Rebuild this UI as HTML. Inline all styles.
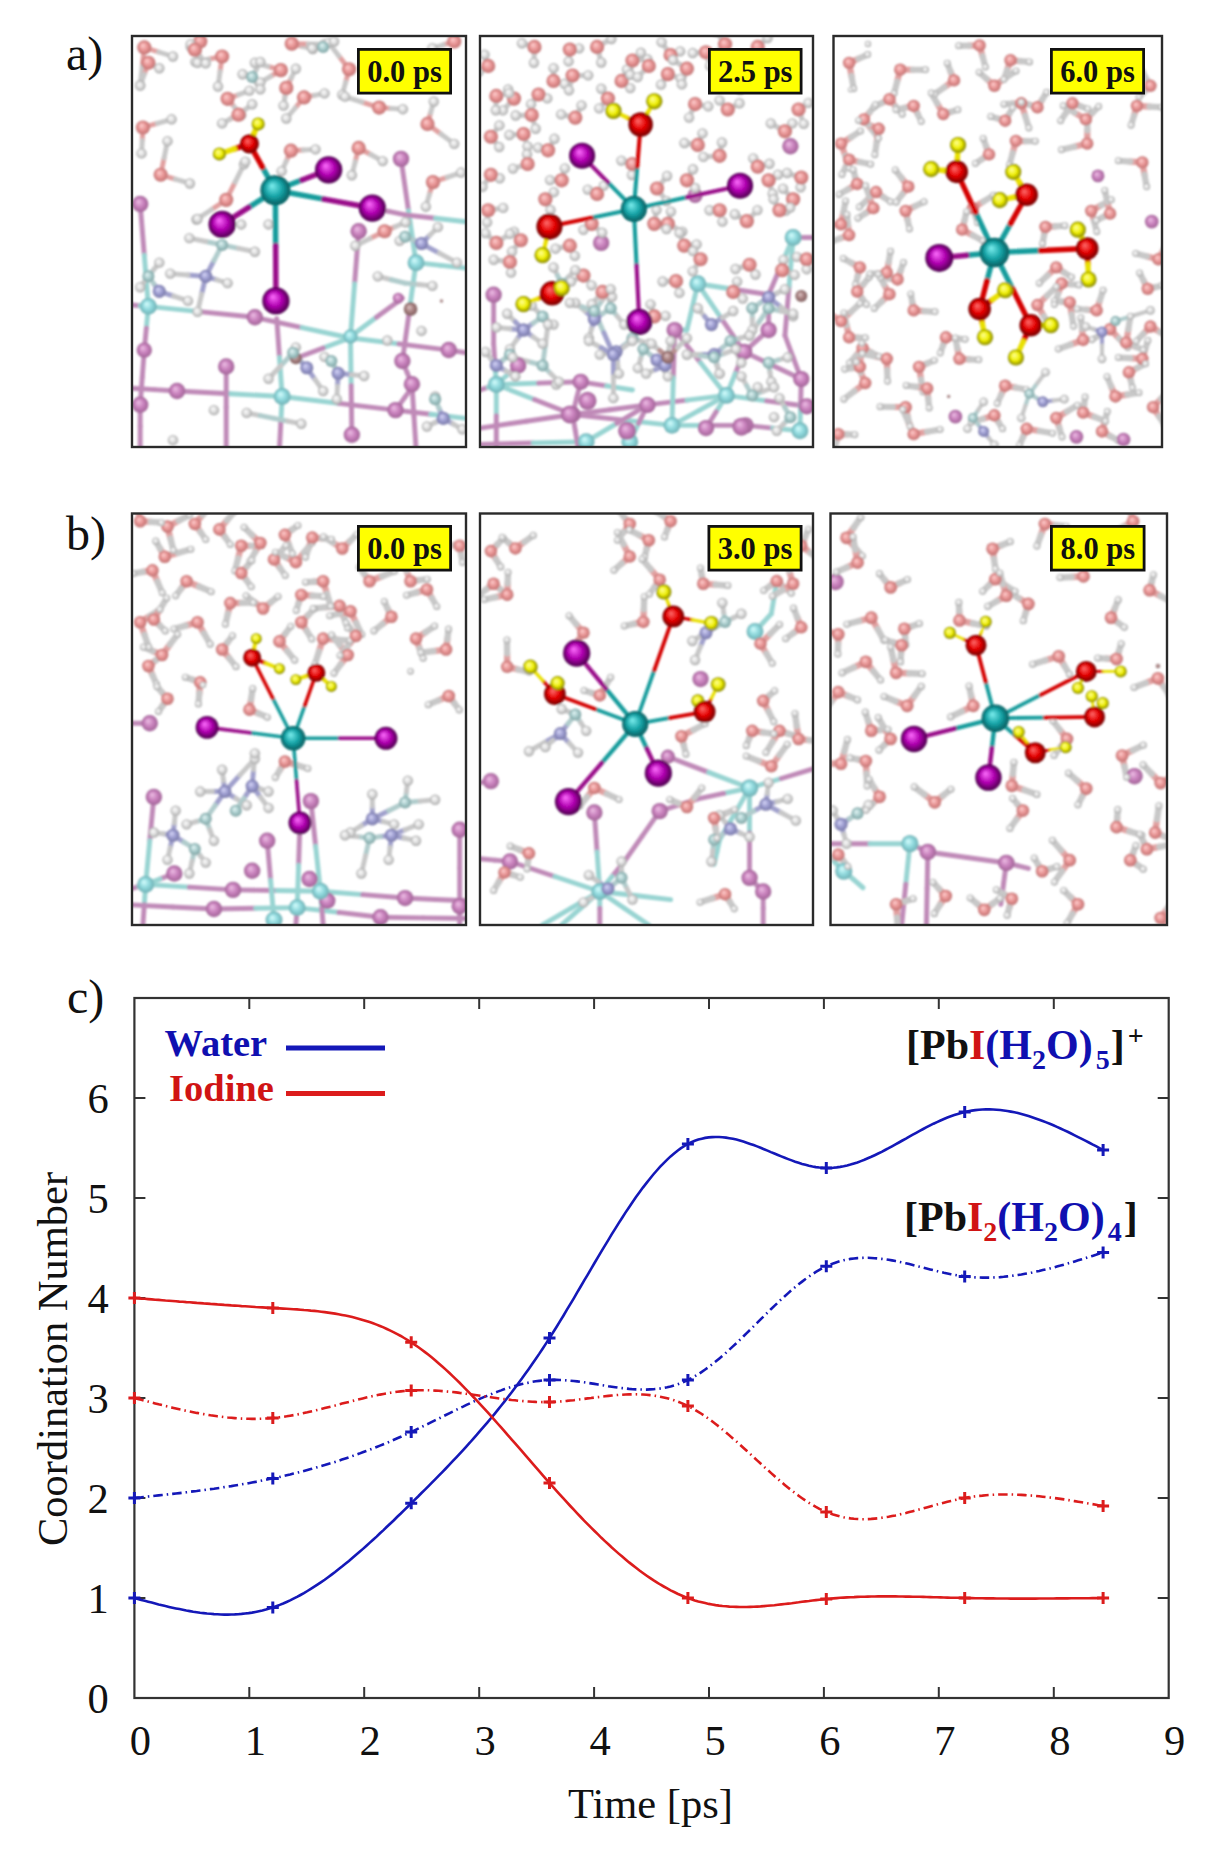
<!DOCTYPE html>
<html><head><meta charset="utf-8"><style>
html,body{margin:0;padding:0;background:#fff;}
body{width:1223px;height:1850px;overflow:hidden;position:relative;}
svg{position:absolute;left:0;top:0;}
text{font-family:"Liberation Serif",serif;}
.tl{font-size:42.5px;fill:#111;}
.pl{font-size:48px;fill:#111;}
.lg{font-size:38.5px;font-weight:bold;}
.fm{font-size:42px;font-weight:bold;}
.ps{font-size:30.5px;font-weight:bold;fill:#111;}
</style></head><body>
<svg width="1223" height="1850" viewBox="0 0 1223 1850">
<defs><radialGradient id="gPb" cx="0.5" cy="0.5" r="0.5" fx="0.38" fy="0.34"><stop offset="0" stop-color="#7ff0f0"/><stop offset="0.55" stop-color="#17a5a8"/><stop offset="1" stop-color="#035a5c"/></radialGradient><radialGradient id="gI" cx="0.5" cy="0.5" r="0.5" fx="0.38" fy="0.34"><stop offset="0" stop-color="#ff70ff"/><stop offset="0.55" stop-color="#b000b0"/><stop offset="1" stop-color="#4a004a"/></radialGradient><radialGradient id="gO" cx="0.5" cy="0.5" r="0.5" fx="0.38" fy="0.34"><stop offset="0" stop-color="#ff7070"/><stop offset="0.55" stop-color="#e40000"/><stop offset="1" stop-color="#700000"/></radialGradient><radialGradient id="gH" cx="0.5" cy="0.5" r="0.5" fx="0.38" fy="0.34"><stop offset="0" stop-color="#ffffa0"/><stop offset="0.55" stop-color="#f0f000"/><stop offset="1" stop-color="#808000"/></radialGradient><radialGradient id="gpb" cx="0.5" cy="0.5" r="0.5" fx="0.38" fy="0.34"><stop offset="0" stop-color="#d8ffff"/><stop offset="0.55" stop-color="#8ed8dc"/><stop offset="1" stop-color="#70b0b4"/></radialGradient><radialGradient id="gi" cx="0.5" cy="0.5" r="0.5" fx="0.38" fy="0.34"><stop offset="0" stop-color="#eec0e6"/><stop offset="0.55" stop-color="#c880bc"/><stop offset="1" stop-color="#a06496"/></radialGradient><radialGradient id="go" cx="0.5" cy="0.5" r="0.5" fx="0.38" fy="0.34"><stop offset="0" stop-color="#ffd0d0"/><stop offset="0.55" stop-color="#e89494"/><stop offset="1" stop-color="#c07272"/></radialGradient><radialGradient id="gh" cx="0.5" cy="0.5" r="0.5" fx="0.38" fy="0.34"><stop offset="0" stop-color="#ffffff"/><stop offset="0.55" stop-color="#dedede"/><stop offset="1" stop-color="#a8a8a8"/></radialGradient><radialGradient id="gn" cx="0.5" cy="0.5" r="0.5" fx="0.38" fy="0.34"><stop offset="0" stop-color="#d8d8f8"/><stop offset="0.55" stop-color="#9c9cd0"/><stop offset="1" stop-color="#7a7aa8"/></radialGradient><radialGradient id="gc" cx="0.5" cy="0.5" r="0.5" fx="0.38" fy="0.34"><stop offset="0" stop-color="#e8f8f8"/><stop offset="0.55" stop-color="#a8cccc"/><stop offset="1" stop-color="#80a4a4"/></radialGradient><radialGradient id="gx" cx="0.5" cy="0.5" r="0.5" fx="0.38" fy="0.34"><stop offset="0" stop-color="#e0c8c8"/><stop offset="0.55" stop-color="#a88080"/><stop offset="1" stop-color="#806060"/></radialGradient><filter id="blur" x="-5%" y="-5%" width="110%" height="110%"><feGaussianBlur stdDeviation="1.1"/></filter></defs>
<clipPath id="cp0"><rect x="132" y="36" width="334" height="411"/></clipPath>
<g clip-path="url(#cp0)"><g filter="url(#blur)"><g transform="translate(132,36) scale(0.27310)" stroke-linecap="round"><path d="M0.0,985.0L30.0,987.5" stroke="#c08ab8" stroke-width="18.0"/><path d="M30.0,987.5L60.0,990.0" stroke="#98d4d2" stroke-width="18.0"/><path d="M60.0,990.0L255.0,1010.0" stroke="#98d4d2" stroke-width="18.0"/><path d="M255.0,1010.0L450.0,1030.0" stroke="#c08ab8" stroke-width="18.0"/><path d="M450.0,1030.0L622.5,1067.5" stroke="#c08ab8" stroke-width="18.0"/><path d="M622.5,1067.5L795.0,1105.0" stroke="#98d4d2" stroke-width="18.0"/><path d="M795.0,1105.0L977.5,1127.5" stroke="#98d4d2" stroke-width="18.0"/><path d="M977.5,1127.5L1160.0,1150.0" stroke="#c08ab8" stroke-width="18.0"/><path d="M1160.0,1150.0L1191.5,1155.0" stroke="#c08ab8" stroke-width="18.0"/><path d="M1191.5,1155.0L1223.0,1160.0" stroke="#c08ab8" stroke-width="18.0"/><path d="M0.0,1290.0L82.5,1295.0" stroke="#c08ab8" stroke-width="18.0"/><path d="M82.5,1295.0L165.0,1300.0" stroke="#c08ab8" stroke-width="18.0"/><path d="M165.0,1300.0L357.5,1310.0" stroke="#c08ab8" stroke-width="18.0"/><path d="M357.5,1310.0L550.0,1320.0" stroke="#98d4d2" stroke-width="18.0"/><path d="M550.0,1320.0L757.5,1345.0" stroke="#98d4d2" stroke-width="18.0"/><path d="M757.5,1345.0L965.0,1370.0" stroke="#c08ab8" stroke-width="18.0"/><path d="M965.0,1370.0L1094.0,1385.0" stroke="#c08ab8" stroke-width="18.0"/><path d="M1094.0,1385.0L1223.0,1400.0" stroke="#98d4d2" stroke-width="18.0"/><path d="M30.0,615.0L45.0,802.5" stroke="#c08ab8" stroke-width="18.0"/><path d="M45.0,802.5L60.0,990.0" stroke="#98d4d2" stroke-width="18.0"/><path d="M60.0,990.0L52.5,1070.0" stroke="#98d4d2" stroke-width="18.0"/><path d="M52.5,1070.0L45.0,1150.0" stroke="#c08ab8" stroke-width="18.0"/><path d="M45.0,1150.0L37.5,1250.0" stroke="#c08ab8" stroke-width="18.0"/><path d="M37.5,1250.0L30.0,1350.0" stroke="#c08ab8" stroke-width="18.0"/><path d="M30.0,1350.0L30.0,1430.0" stroke="#c08ab8" stroke-width="18.0"/><path d="M30.0,1430.0L30.0,1510.0" stroke="#c08ab8" stroke-width="18.0"/><path d="M530.0,1035.0L540.0,1177.5" stroke="#c08ab8" stroke-width="18.0"/><path d="M540.0,1177.5L550.0,1320.0" stroke="#98d4d2" stroke-width="18.0"/><path d="M550.0,1320.0L545.0,1415.0" stroke="#98d4d2" stroke-width="18.0"/><path d="M545.0,1415.0L540.0,1510.0" stroke="#c08ab8" stroke-width="18.0"/><path d="M830.0,715.0L815.0,907.5" stroke="#c08ab8" stroke-width="18.0"/><path d="M815.0,907.5L800.0,1100.0" stroke="#98d4d2" stroke-width="18.0"/><path d="M800.0,1100.0L802.5,1280.0" stroke="#98d4d2" stroke-width="18.0"/><path d="M802.5,1280.0L805.0,1460.0" stroke="#c08ab8" stroke-width="18.0"/><path d="M985.0,450.0L1012.5,640.0" stroke="#c08ab8" stroke-width="18.0"/><path d="M1012.5,640.0L1040.0,830.0" stroke="#98d4d2" stroke-width="18.0"/><path d="M1040.0,830.0L1015.0,1010.0" stroke="#98d4d2" stroke-width="18.0"/><path d="M1015.0,1010.0L990.0,1190.0" stroke="#c08ab8" stroke-width="18.0"/><path d="M990.0,1190.0L1007.5,1232.5" stroke="#c08ab8" stroke-width="18.0"/><path d="M1007.5,1232.5L1025.0,1275.0" stroke="#c08ab8" stroke-width="18.0"/><path d="M1025.0,1275.0L1032.5,1392.5" stroke="#c08ab8" stroke-width="18.0"/><path d="M1032.5,1392.5L1040.0,1510.0" stroke="#c08ab8" stroke-width="18.0"/><path d="M345.0,1210.0L345.0,1360.0" stroke="#c08ab8" stroke-width="18.0"/><path d="M345.0,1360.0L345.0,1510.0" stroke="#c08ab8" stroke-width="18.0"/><path d="M800.0,1100.0L895.0,1030.0" stroke="#98d4d2" stroke-width="18.0"/><path d="M895.0,1030.0L990.0,960.0" stroke="#c08ab8" stroke-width="18.0"/><path d="M1040.0,830.0L1131.5,840.0" stroke="#98d4d2" stroke-width="18.0"/><path d="M1131.5,840.0L1223.0,850.0" stroke="#98d4d2" stroke-width="18.0"/><path d="M880.0,630.0L940.0,642.5" stroke="#c08ab8" stroke-width="18.0"/><path d="M940.0,642.5L1000.0,655.0" stroke="#c08ab8" stroke-width="18.0"/><path d="M1000.0,655.0L1111.5,667.5" stroke="#c08ab8" stroke-width="18.0"/><path d="M1111.5,667.5L1223.0,680.0" stroke="#98d4d2" stroke-width="18.0"/><path d="M965.0,1370.0L997.5,1325.0" stroke="#c08ab8" stroke-width="18.0"/><path d="M997.5,1325.0L1030.0,1280.0" stroke="#c08ab8" stroke-width="18.0"/><path d="M45.0,42.0L97.5,58.5" stroke="#e2a0a0" stroke-width="18.0"/><path d="M97.5,58.5L150.0,75.0" stroke="#c8c8c8" stroke-width="18.0"/><path d="M45.0,42.0L37.5,111.0" stroke="#e2a0a0" stroke-width="18.0"/><path d="M37.5,111.0L30.0,180.0" stroke="#c8c8c8" stroke-width="18.0"/><path d="M330.0,75.0L281.0,85.0" stroke="#e2a0a0" stroke-width="18.0"/><path d="M281.0,85.0L232.0,95.0" stroke="#c8c8c8" stroke-width="18.0"/><path d="M330.0,75.0L322.5,130.0" stroke="#e2a0a0" stroke-width="18.0"/><path d="M322.5,130.0L315.0,185.0" stroke="#c8c8c8" stroke-width="18.0"/><path d="M545.0,125.0L497.5,111.5" stroke="#e2a0a0" stroke-width="18.0"/><path d="M497.5,111.5L450.0,98.0" stroke="#c8c8c8" stroke-width="18.0"/><path d="M545.0,125.0L507.5,147.5" stroke="#e2a0a0" stroke-width="18.0"/><path d="M507.5,147.5L470.0,170.0" stroke="#c8c8c8" stroke-width="18.0"/><path d="M565.0,190.0L560.0,222.5" stroke="#e2a0a0" stroke-width="18.0"/><path d="M560.0,222.5L555.0,255.0" stroke="#c8c8c8" stroke-width="18.0"/><path d="M565.0,190.0L582.5,155.0" stroke="#e2a0a0" stroke-width="18.0"/><path d="M582.5,155.0L600.0,120.0" stroke="#c8c8c8" stroke-width="18.0"/><path d="M350.0,230.0L390.0,215.0" stroke="#e2a0a0" stroke-width="18.0"/><path d="M390.0,215.0L430.0,200.0" stroke="#c8c8c8" stroke-width="18.0"/><path d="M350.0,230.0L375.0,260.0" stroke="#e2a0a0" stroke-width="18.0"/><path d="M375.0,260.0L400.0,290.0" stroke="#c8c8c8" stroke-width="18.0"/><path d="M630.0,225.0L597.5,263.5" stroke="#e2a0a0" stroke-width="18.0"/><path d="M597.5,263.5L565.0,302.0" stroke="#c8c8c8" stroke-width="18.0"/><path d="M630.0,225.0L667.5,217.5" stroke="#e2a0a0" stroke-width="18.0"/><path d="M667.5,217.5L705.0,210.0" stroke="#c8c8c8" stroke-width="18.0"/><path d="M585.0,28.0L623.5,38.0" stroke="#e2a0a0" stroke-width="18.0"/><path d="M623.5,38.0L662.0,48.0" stroke="#c8c8c8" stroke-width="18.0"/><path d="M585.0,28.0L645.0,29.0" stroke="#e2a0a0" stroke-width="18.0"/><path d="M645.0,29.0L705.0,30.0" stroke="#c8c8c8" stroke-width="18.0"/><path d="M795.0,122.0L782.5,168.5" stroke="#e2a0a0" stroke-width="18.0"/><path d="M782.5,168.5L770.0,215.0" stroke="#c8c8c8" stroke-width="18.0"/><path d="M795.0,122.0L757.5,73.5" stroke="#e2a0a0" stroke-width="18.0"/><path d="M757.5,73.5L720.0,25.0" stroke="#c8c8c8" stroke-width="18.0"/><path d="M905.0,262.0L842.5,242.0" stroke="#e2a0a0" stroke-width="18.0"/><path d="M842.5,242.0L780.0,222.0" stroke="#c8c8c8" stroke-width="18.0"/><path d="M905.0,262.0L948.5,265.0" stroke="#e2a0a0" stroke-width="18.0"/><path d="M948.5,265.0L992.0,268.0" stroke="#c8c8c8" stroke-width="18.0"/><path d="M1082.0,322.0L1131.0,358.5" stroke="#e2a0a0" stroke-width="18.0"/><path d="M1131.0,358.5L1180.0,395.0" stroke="#c8c8c8" stroke-width="18.0"/><path d="M1082.0,322.0L1093.5,281.0" stroke="#e2a0a0" stroke-width="18.0"/><path d="M1093.5,281.0L1105.0,240.0" stroke="#c8c8c8" stroke-width="18.0"/><path d="M1180.0,20.0L1140.0,32.5" stroke="#e2a0a0" stroke-width="18.0"/><path d="M1140.0,32.5L1100.0,45.0" stroke="#c8c8c8" stroke-width="18.0"/><path d="M40.0,335.0L92.5,320.0" stroke="#e2a0a0" stroke-width="18.0"/><path d="M92.5,320.0L145.0,305.0" stroke="#c8c8c8" stroke-width="18.0"/><path d="M40.0,335.0L37.5,382.5" stroke="#e2a0a0" stroke-width="18.0"/><path d="M37.5,382.5L35.0,430.0" stroke="#c8c8c8" stroke-width="18.0"/><path d="M105.0,508.0L117.5,446.5" stroke="#e2a0a0" stroke-width="18.0"/><path d="M117.5,446.5L130.0,385.0" stroke="#c8c8c8" stroke-width="18.0"/><path d="M105.0,508.0L158.5,524.0" stroke="#e2a0a0" stroke-width="18.0"/><path d="M158.5,524.0L212.0,540.0" stroke="#c8c8c8" stroke-width="18.0"/><path d="M582.0,420.0L627.0,417.5" stroke="#e2a0a0" stroke-width="18.0"/><path d="M627.0,417.5L672.0,415.0" stroke="#c8c8c8" stroke-width="18.0"/><path d="M582.0,420.0L565.0,457.5" stroke="#e2a0a0" stroke-width="18.0"/><path d="M565.0,457.5L548.0,495.0" stroke="#c8c8c8" stroke-width="18.0"/><path d="M830.0,410.0L817.5,460.0" stroke="#e2a0a0" stroke-width="18.0"/><path d="M817.5,460.0L805.0,510.0" stroke="#c8c8c8" stroke-width="18.0"/><path d="M830.0,410.0L874.0,434.0" stroke="#e2a0a0" stroke-width="18.0"/><path d="M874.0,434.0L918.0,458.0" stroke="#c8c8c8" stroke-width="18.0"/><path d="M1102.0,535.0L1153.5,517.5" stroke="#e2a0a0" stroke-width="18.0"/><path d="M1153.5,517.5L1205.0,500.0" stroke="#c8c8c8" stroke-width="18.0"/><path d="M1102.0,535.0L1089.0,580.0" stroke="#e2a0a0" stroke-width="18.0"/><path d="M1089.0,580.0L1076.0,625.0" stroke="#c8c8c8" stroke-width="18.0"/><path d="M345.0,600.0L290.5,636.0" stroke="#e2a0a0" stroke-width="18.0"/><path d="M290.5,636.0L236.0,672.0" stroke="#c8c8c8" stroke-width="18.0"/><path d="M345.0,600.0L377.5,535.0" stroke="#e2a0a0" stroke-width="18.0"/><path d="M377.5,535.0L410.0,470.0" stroke="#c8c8c8" stroke-width="18.0"/><path d="M925.0,715.0L871.5,741.5" stroke="#e2a0a0" stroke-width="18.0"/><path d="M871.5,741.5L818.0,768.0" stroke="#c8c8c8" stroke-width="18.0"/><path d="M925.0,715.0L963.5,698.5" stroke="#e2a0a0" stroke-width="18.0"/><path d="M963.5,698.5L1002.0,682.0" stroke="#c8c8c8" stroke-width="18.0"/><path d="M250.0,20.0L232.5,30.0" stroke="#e2a0a0" stroke-width="18.0"/><path d="M232.5,30.0L215.0,40.0" stroke="#c8c8c8" stroke-width="18.0"/><path d="M250.0,20.0L245.0,59.0" stroke="#e2a0a0" stroke-width="18.0"/><path d="M245.0,59.0L240.0,98.0" stroke="#c8c8c8" stroke-width="18.0"/><path d="M800.0,1105.0L700.0,1142.5" stroke="#98d4d2" stroke-width="18.0"/><path d="M700.0,1142.5L600.0,1180.0" stroke="#c08ab8" stroke-width="18.0"/><path d="M405.0,140.0L422.5,145.0" stroke="#c8c8c8" stroke-width="18.0"/><path d="M422.5,145.0L440.0,150.0" stroke="#b0cccc" stroke-width="18.0"/><path d="M440.0,150.0L455.0,122.5" stroke="#b0cccc" stroke-width="18.0"/><path d="M455.0,122.5L470.0,95.0" stroke="#c8c8c8" stroke-width="18.0"/><path d="M440.0,150.0L455.0,172.5" stroke="#b0cccc" stroke-width="18.0"/><path d="M455.0,172.5L470.0,195.0" stroke="#c8c8c8" stroke-width="18.0"/><path d="M660.0,45.0L680.0,42.5" stroke="#c8c8c8" stroke-width="18.0"/><path d="M680.0,42.5L700.0,40.0" stroke="#b0cccc" stroke-width="18.0"/><path d="M700.0,40.0L720.0,30.0" stroke="#b0cccc" stroke-width="18.0"/><path d="M720.0,30.0L740.0,20.0" stroke="#c8c8c8" stroke-width="18.0"/><path d="M390.0,288.0L415.0,269.0" stroke="#e2a0a0" stroke-width="18.0"/><path d="M415.0,269.0L440.0,250.0" stroke="#c8c8c8" stroke-width="18.0"/><path d="M390.0,288.0L360.0,304.0" stroke="#e2a0a0" stroke-width="18.0"/><path d="M360.0,304.0L330.0,320.0" stroke="#c8c8c8" stroke-width="18.0"/><path d="M230.0,50.0L222.5,40.0" stroke="#e2a0a0" stroke-width="18.0"/><path d="M222.5,40.0L215.0,30.0" stroke="#c8c8c8" stroke-width="18.0"/><path d="M230.0,50.0L250.0,75.0" stroke="#e2a0a0" stroke-width="18.0"/><path d="M250.0,75.0L270.0,100.0" stroke="#c8c8c8" stroke-width="18.0"/><path d="M60.0,98.0L80.0,108.0" stroke="#e2a0a0" stroke-width="18.0"/><path d="M80.0,108.0L100.0,118.0" stroke="#c8c8c8" stroke-width="18.0"/><path d="M60.0,98.0L45.0,140.0" stroke="#e2a0a0" stroke-width="18.0"/><path d="M45.0,140.0L30.0,182.0" stroke="#c8c8c8" stroke-width="18.0"/><path d="M270.0,880.0L300.0,822.5" stroke="#a0a0cc" stroke-width="18.0"/><path d="M300.0,822.5L330.0,765.0" stroke="#b0cccc" stroke-width="18.0"/><path d="M270.0,880.0L205.0,875.0" stroke="#a0a0cc" stroke-width="18.0"/><path d="M205.0,875.0L140.0,870.0" stroke="#c8c8c8" stroke-width="18.0"/><path d="M270.0,880.0L310.0,892.5" stroke="#a0a0cc" stroke-width="18.0"/><path d="M310.0,892.5L350.0,905.0" stroke="#c8c8c8" stroke-width="18.0"/><path d="M330.0,765.0L270.0,752.5" stroke="#b0cccc" stroke-width="18.0"/><path d="M270.0,752.5L210.0,740.0" stroke="#c8c8c8" stroke-width="18.0"/><path d="M330.0,765.0L390.0,777.5" stroke="#b0cccc" stroke-width="18.0"/><path d="M390.0,777.5L450.0,790.0" stroke="#c8c8c8" stroke-width="18.0"/><path d="M270.0,880.0L255.0,945.0" stroke="#a0a0cc" stroke-width="18.0"/><path d="M255.0,945.0L240.0,1010.0" stroke="#c8c8c8" stroke-width="18.0"/><path d="M100.0,935.0L80.0,907.5" stroke="#a0a0cc" stroke-width="18.0"/><path d="M80.0,907.5L60.0,880.0" stroke="#b0cccc" stroke-width="18.0"/><path d="M60.0,880.0L80.0,855.0" stroke="#b0cccc" stroke-width="18.0"/><path d="M80.0,855.0L100.0,830.0" stroke="#c8c8c8" stroke-width="18.0"/><path d="M100.0,935.0L152.5,952.5" stroke="#a0a0cc" stroke-width="18.0"/><path d="M152.5,952.5L205.0,970.0" stroke="#c8c8c8" stroke-width="18.0"/><path d="M60.0,880.0L45.0,900.0" stroke="#b0cccc" stroke-width="18.0"/><path d="M45.0,900.0L30.0,920.0" stroke="#c8c8c8" stroke-width="18.0"/><path d="M1060.0,760.0L1030.0,747.5" stroke="#a0a0cc" stroke-width="18.0"/><path d="M1030.0,747.5L1000.0,735.0" stroke="#b0cccc" stroke-width="18.0"/><path d="M1000.0,735.0L990.0,742.5" stroke="#b0cccc" stroke-width="18.0"/><path d="M990.0,742.5L980.0,750.0" stroke="#c8c8c8" stroke-width="18.0"/><path d="M1060.0,760.0L1125.0,795.0" stroke="#a0a0cc" stroke-width="18.0"/><path d="M1125.0,795.0L1190.0,830.0" stroke="#c8c8c8" stroke-width="18.0"/><path d="M1060.0,760.0L1090.0,730.0" stroke="#a0a0cc" stroke-width="18.0"/><path d="M1090.0,730.0L1120.0,700.0" stroke="#c8c8c8" stroke-width="18.0"/><path d="M640.0,1215.0L615.0,1187.5" stroke="#a0a0cc" stroke-width="18.0"/><path d="M615.0,1187.5L590.0,1160.0" stroke="#b0cccc" stroke-width="18.0"/><path d="M590.0,1160.0L595.0,1150.0" stroke="#b0cccc" stroke-width="18.0"/><path d="M595.0,1150.0L600.0,1140.0" stroke="#c8c8c8" stroke-width="18.0"/><path d="M590.0,1160.0L545.0,1207.5" stroke="#b0cccc" stroke-width="18.0"/><path d="M545.0,1207.5L500.0,1255.0" stroke="#c8c8c8" stroke-width="18.0"/><path d="M640.0,1215.0L670.0,1257.5" stroke="#a0a0cc" stroke-width="18.0"/><path d="M670.0,1257.5L700.0,1300.0" stroke="#c8c8c8" stroke-width="18.0"/><path d="M755.0,1235.0L742.5,1212.5" stroke="#a0a0cc" stroke-width="18.0"/><path d="M742.5,1212.5L730.0,1190.0" stroke="#b0cccc" stroke-width="18.0"/><path d="M755.0,1235.0L802.5,1240.0" stroke="#a0a0cc" stroke-width="18.0"/><path d="M802.5,1240.0L850.0,1245.0" stroke="#c8c8c8" stroke-width="18.0"/><path d="M755.0,1235.0L752.5,1282.5" stroke="#a0a0cc" stroke-width="18.0"/><path d="M752.5,1282.5L750.0,1330.0" stroke="#c8c8c8" stroke-width="18.0"/><path d="M730.0,1190.0L717.5,1182.5" stroke="#b0cccc" stroke-width="18.0"/><path d="M717.5,1182.5L705.0,1175.0" stroke="#c8c8c8" stroke-width="18.0"/><path d="M1140.0,1400.0L1125.0,1365.0" stroke="#a0a0cc" stroke-width="18.0"/><path d="M1125.0,1365.0L1110.0,1330.0" stroke="#b0cccc" stroke-width="18.0"/><path d="M1110.0,1330.0L1110.0,1325.0" stroke="#b0cccc" stroke-width="18.0"/><path d="M1110.0,1325.0L1110.0,1320.0" stroke="#c8c8c8" stroke-width="18.0"/><path d="M1140.0,1400.0L1110.0,1415.0" stroke="#a0a0cc" stroke-width="18.0"/><path d="M1110.0,1415.0L1080.0,1430.0" stroke="#c8c8c8" stroke-width="18.0"/><path d="M1140.0,1400.0L1175.0,1420.0" stroke="#a0a0cc" stroke-width="18.0"/><path d="M1175.0,1420.0L1210.0,1440.0" stroke="#c8c8c8" stroke-width="18.0"/><path d="M900.0,880.0L950.0,892.5" stroke="#c8c8c8" stroke-width="18.0"/><path d="M950.0,892.5L1000.0,905.0" stroke="#b0cccc" stroke-width="18.0"/><path d="M1000.0,905.0L1050.0,910.0" stroke="#b0cccc" stroke-width="18.0"/><path d="M1050.0,910.0L1100.0,915.0" stroke="#c8c8c8" stroke-width="18.0"/><path d="M420.0,1380.0L470.0,1390.0" stroke="#c8c8c8" stroke-width="18.0"/><path d="M470.0,1390.0L520.0,1400.0" stroke="#b0cccc" stroke-width="18.0"/><path d="M520.0,1400.0L570.0,1410.0" stroke="#b0cccc" stroke-width="18.0"/><path d="M570.0,1410.0L620.0,1420.0" stroke="#c8c8c8" stroke-width="18.0"/><circle cx="60.0" cy="990.0" r="31.0" fill="url(#gpb)"/><circle cx="1040.0" cy="830.0" r="31.0" fill="url(#gpb)"/><circle cx="800.0" cy="1100.0" r="26.0" fill="url(#gpb)"/><circle cx="550.0" cy="1320.0" r="31.0" fill="url(#gpb)"/><circle cx="30.0" cy="615.0" r="30.0" fill="url(#gi)"/><circle cx="985.0" cy="450.0" r="30.0" fill="url(#gi)"/><circle cx="830.0" cy="715.0" r="30.0" fill="url(#gi)"/><circle cx="450.0" cy="1030.0" r="30.0" fill="url(#gi)"/><circle cx="345.0" cy="1210.0" r="30.0" fill="url(#gi)"/><circle cx="165.0" cy="1300.0" r="30.0" fill="url(#gi)"/><circle cx="30.0" cy="1350.0" r="30.0" fill="url(#gi)"/><circle cx="45.0" cy="1150.0" r="28.0" fill="url(#gi)"/><circle cx="1160.0" cy="1150.0" r="30.0" fill="url(#gi)"/><circle cx="990.0" cy="1190.0" r="30.0" fill="url(#gi)"/><circle cx="965.0" cy="1370.0" r="30.0" fill="url(#gi)"/><circle cx="1025.0" cy="1275.0" r="30.0" fill="url(#gi)"/><circle cx="805.0" cy="1460.0" r="30.0" fill="url(#gi)"/><circle cx="975.0" cy="960.0" r="20.0" fill="url(#gi)"/><circle cx="150.0" cy="75.0" r="19.0" fill="url(#gh)"/><circle cx="30.0" cy="180.0" r="19.0" fill="url(#gh)"/><circle cx="45.0" cy="42.0" r="26.0" fill="url(#go)"/><circle cx="232.0" cy="95.0" r="19.0" fill="url(#gh)"/><circle cx="315.0" cy="185.0" r="19.0" fill="url(#gh)"/><circle cx="330.0" cy="75.0" r="26.0" fill="url(#go)"/><circle cx="450.0" cy="98.0" r="19.0" fill="url(#gh)"/><circle cx="470.0" cy="170.0" r="19.0" fill="url(#gh)"/><circle cx="545.0" cy="125.0" r="26.0" fill="url(#go)"/><circle cx="555.0" cy="255.0" r="19.0" fill="url(#gh)"/><circle cx="600.0" cy="120.0" r="19.0" fill="url(#gh)"/><circle cx="565.0" cy="190.0" r="26.0" fill="url(#go)"/><circle cx="430.0" cy="200.0" r="19.0" fill="url(#gh)"/><circle cx="400.0" cy="290.0" r="19.0" fill="url(#gh)"/><circle cx="350.0" cy="230.0" r="26.0" fill="url(#go)"/><circle cx="565.0" cy="302.0" r="19.0" fill="url(#gh)"/><circle cx="705.0" cy="210.0" r="19.0" fill="url(#gh)"/><circle cx="630.0" cy="225.0" r="26.0" fill="url(#go)"/><circle cx="662.0" cy="48.0" r="19.0" fill="url(#gh)"/><circle cx="705.0" cy="30.0" r="19.0" fill="url(#gh)"/><circle cx="585.0" cy="28.0" r="26.0" fill="url(#go)"/><circle cx="770.0" cy="215.0" r="19.0" fill="url(#gh)"/><circle cx="720.0" cy="25.0" r="19.0" fill="url(#gh)"/><circle cx="795.0" cy="122.0" r="26.0" fill="url(#go)"/><circle cx="780.0" cy="222.0" r="19.0" fill="url(#gh)"/><circle cx="992.0" cy="268.0" r="19.0" fill="url(#gh)"/><circle cx="905.0" cy="262.0" r="26.0" fill="url(#go)"/><circle cx="1180.0" cy="395.0" r="19.0" fill="url(#gh)"/><circle cx="1105.0" cy="240.0" r="19.0" fill="url(#gh)"/><circle cx="1082.0" cy="322.0" r="26.0" fill="url(#go)"/><circle cx="1100.0" cy="45.0" r="19.0" fill="url(#gh)"/><circle cx="1180.0" cy="20.0" r="26.0" fill="url(#go)"/><circle cx="145.0" cy="305.0" r="19.0" fill="url(#gh)"/><circle cx="35.0" cy="430.0" r="19.0" fill="url(#gh)"/><circle cx="40.0" cy="335.0" r="26.0" fill="url(#go)"/><circle cx="130.0" cy="385.0" r="19.0" fill="url(#gh)"/><circle cx="212.0" cy="540.0" r="19.0" fill="url(#gh)"/><circle cx="105.0" cy="508.0" r="26.0" fill="url(#go)"/><circle cx="672.0" cy="415.0" r="19.0" fill="url(#gh)"/><circle cx="548.0" cy="495.0" r="19.0" fill="url(#gh)"/><circle cx="582.0" cy="420.0" r="26.0" fill="url(#go)"/><circle cx="805.0" cy="510.0" r="19.0" fill="url(#gh)"/><circle cx="918.0" cy="458.0" r="19.0" fill="url(#gh)"/><circle cx="830.0" cy="410.0" r="26.0" fill="url(#go)"/><circle cx="1205.0" cy="500.0" r="19.0" fill="url(#gh)"/><circle cx="1076.0" cy="625.0" r="19.0" fill="url(#gh)"/><circle cx="1102.0" cy="535.0" r="26.0" fill="url(#go)"/><circle cx="236.0" cy="672.0" r="19.0" fill="url(#gh)"/><circle cx="410.0" cy="470.0" r="19.0" fill="url(#gh)"/><circle cx="345.0" cy="600.0" r="26.0" fill="url(#go)"/><circle cx="818.0" cy="768.0" r="19.0" fill="url(#gh)"/><circle cx="1002.0" cy="682.0" r="19.0" fill="url(#gh)"/><circle cx="925.0" cy="715.0" r="26.0" fill="url(#go)"/><circle cx="215.0" cy="40.0" r="19.0" fill="url(#gh)"/><circle cx="240.0" cy="98.0" r="19.0" fill="url(#gh)"/><circle cx="250.0" cy="20.0" r="26.0" fill="url(#go)"/><circle cx="1020.0" cy="1000.0" r="25.0" fill="url(#gx)"/><circle cx="600.0" cy="1180.0" r="22.0" fill="url(#gx)"/><circle cx="405.0" cy="140.0" r="19.0" fill="url(#gh)"/><circle cx="440.0" cy="150.0" r="22.0" fill="url(#gc)"/><circle cx="470.0" cy="95.0" r="19.0" fill="url(#gh)"/><circle cx="470.0" cy="195.0" r="19.0" fill="url(#gh)"/><circle cx="660.0" cy="45.0" r="19.0" fill="url(#gh)"/><circle cx="700.0" cy="40.0" r="22.0" fill="url(#gc)"/><circle cx="740.0" cy="20.0" r="19.0" fill="url(#gh)"/><circle cx="440.0" cy="250.0" r="19.0" fill="url(#gh)"/><circle cx="330.0" cy="320.0" r="19.0" fill="url(#gh)"/><circle cx="390.0" cy="288.0" r="26.0" fill="url(#go)"/><circle cx="215.0" cy="30.0" r="19.0" fill="url(#gh)"/><circle cx="270.0" cy="100.0" r="19.0" fill="url(#gh)"/><circle cx="230.0" cy="50.0" r="26.0" fill="url(#go)"/><circle cx="100.0" cy="118.0" r="19.0" fill="url(#gh)"/><circle cx="30.0" cy="182.0" r="19.0" fill="url(#gh)"/><circle cx="60.0" cy="98.0" r="26.0" fill="url(#go)"/><circle cx="140.0" cy="870.0" r="19.0" fill="url(#gh)"/><circle cx="350.0" cy="905.0" r="19.0" fill="url(#gh)"/><circle cx="210.0" cy="740.0" r="19.0" fill="url(#gh)"/><circle cx="450.0" cy="790.0" r="19.0" fill="url(#gh)"/><circle cx="240.0" cy="1010.0" r="19.0" fill="url(#gh)"/><circle cx="270.0" cy="880.0" r="24.0" fill="url(#gn)"/><circle cx="330.0" cy="765.0" r="22.0" fill="url(#gc)"/><circle cx="100.0" cy="830.0" r="19.0" fill="url(#gh)"/><circle cx="205.0" cy="970.0" r="19.0" fill="url(#gh)"/><circle cx="30.0" cy="920.0" r="19.0" fill="url(#gh)"/><circle cx="100.0" cy="935.0" r="24.0" fill="url(#gn)"/><circle cx="60.0" cy="880.0" r="22.0" fill="url(#gc)"/><circle cx="980.0" cy="750.0" r="19.0" fill="url(#gh)"/><circle cx="1190.0" cy="830.0" r="19.0" fill="url(#gh)"/><circle cx="1120.0" cy="700.0" r="19.0" fill="url(#gh)"/><circle cx="1060.0" cy="760.0" r="24.0" fill="url(#gn)"/><circle cx="1000.0" cy="735.0" r="22.0" fill="url(#gc)"/><circle cx="600.0" cy="1140.0" r="19.0" fill="url(#gh)"/><circle cx="500.0" cy="1255.0" r="19.0" fill="url(#gh)"/><circle cx="700.0" cy="1300.0" r="19.0" fill="url(#gh)"/><circle cx="640.0" cy="1215.0" r="24.0" fill="url(#gn)"/><circle cx="590.0" cy="1160.0" r="22.0" fill="url(#gc)"/><circle cx="850.0" cy="1245.0" r="19.0" fill="url(#gh)"/><circle cx="750.0" cy="1330.0" r="19.0" fill="url(#gh)"/><circle cx="705.0" cy="1175.0" r="19.0" fill="url(#gh)"/><circle cx="755.0" cy="1235.0" r="24.0" fill="url(#gn)"/><circle cx="730.0" cy="1190.0" r="22.0" fill="url(#gc)"/><circle cx="1110.0" cy="1320.0" r="19.0" fill="url(#gh)"/><circle cx="1080.0" cy="1430.0" r="19.0" fill="url(#gh)"/><circle cx="1210.0" cy="1440.0" r="19.0" fill="url(#gh)"/><circle cx="1140.0" cy="1400.0" r="24.0" fill="url(#gn)"/><circle cx="1110.0" cy="1330.0" r="22.0" fill="url(#gc)"/><circle cx="900.0" cy="880.0" r="19.0" fill="url(#gh)"/><circle cx="1100.0" cy="915.0" r="19.0" fill="url(#gh)"/><circle cx="420.0" cy="1380.0" r="19.0" fill="url(#gh)"/><circle cx="620.0" cy="1420.0" r="19.0" fill="url(#gh)"/><circle cx="300.0" cy="1370.0" r="19.0" fill="url(#gh)"/><circle cx="150.0" cy="1480.0" r="19.0" fill="url(#gh)"/><circle cx="1060.0" cy="1080.0" r="19.0" fill="url(#gh)"/><circle cx="935.0" cy="1115.0" r="19.0" fill="url(#gh)"/><circle cx="400.0" cy="690.0" r="19.0" fill="url(#gh)"/><circle cx="500.0" cy="690.0" r="19.0" fill="url(#gh)"/><circle cx="240.0" cy="670.0" r="19.0" fill="url(#gh)"/><circle cx="415.0" cy="460.0" r="19.0" fill="url(#gh)"/><circle cx="1133.0" cy="970.0" r="6.0" fill="url(#gx)"/><path d="M525.0,565.0L622.5,527.5" stroke="#189c9c" stroke-width="20"/><path d="M622.5,527.5L720.0,490.0" stroke="#9a0a8a" stroke-width="20"/><path d="M525.0,565.0L702.5,597.5" stroke="#189c9c" stroke-width="20"/><path d="M702.5,597.5L880.0,630.0" stroke="#9a0a8a" stroke-width="20"/><path d="M525.0,565.0L427.5,627.5" stroke="#189c9c" stroke-width="20"/><path d="M427.5,627.5L330.0,690.0" stroke="#9a0a8a" stroke-width="20"/><path d="M525.0,565.0L526.0,767.5" stroke="#189c9c" stroke-width="20"/><path d="M526.0,767.5L527.0,970.0" stroke="#9a0a8a" stroke-width="20"/><path d="M525.0,565.0L477.5,480.0" stroke="#189c9c" stroke-width="20"/><path d="M477.5,480.0L430.0,395.0" stroke="#d40000" stroke-width="20"/><path d="M430.0,395.0L375.0,413.5" stroke="#d40000" stroke-width="20"/><path d="M375.0,413.5L320.0,432.0" stroke="#e8e000" stroke-width="20"/><path d="M430.0,395.0L446.0,358.5" stroke="#d40000" stroke-width="20"/><path d="M446.0,358.5L462.0,322.0" stroke="#e8e000" stroke-width="20"/><circle cx="462.0" cy="322.0" r="24" fill="url(#gH)"/><circle cx="430.0" cy="395.0" r="35" fill="url(#gO)"/><circle cx="320.0" cy="432.0" r="24" fill="url(#gH)"/><circle cx="525.0" cy="565.0" r="55" fill="url(#gPb)"/><circle cx="720.0" cy="490.0" r="50" fill="url(#gI)"/><circle cx="880.0" cy="630.0" r="50" fill="url(#gI)"/><circle cx="330.0" cy="690.0" r="50" fill="url(#gI)"/><circle cx="527.0" cy="970.0" r="50" fill="url(#gI)"/></g></g></g>
<rect x="132" y="36" width="334" height="411" fill="none" stroke="#2a2a2a" stroke-width="2.4"/>
<rect x="358.4" y="49.4" width="92.2" height="43.7" fill="#ffff00" stroke="#111" stroke-width="2.8"/>
<text x="404.5" y="81.5" class="ps" text-anchor="middle">0.0 ps</text>
<clipPath id="cp1"><rect x="480" y="36" width="333" height="411"/></clipPath>
<g clip-path="url(#cp1)"><g filter="url(#blur)"><g transform="translate(480,36) scale(0.27228)" stroke-linecap="round"><path d="M0.0,1300.0L30.0,1290.0" stroke="#c08ab8" stroke-width="18.0"/><path d="M30.0,1290.0L60.0,1280.0" stroke="#98d4d2" stroke-width="18.0"/><path d="M60.0,1280.0L215.0,1275.0" stroke="#98d4d2" stroke-width="18.0"/><path d="M215.0,1275.0L370.0,1270.0" stroke="#c08ab8" stroke-width="18.0"/><path d="M370.0,1270.0L465.0,1285.0" stroke="#c08ab8" stroke-width="18.0"/><path d="M465.0,1285.0L560.0,1300.0" stroke="#98d4d2" stroke-width="18.0"/><path d="M60.0,1280.0L200.0,1335.0" stroke="#98d4d2" stroke-width="18.0"/><path d="M200.0,1335.0L340.0,1390.0" stroke="#c08ab8" stroke-width="18.0"/><path d="M340.0,1390.0L477.5,1372.5" stroke="#c08ab8" stroke-width="18.0"/><path d="M477.5,1372.5L615.0,1355.0" stroke="#c08ab8" stroke-width="18.0"/><path d="M615.0,1355.0L760.0,1337.5" stroke="#c08ab8" stroke-width="18.0"/><path d="M760.0,1337.5L905.0,1320.0" stroke="#98d4d2" stroke-width="18.0"/><path d="M905.0,1320.0L1052.5,1340.0" stroke="#98d4d2" stroke-width="18.0"/><path d="M1052.5,1340.0L1200.0,1360.0" stroke="#c08ab8" stroke-width="18.0"/><path d="M1200.0,1360.0L1211.5,1361.0" stroke="#c08ab8" stroke-width="18.0"/><path d="M1211.5,1361.0L1223.0,1362.0" stroke="#c08ab8" stroke-width="18.0"/><path d="M0.0,1440.0L170.0,1415.0" stroke="#c08ab8" stroke-width="18.0"/><path d="M170.0,1415.0L340.0,1390.0" stroke="#c08ab8" stroke-width="18.0"/><path d="M340.0,1390.0L522.5,1410.0" stroke="#c08ab8" stroke-width="18.0"/><path d="M522.5,1410.0L705.0,1430.0" stroke="#98d4d2" stroke-width="18.0"/><path d="M705.0,1430.0L840.0,1430.0" stroke="#98d4d2" stroke-width="18.0"/><path d="M840.0,1430.0L975.0,1430.0" stroke="#c08ab8" stroke-width="18.0"/><path d="M975.0,1430.0L1075.0,1440.0" stroke="#c08ab8" stroke-width="18.0"/><path d="M1075.0,1440.0L1175.0,1450.0" stroke="#98d4d2" stroke-width="18.0"/><path d="M0.0,1500.0L195.0,1495.0" stroke="#c08ab8" stroke-width="18.0"/><path d="M195.0,1495.0L390.0,1490.0" stroke="#98d4d2" stroke-width="18.0"/><path d="M390.0,1490.0L502.5,1422.5" stroke="#98d4d2" stroke-width="18.0"/><path d="M502.5,1422.5L615.0,1355.0" stroke="#c08ab8" stroke-width="18.0"/><path d="M800.0,910.0L885.0,1035.0" stroke="#98d4d2" stroke-width="18.0"/><path d="M885.0,1035.0L970.0,1160.0" stroke="#c08ab8" stroke-width="18.0"/><path d="M970.0,1160.0L937.5,1240.0" stroke="#c08ab8" stroke-width="18.0"/><path d="M937.5,1240.0L905.0,1320.0" stroke="#98d4d2" stroke-width="18.0"/><path d="M905.0,1320.0L805.0,1375.0" stroke="#98d4d2" stroke-width="18.0"/><path d="M805.0,1375.0L705.0,1430.0" stroke="#98d4d2" stroke-width="18.0"/><path d="M800.0,910.0L930.0,930.0" stroke="#98d4d2" stroke-width="18.0"/><path d="M930.0,930.0L1060.0,950.0" stroke="#c08ab8" stroke-width="18.0"/><path d="M1060.0,950.0L1105.0,845.0" stroke="#c08ab8" stroke-width="18.0"/><path d="M1105.0,845.0L1150.0,740.0" stroke="#98d4d2" stroke-width="18.0"/><path d="M800.0,910.0L780.0,995.0" stroke="#98d4d2" stroke-width="18.0"/><path d="M780.0,995.0L760.0,1080.0" stroke="#98d4d2" stroke-width="18.0"/><path d="M760.0,1080.0L737.5,1080.0" stroke="#98d4d2" stroke-width="18.0"/><path d="M737.5,1080.0L715.0,1080.0" stroke="#c08ab8" stroke-width="18.0"/><path d="M715.0,1080.0L710.0,1255.0" stroke="#c08ab8" stroke-width="18.0"/><path d="M710.0,1255.0L705.0,1430.0" stroke="#98d4d2" stroke-width="18.0"/><path d="M970.0,1160.0L1075.0,1210.0" stroke="#c08ab8" stroke-width="18.0"/><path d="M1075.0,1210.0L1180.0,1260.0" stroke="#c08ab8" stroke-width="18.0"/><path d="M1180.0,1260.0L1177.5,1355.0" stroke="#c08ab8" stroke-width="18.0"/><path d="M1177.5,1355.0L1175.0,1450.0" stroke="#98d4d2" stroke-width="18.0"/><path d="M715.0,1080.0L810.0,1200.0" stroke="#c08ab8" stroke-width="18.0"/><path d="M810.0,1200.0L905.0,1320.0" stroke="#98d4d2" stroke-width="18.0"/><path d="M905.0,1320.0L867.5,1380.0" stroke="#98d4d2" stroke-width="18.0"/><path d="M867.5,1380.0L830.0,1440.0" stroke="#c08ab8" stroke-width="18.0"/><path d="M50.0,950.0L50.0,1040.0" stroke="#c08ab8" stroke-width="18.0"/><path d="M50.0,1040.0L50.0,1130.0" stroke="#c08ab8" stroke-width="18.0"/><path d="M50.0,1130.0L55.0,1205.0" stroke="#c08ab8" stroke-width="18.0"/><path d="M55.0,1205.0L60.0,1280.0" stroke="#98d4d2" stroke-width="18.0"/><path d="M60.0,1280.0L60.0,1394.5" stroke="#98d4d2" stroke-width="18.0"/><path d="M60.0,1394.5L60.0,1509.0" stroke="#c08ab8" stroke-width="18.0"/><path d="M1150.0,740.0L1186.5,740.0" stroke="#98d4d2" stroke-width="18.0"/><path d="M1186.5,740.0L1223.0,740.0" stroke="#c08ab8" stroke-width="18.0"/><path d="M140.0,1210.0L100.0,1245.0" stroke="#c08ab8" stroke-width="18.0"/><path d="M100.0,1245.0L60.0,1280.0" stroke="#98d4d2" stroke-width="18.0"/><path d="M370.0,1270.0L355.0,1330.0" stroke="#c08ab8" stroke-width="18.0"/><path d="M355.0,1330.0L340.0,1390.0" stroke="#c08ab8" stroke-width="18.0"/><path d="M340.0,1390.0L350.0,1449.5" stroke="#c08ab8" stroke-width="18.0"/><path d="M350.0,1449.5L360.0,1509.0" stroke="#c08ab8" stroke-width="18.0"/><path d="M550.0,1490.0L582.5,1422.5" stroke="#98d4d2" stroke-width="18.0"/><path d="M582.5,1422.5L615.0,1355.0" stroke="#c08ab8" stroke-width="18.0"/><path d="M1060.0,950.0L1060.0,1015.0" stroke="#c08ab8" stroke-width="18.0"/><path d="M1060.0,1015.0L1060.0,1080.0" stroke="#c08ab8" stroke-width="18.0"/><path d="M1060.0,1080.0L1015.0,1120.0" stroke="#c08ab8" stroke-width="18.0"/><path d="M1015.0,1120.0L970.0,1160.0" stroke="#c08ab8" stroke-width="18.0"/><path d="M1180.0,1260.0L1150.0,1180.0" stroke="#c08ab8" stroke-width="18.0"/><path d="M1150.0,1180.0L1120.0,1100.0" stroke="#c08ab8" stroke-width="18.0"/><path d="M1120.0,1100.0L1135.0,920.0" stroke="#c08ab8" stroke-width="18.0"/><path d="M1135.0,920.0L1150.0,740.0" stroke="#98d4d2" stroke-width="18.0"/><path d="M160.0,1080.0L195.0,1055.0" stroke="#a0a0cc" stroke-width="18.0"/><path d="M195.0,1055.0L230.0,1030.0" stroke="#b0cccc" stroke-width="18.0"/><path d="M160.0,1080.0L110.0,1075.0" stroke="#a0a0cc" stroke-width="18.0"/><path d="M110.0,1075.0L60.0,1070.0" stroke="#c8c8c8" stroke-width="18.0"/><path d="M230.0,1030.0L250.0,1045.0" stroke="#b0cccc" stroke-width="18.0"/><path d="M250.0,1045.0L270.0,1060.0" stroke="#c8c8c8" stroke-width="18.0"/><path d="M160.0,1080.0L135.0,1115.0" stroke="#a0a0cc" stroke-width="18.0"/><path d="M135.0,1115.0L110.0,1150.0" stroke="#c8c8c8" stroke-width="18.0"/><path d="M160.0,1080.0L195.0,1105.0" stroke="#a0a0cc" stroke-width="18.0"/><path d="M195.0,1105.0L230.0,1130.0" stroke="#c8c8c8" stroke-width="18.0"/><path d="M230.0,1030.0L210.0,1010.0" stroke="#b0cccc" stroke-width="18.0"/><path d="M210.0,1010.0L190.0,990.0" stroke="#c8c8c8" stroke-width="18.0"/><path d="M420.0,1040.0L450.0,1020.0" stroke="#a0a0cc" stroke-width="18.0"/><path d="M450.0,1020.0L480.0,1000.0" stroke="#b0cccc" stroke-width="18.0"/><path d="M420.0,1040.0L385.0,1010.0" stroke="#a0a0cc" stroke-width="18.0"/><path d="M385.0,1010.0L350.0,980.0" stroke="#c8c8c8" stroke-width="18.0"/><path d="M480.0,1000.0L475.0,970.0" stroke="#b0cccc" stroke-width="18.0"/><path d="M475.0,970.0L470.0,940.0" stroke="#c8c8c8" stroke-width="18.0"/><path d="M420.0,1040.0L410.0,1075.0" stroke="#a0a0cc" stroke-width="18.0"/><path d="M410.0,1075.0L400.0,1110.0" stroke="#c8c8c8" stroke-width="18.0"/><path d="M480.0,1000.0L505.0,1030.0" stroke="#b0cccc" stroke-width="18.0"/><path d="M505.0,1030.0L530.0,1060.0" stroke="#c8c8c8" stroke-width="18.0"/><path d="M500.0,1160.0L530.0,1135.0" stroke="#a0a0cc" stroke-width="18.0"/><path d="M530.0,1135.0L560.0,1110.0" stroke="#b0cccc" stroke-width="18.0"/><path d="M500.0,1160.0L470.0,1165.0" stroke="#a0a0cc" stroke-width="18.0"/><path d="M470.0,1165.0L440.0,1170.0" stroke="#c8c8c8" stroke-width="18.0"/><path d="M500.0,1160.0L505.0,1200.0" stroke="#a0a0cc" stroke-width="18.0"/><path d="M505.0,1200.0L510.0,1240.0" stroke="#c8c8c8" stroke-width="18.0"/><path d="M560.0,1110.0L590.0,1120.0" stroke="#b0cccc" stroke-width="18.0"/><path d="M590.0,1120.0L620.0,1130.0" stroke="#c8c8c8" stroke-width="18.0"/><path d="M860.0,1170.0L890.0,1145.0" stroke="#a0a0cc" stroke-width="18.0"/><path d="M890.0,1145.0L920.0,1120.0" stroke="#b0cccc" stroke-width="18.0"/><path d="M860.0,1170.0L810.0,1170.0" stroke="#a0a0cc" stroke-width="18.0"/><path d="M810.0,1170.0L760.0,1170.0" stroke="#c8c8c8" stroke-width="18.0"/><path d="M860.0,1170.0L870.0,1205.0" stroke="#a0a0cc" stroke-width="18.0"/><path d="M870.0,1205.0L880.0,1240.0" stroke="#c8c8c8" stroke-width="18.0"/><path d="M920.0,1120.0L955.0,1110.0" stroke="#b0cccc" stroke-width="18.0"/><path d="M955.0,1110.0L990.0,1100.0" stroke="#c8c8c8" stroke-width="18.0"/><path d="M920.0,1120.0L940.0,1160.0" stroke="#b0cccc" stroke-width="18.0"/><path d="M940.0,1160.0L960.0,1200.0" stroke="#c8c8c8" stroke-width="18.0"/><path d="M650.0,1190.0L625.0,1170.0" stroke="#a0a0cc" stroke-width="18.0"/><path d="M625.0,1170.0L600.0,1150.0" stroke="#b0cccc" stroke-width="18.0"/><path d="M650.0,1190.0L670.0,1220.0" stroke="#a0a0cc" stroke-width="18.0"/><path d="M670.0,1220.0L690.0,1250.0" stroke="#c8c8c8" stroke-width="18.0"/><path d="M600.0,1150.0L590.0,1185.0" stroke="#b0cccc" stroke-width="18.0"/><path d="M590.0,1185.0L580.0,1220.0" stroke="#c8c8c8" stroke-width="18.0"/><path d="M1060.0,960.0L1030.0,980.0" stroke="#a0a0cc" stroke-width="18.0"/><path d="M1030.0,980.0L1000.0,1000.0" stroke="#b0cccc" stroke-width="18.0"/><path d="M1060.0,960.0L1090.0,945.0" stroke="#a0a0cc" stroke-width="18.0"/><path d="M1090.0,945.0L1120.0,930.0" stroke="#c8c8c8" stroke-width="18.0"/><path d="M1000.0,1000.0L1000.0,1040.0" stroke="#b0cccc" stroke-width="18.0"/><path d="M1000.0,1040.0L1000.0,1080.0" stroke="#c8c8c8" stroke-width="18.0"/><path d="M1060.0,960.0L1105.0,995.0" stroke="#a0a0cc" stroke-width="18.0"/><path d="M1105.0,995.0L1150.0,1030.0" stroke="#c8c8c8" stroke-width="18.0"/><path d="M60.0,1210.0L85.0,1190.0" stroke="#a0a0cc" stroke-width="18.0"/><path d="M85.0,1190.0L110.0,1170.0" stroke="#b0cccc" stroke-width="18.0"/><path d="M60.0,1210.0L40.0,1185.0" stroke="#a0a0cc" stroke-width="18.0"/><path d="M40.0,1185.0L20.0,1160.0" stroke="#c8c8c8" stroke-width="18.0"/><path d="M60.0,1210.0L95.0,1230.0" stroke="#a0a0cc" stroke-width="18.0"/><path d="M95.0,1230.0L130.0,1250.0" stroke="#c8c8c8" stroke-width="18.0"/><path d="M30.0,110.0L12.6,120.9" stroke="#e2a0a0" stroke-width="18.0"/><path d="M12.6,120.9L-4.9,131.8" stroke="#c8c8c8" stroke-width="18.0"/><path d="M30.0,110.0L23.3,89.3" stroke="#e2a0a0" stroke-width="18.0"/><path d="M23.3,89.3L16.6,68.7" stroke="#c8c8c8" stroke-width="18.0"/><path d="M125.0,230.0L104.5,251.6" stroke="#e2a0a0" stroke-width="18.0"/><path d="M104.5,251.6L84.1,273.2" stroke="#c8c8c8" stroke-width="18.0"/><path d="M125.0,230.0L114.2,213.1" stroke="#e2a0a0" stroke-width="18.0"/><path d="M114.2,213.1L103.5,196.2" stroke="#c8c8c8" stroke-width="18.0"/><path d="M215.0,215.0L231.1,222.2" stroke="#e2a0a0" stroke-width="18.0"/><path d="M231.1,222.2L247.1,229.3" stroke="#c8c8c8" stroke-width="18.0"/><path d="M215.0,215.0L201.2,232.7" stroke="#e2a0a0" stroke-width="18.0"/><path d="M201.2,232.7L187.4,250.3" stroke="#c8c8c8" stroke-width="18.0"/><path d="M270.0,165.0L270.2,141.5" stroke="#e2a0a0" stroke-width="18.0"/><path d="M270.2,141.5L270.4,118.0" stroke="#c8c8c8" stroke-width="18.0"/><path d="M270.0,165.0L290.4,170.2" stroke="#e2a0a0" stroke-width="18.0"/><path d="M290.4,170.2L310.7,175.5" stroke="#c8c8c8" stroke-width="18.0"/><path d="M340.0,145.0L368.7,144.8" stroke="#e2a0a0" stroke-width="18.0"/><path d="M368.7,144.8L397.4,144.5" stroke="#c8c8c8" stroke-width="18.0"/><path d="M340.0,145.0L333.4,172.2" stroke="#e2a0a0" stroke-width="18.0"/><path d="M333.4,172.2L326.9,199.4" stroke="#c8c8c8" stroke-width="18.0"/><path d="M350.0,300.0L324.1,294.0" stroke="#e2a0a0" stroke-width="18.0"/><path d="M324.1,294.0L298.1,288.0" stroke="#c8c8c8" stroke-width="18.0"/><path d="M350.0,300.0L361.4,277.6" stroke="#e2a0a0" stroke-width="18.0"/><path d="M361.4,277.6L372.9,255.1" stroke="#c8c8c8" stroke-width="18.0"/><path d="M160.0,360.0L167.3,382.6" stroke="#e2a0a0" stroke-width="18.0"/><path d="M167.3,382.6L174.7,405.2" stroke="#c8c8c8" stroke-width="18.0"/><path d="M160.0,360.0L134.1,361.8" stroke="#e2a0a0" stroke-width="18.0"/><path d="M134.1,361.8L108.1,363.6" stroke="#c8c8c8" stroke-width="18.0"/><path d="M40.0,370.0L55.6,349.2" stroke="#e2a0a0" stroke-width="18.0"/><path d="M55.6,349.2L71.3,328.5" stroke="#c8c8c8" stroke-width="18.0"/><path d="M40.0,370.0L55.3,388.9" stroke="#e2a0a0" stroke-width="18.0"/><path d="M55.3,388.9L70.6,407.8" stroke="#c8c8c8" stroke-width="18.0"/><path d="M175.0,470.0L148.2,478.4" stroke="#e2a0a0" stroke-width="18.0"/><path d="M148.2,478.4L121.3,486.9" stroke="#c8c8c8" stroke-width="18.0"/><path d="M175.0,470.0L173.9,452.1" stroke="#e2a0a0" stroke-width="18.0"/><path d="M173.9,452.1L172.8,434.3" stroke="#c8c8c8" stroke-width="18.0"/><path d="M40.0,510.0L56.2,516.2" stroke="#e2a0a0" stroke-width="18.0"/><path d="M56.2,516.2L72.5,522.5" stroke="#c8c8c8" stroke-width="18.0"/><path d="M40.0,510.0L24.6,532.0" stroke="#e2a0a0" stroke-width="18.0"/><path d="M24.6,532.0L9.2,554.0" stroke="#c8c8c8" stroke-width="18.0"/><path d="M300.0,530.0L278.6,529.6" stroke="#e2a0a0" stroke-width="18.0"/><path d="M278.6,529.6L257.3,529.3" stroke="#c8c8c8" stroke-width="18.0"/><path d="M300.0,530.0L305.9,508.0" stroke="#e2a0a0" stroke-width="18.0"/><path d="M305.9,508.0L311.8,486.0" stroke="#c8c8c8" stroke-width="18.0"/><path d="M190.0,290.0L197.2,315.4" stroke="#e2a0a0" stroke-width="18.0"/><path d="M197.2,315.4L204.5,340.7" stroke="#c8c8c8" stroke-width="18.0"/><path d="M190.0,290.0L160.6,291.1" stroke="#e2a0a0" stroke-width="18.0"/><path d="M160.6,291.1L131.1,292.1" stroke="#c8c8c8" stroke-width="18.0"/><path d="M470.0,230.0L453.9,247.9" stroke="#e2a0a0" stroke-width="18.0"/><path d="M453.9,247.9L437.8,265.8" stroke="#c8c8c8" stroke-width="18.0"/><path d="M470.0,230.0L457.8,211.9" stroke="#e2a0a0" stroke-width="18.0"/><path d="M457.8,211.9L445.6,193.8" stroke="#c8c8c8" stroke-width="18.0"/><path d="M520.0,165.0L530.0,144.0" stroke="#e2a0a0" stroke-width="18.0"/><path d="M530.0,144.0L540.0,123.0" stroke="#c8c8c8" stroke-width="18.0"/><path d="M520.0,165.0L536.0,178.2" stroke="#e2a0a0" stroke-width="18.0"/><path d="M536.0,178.2L551.9,191.3" stroke="#c8c8c8" stroke-width="18.0"/><path d="M560.0,90.0L587.5,87.6" stroke="#e2a0a0" stroke-width="18.0"/><path d="M587.5,87.6L614.9,85.2" stroke="#c8c8c8" stroke-width="18.0"/><path d="M560.0,90.0L555.9,116.1" stroke="#e2a0a0" stroke-width="18.0"/><path d="M555.9,116.1L551.7,142.2" stroke="#c8c8c8" stroke-width="18.0"/><path d="M620.0,110.0L599.5,130.4" stroke="#e2a0a0" stroke-width="18.0"/><path d="M599.5,130.4L579.1,150.9" stroke="#c8c8c8" stroke-width="18.0"/><path d="M620.0,110.0L605.5,85.8" stroke="#e2a0a0" stroke-width="18.0"/><path d="M605.5,85.8L590.9,61.6" stroke="#c8c8c8" stroke-width="18.0"/><path d="M700.0,70.0L683.5,46.4" stroke="#e2a0a0" stroke-width="18.0"/><path d="M683.5,46.4L667.0,22.8" stroke="#c8c8c8" stroke-width="18.0"/><path d="M700.0,70.0L717.5,63.2" stroke="#e2a0a0" stroke-width="18.0"/><path d="M717.5,63.2L735.1,56.5" stroke="#c8c8c8" stroke-width="18.0"/><path d="M690.0,140.0L713.7,148.2" stroke="#e2a0a0" stroke-width="18.0"/><path d="M713.7,148.2L737.4,156.3" stroke="#c8c8c8" stroke-width="18.0"/><path d="M690.0,140.0L677.4,159.4" stroke="#e2a0a0" stroke-width="18.0"/><path d="M677.4,159.4L664.8,178.8" stroke="#c8c8c8" stroke-width="18.0"/><path d="M760.0,120.0L750.6,148.8" stroke="#e2a0a0" stroke-width="18.0"/><path d="M750.6,148.8L741.3,177.7" stroke="#c8c8c8" stroke-width="18.0"/><path d="M760.0,120.0L734.5,104.0" stroke="#e2a0a0" stroke-width="18.0"/><path d="M734.5,104.0L709.0,88.1" stroke="#c8c8c8" stroke-width="18.0"/><path d="M830.0,60.0L837.6,84.9" stroke="#e2a0a0" stroke-width="18.0"/><path d="M837.6,84.9L845.2,109.8" stroke="#c8c8c8" stroke-width="18.0"/><path d="M830.0,60.0L805.6,61.3" stroke="#e2a0a0" stroke-width="18.0"/><path d="M805.6,61.3L781.3,62.6" stroke="#c8c8c8" stroke-width="18.0"/><path d="M1020.0,40.0L1038.2,23.6" stroke="#e2a0a0" stroke-width="18.0"/><path d="M1038.2,23.6L1056.3,7.3" stroke="#c8c8c8" stroke-width="18.0"/><path d="M1020.0,40.0L1030.5,59.6" stroke="#e2a0a0" stroke-width="18.0"/><path d="M1030.5,59.6L1040.9,79.3" stroke="#c8c8c8" stroke-width="18.0"/><path d="M910.0,270.0L894.9,253.2" stroke="#e2a0a0" stroke-width="18.0"/><path d="M894.9,253.2L879.8,236.4" stroke="#c8c8c8" stroke-width="18.0"/><path d="M910.0,270.0L931.5,258.6" stroke="#e2a0a0" stroke-width="18.0"/><path d="M931.5,258.6L953.1,247.1" stroke="#c8c8c8" stroke-width="18.0"/><path d="M790.0,250.0L814.2,254.3" stroke="#e2a0a0" stroke-width="18.0"/><path d="M814.2,254.3L838.5,258.6" stroke="#c8c8c8" stroke-width="18.0"/><path d="M790.0,250.0L779.0,274.8" stroke="#e2a0a0" stroke-width="18.0"/><path d="M779.0,274.8L767.9,299.6" stroke="#c8c8c8" stroke-width="18.0"/><path d="M800.0,400.0L775.4,396.6" stroke="#e2a0a0" stroke-width="18.0"/><path d="M775.4,396.6L750.8,393.1" stroke="#c8c8c8" stroke-width="18.0"/><path d="M800.0,400.0L808.5,378.9" stroke="#e2a0a0" stroke-width="18.0"/><path d="M808.5,378.9L817.1,357.7" stroke="#c8c8c8" stroke-width="18.0"/><path d="M880.0,440.0L850.2,442.1" stroke="#e2a0a0" stroke-width="18.0"/><path d="M850.2,442.1L820.5,444.2" stroke="#c8c8c8" stroke-width="18.0"/><path d="M880.0,440.0L884.3,415.6" stroke="#e2a0a0" stroke-width="18.0"/><path d="M884.3,415.6L888.6,391.2" stroke="#c8c8c8" stroke-width="18.0"/><path d="M760.0,530.0L771.2,509.8" stroke="#e2a0a0" stroke-width="18.0"/><path d="M771.2,509.8L782.4,489.5" stroke="#c8c8c8" stroke-width="18.0"/><path d="M760.0,530.0L775.0,544.0" stroke="#e2a0a0" stroke-width="18.0"/><path d="M775.0,544.0L790.0,558.0" stroke="#c8c8c8" stroke-width="18.0"/><path d="M1060.0,530.0L1077.2,519.6" stroke="#e2a0a0" stroke-width="18.0"/><path d="M1077.2,519.6L1094.4,509.3" stroke="#c8c8c8" stroke-width="18.0"/><path d="M1060.0,530.0L1067.5,554.6" stroke="#e2a0a0" stroke-width="18.0"/><path d="M1067.5,554.6L1075.0,579.2" stroke="#c8c8c8" stroke-width="18.0"/><path d="M1150.0,600.0L1136.6,620.6" stroke="#e2a0a0" stroke-width="18.0"/><path d="M1136.6,620.6L1123.2,641.3" stroke="#c8c8c8" stroke-width="18.0"/><path d="M1150.0,600.0L1131.5,580.1" stroke="#e2a0a0" stroke-width="18.0"/><path d="M1131.5,580.1L1113.0,560.3" stroke="#c8c8c8" stroke-width="18.0"/><path d="M1100.0,640.0L1089.2,619.7" stroke="#e2a0a0" stroke-width="18.0"/><path d="M1089.2,619.7L1078.4,599.4" stroke="#c8c8c8" stroke-width="18.0"/><path d="M1100.0,640.0L1119.8,635.1" stroke="#e2a0a0" stroke-width="18.0"/><path d="M1119.8,635.1L1139.5,630.2" stroke="#c8c8c8" stroke-width="18.0"/><path d="M1170.0,270.0L1188.0,257.9" stroke="#e2a0a0" stroke-width="18.0"/><path d="M1188.0,257.9L1206.1,245.7" stroke="#c8c8c8" stroke-width="18.0"/><path d="M1170.0,270.0L1179.5,296.3" stroke="#e2a0a0" stroke-width="18.0"/><path d="M1179.5,296.3L1189.1,322.6" stroke="#c8c8c8" stroke-width="18.0"/><path d="M650.0,560.0L668.6,537.0" stroke="#e2a0a0" stroke-width="18.0"/><path d="M668.6,537.0L687.2,514.1" stroke="#c8c8c8" stroke-width="18.0"/><path d="M650.0,560.0L667.5,583.2" stroke="#e2a0a0" stroke-width="18.0"/><path d="M667.5,583.2L685.0,606.4" stroke="#c8c8c8" stroke-width="18.0"/><path d="M690.0,690.0L695.6,667.4" stroke="#e2a0a0" stroke-width="18.0"/><path d="M695.6,667.4L701.3,644.8" stroke="#c8c8c8" stroke-width="18.0"/><path d="M690.0,690.0L716.5,704.1" stroke="#e2a0a0" stroke-width="18.0"/><path d="M716.5,704.1L743.0,718.2" stroke="#c8c8c8" stroke-width="18.0"/><path d="M750.0,770.0L741.5,746.5" stroke="#e2a0a0" stroke-width="18.0"/><path d="M741.5,746.5L732.9,723.1" stroke="#c8c8c8" stroke-width="18.0"/><path d="M750.0,770.0L772.9,767.6" stroke="#e2a0a0" stroke-width="18.0"/><path d="M772.9,767.6L795.7,765.2" stroke="#c8c8c8" stroke-width="18.0"/><path d="M810.0,820.0L795.6,842.2" stroke="#e2a0a0" stroke-width="18.0"/><path d="M795.6,842.2L781.2,864.4" stroke="#c8c8c8" stroke-width="18.0"/><path d="M810.0,820.0L796.1,805.1" stroke="#e2a0a0" stroke-width="18.0"/><path d="M796.1,805.1L782.3,790.3" stroke="#c8c8c8" stroke-width="18.0"/><path d="M990.0,840.0L1000.8,858.0" stroke="#e2a0a0" stroke-width="18.0"/><path d="M1000.8,858.0L1011.6,876.0" stroke="#c8c8c8" stroke-width="18.0"/><path d="M990.0,840.0L964.2,847.9" stroke="#e2a0a0" stroke-width="18.0"/><path d="M964.2,847.9L938.4,855.8" stroke="#c8c8c8" stroke-width="18.0"/><path d="M1110.0,860.0L1112.3,841.2" stroke="#e2a0a0" stroke-width="18.0"/><path d="M1112.3,841.2L1114.6,822.4" stroke="#c8c8c8" stroke-width="18.0"/><path d="M1110.0,860.0L1132.6,868.7" stroke="#e2a0a0" stroke-width="18.0"/><path d="M1132.6,868.7L1155.2,877.4" stroke="#c8c8c8" stroke-width="18.0"/><path d="M150.0,750.0L133.8,770.8" stroke="#e2a0a0" stroke-width="18.0"/><path d="M133.8,770.8L117.5,791.6" stroke="#c8c8c8" stroke-width="18.0"/><path d="M150.0,750.0L137.6,734.1" stroke="#e2a0a0" stroke-width="18.0"/><path d="M137.6,734.1L125.1,718.2" stroke="#c8c8c8" stroke-width="18.0"/><path d="M60.0,760.0L40.0,742.0" stroke="#e2a0a0" stroke-width="18.0"/><path d="M40.0,742.0L20.0,724.0" stroke="#c8c8c8" stroke-width="18.0"/><path d="M60.0,760.0L85.0,743.1" stroke="#e2a0a0" stroke-width="18.0"/><path d="M85.0,743.1L110.0,726.3" stroke="#c8c8c8" stroke-width="18.0"/><path d="M110.0,830.0L112.0,849.6" stroke="#e2a0a0" stroke-width="18.0"/><path d="M112.0,849.6L114.1,869.3" stroke="#c8c8c8" stroke-width="18.0"/><path d="M110.0,830.0L80.3,825.9" stroke="#e2a0a0" stroke-width="18.0"/><path d="M80.3,825.9L50.6,821.7" stroke="#c8c8c8" stroke-width="18.0"/><path d="M410.0,690.0L429.4,706.2" stroke="#e2a0a0" stroke-width="18.0"/><path d="M429.4,706.2L448.7,722.5" stroke="#c8c8c8" stroke-width="18.0"/><path d="M410.0,690.0L394.9,701.0" stroke="#e2a0a0" stroke-width="18.0"/><path d="M394.9,701.0L379.8,712.0" stroke="#c8c8c8" stroke-width="18.0"/><path d="M430.0,580.0L412.9,572.0" stroke="#e2a0a0" stroke-width="18.0"/><path d="M412.9,572.0L395.8,564.0" stroke="#c8c8c8" stroke-width="18.0"/><path d="M430.0,580.0L442.3,564.9" stroke="#e2a0a0" stroke-width="18.0"/><path d="M442.3,564.9L454.6,549.7" stroke="#c8c8c8" stroke-width="18.0"/><path d="M450.0,940.0L467.5,948.9" stroke="#e2a0a0" stroke-width="18.0"/><path d="M467.5,948.9L485.0,957.8" stroke="#c8c8c8" stroke-width="18.0"/><path d="M450.0,940.0L430.4,962.5" stroke="#e2a0a0" stroke-width="18.0"/><path d="M430.4,962.5L410.9,985.0" stroke="#c8c8c8" stroke-width="18.0"/><path d="M640.0,1030.0L633.2,1007.8" stroke="#e2a0a0" stroke-width="18.0"/><path d="M633.2,1007.8L626.4,985.5" stroke="#c8c8c8" stroke-width="18.0"/><path d="M640.0,1030.0L660.6,1028.9" stroke="#e2a0a0" stroke-width="18.0"/><path d="M660.6,1028.9L681.3,1027.8" stroke="#c8c8c8" stroke-width="18.0"/><path d="M640.0,690.0L644.1,664.2" stroke="#e2a0a0" stroke-width="18.0"/><path d="M644.1,664.2L648.2,638.4" stroke="#c8c8c8" stroke-width="18.0"/><path d="M640.0,690.0L662.5,699.6" stroke="#e2a0a0" stroke-width="18.0"/><path d="M662.5,699.6L685.1,709.2" stroke="#c8c8c8" stroke-width="18.0"/><path d="M1020.0,480.0L1011.8,464.6" stroke="#e2a0a0" stroke-width="18.0"/><path d="M1011.8,464.6L1003.6,449.2" stroke="#c8c8c8" stroke-width="18.0"/><path d="M1020.0,480.0L1041.5,474.6" stroke="#e2a0a0" stroke-width="18.0"/><path d="M1041.5,474.6L1063.1,469.3" stroke="#c8c8c8" stroke-width="18.0"/><path d="M1180.0,520.0L1178.8,537.8" stroke="#e2a0a0" stroke-width="18.0"/><path d="M1178.8,537.8L1177.5,555.6" stroke="#c8c8c8" stroke-width="18.0"/><path d="M1180.0,520.0L1154.0,511.6" stroke="#e2a0a0" stroke-width="18.0"/><path d="M1154.0,511.6L1127.9,503.1" stroke="#c8c8c8" stroke-width="18.0"/><path d="M1200.0,820.0L1200.0,838.2" stroke="#e2a0a0" stroke-width="18.0"/><path d="M1200.0,838.2L1200.0,856.5" stroke="#c8c8c8" stroke-width="18.0"/><path d="M1200.0,820.0L1181.9,815.5" stroke="#e2a0a0" stroke-width="18.0"/><path d="M1181.9,815.5L1163.8,811.0" stroke="#c8c8c8" stroke-width="18.0"/><path d="M330.0,770.0L339.1,788.8" stroke="#e2a0a0" stroke-width="18.0"/><path d="M339.1,788.8L348.3,807.6" stroke="#c8c8c8" stroke-width="18.0"/><path d="M330.0,770.0L303.8,775.6" stroke="#e2a0a0" stroke-width="18.0"/><path d="M303.8,775.6L277.5,781.2" stroke="#c8c8c8" stroke-width="18.0"/><path d="M250.0,420.0L231.7,415.1" stroke="#e2a0a0" stroke-width="18.0"/><path d="M231.7,415.1L213.3,410.2" stroke="#c8c8c8" stroke-width="18.0"/><path d="M250.0,420.0L261.8,398.8" stroke="#e2a0a0" stroke-width="18.0"/><path d="M261.8,398.8L273.5,377.5" stroke="#c8c8c8" stroke-width="18.0"/><path d="M900.0,30.0L885.6,46.5" stroke="#e2a0a0" stroke-width="18.0"/><path d="M885.6,46.5L871.3,63.0" stroke="#c8c8c8" stroke-width="18.0"/><path d="M900.0,30.0L883.9,6.9" stroke="#e2a0a0" stroke-width="18.0"/><path d="M883.9,6.9L867.7,-16.1" stroke="#c8c8c8" stroke-width="18.0"/><path d="M1100.0,180.0L1093.9,155.5" stroke="#e2a0a0" stroke-width="18.0"/><path d="M1093.9,155.5L1087.8,131.0" stroke="#c8c8c8" stroke-width="18.0"/><path d="M1100.0,180.0L1128.0,180.0" stroke="#e2a0a0" stroke-width="18.0"/><path d="M1128.0,180.0L1156.0,180.0" stroke="#c8c8c8" stroke-width="18.0"/><path d="M330.0,50.0L347.0,47.6" stroke="#e2a0a0" stroke-width="18.0"/><path d="M347.0,47.6L364.0,45.2" stroke="#c8c8c8" stroke-width="18.0"/><path d="M330.0,50.0L327.7,71.8" stroke="#e2a0a0" stroke-width="18.0"/><path d="M327.7,71.8L325.4,93.5" stroke="#c8c8c8" stroke-width="18.0"/><path d="M200.0,40.0L199.0,69.2" stroke="#e2a0a0" stroke-width="18.0"/><path d="M199.0,69.2L198.0,98.3" stroke="#c8c8c8" stroke-width="18.0"/><path d="M200.0,40.0L177.1,33.4" stroke="#e2a0a0" stroke-width="18.0"/><path d="M177.1,33.4L154.1,26.8" stroke="#c8c8c8" stroke-width="18.0"/><path d="M430.0,40.0L456.2,25.4" stroke="#e2a0a0" stroke-width="18.0"/><path d="M456.2,25.4L482.5,10.9" stroke="#c8c8c8" stroke-width="18.0"/><path d="M430.0,40.0L437.7,68.7" stroke="#e2a0a0" stroke-width="18.0"/><path d="M437.7,68.7L445.4,97.4" stroke="#c8c8c8" stroke-width="18.0"/><path d="M990.0,170.0L972.5,183.7" stroke="#e2a0a0" stroke-width="18.0"/><path d="M972.5,183.7L955.1,197.3" stroke="#c8c8c8" stroke-width="18.0"/><path d="M990.0,170.0L980.3,148.2" stroke="#e2a0a0" stroke-width="18.0"/><path d="M980.3,148.2L970.6,126.4" stroke="#c8c8c8" stroke-width="18.0"/><path d="M60.0,220.0L83.5,215.0" stroke="#e2a0a0" stroke-width="18.0"/><path d="M83.5,215.0L107.1,210.0" stroke="#c8c8c8" stroke-width="18.0"/><path d="M60.0,220.0L59.1,246.4" stroke="#e2a0a0" stroke-width="18.0"/><path d="M59.1,246.4L58.2,272.8" stroke="#c8c8c8" stroke-width="18.0"/><path d="M560.0,470.0L559.0,490.2" stroke="#e2a0a0" stroke-width="18.0"/><path d="M559.0,490.2L557.9,510.4" stroke="#c8c8c8" stroke-width="18.0"/><path d="M560.0,470.0L539.6,463.8" stroke="#e2a0a0" stroke-width="18.0"/><path d="M539.6,463.8L519.3,457.5" stroke="#c8c8c8" stroke-width="18.0"/><path d="M880.0,640.0L885.2,660.9" stroke="#e2a0a0" stroke-width="18.0"/><path d="M885.2,660.9L890.4,681.8" stroke="#c8c8c8" stroke-width="18.0"/><path d="M880.0,640.0L861.6,640.0" stroke="#e2a0a0" stroke-width="18.0"/><path d="M861.6,640.0L843.2,640.0" stroke="#c8c8c8" stroke-width="18.0"/><path d="M980.0,680.0L958.0,667.3" stroke="#e2a0a0" stroke-width="18.0"/><path d="M958.0,667.3L936.0,654.6" stroke="#c8c8c8" stroke-width="18.0"/><path d="M980.0,680.0L999.5,659.8" stroke="#e2a0a0" stroke-width="18.0"/><path d="M999.5,659.8L1019.1,639.5" stroke="#c8c8c8" stroke-width="18.0"/><path d="M1120.0,350.0L1094.0,335.6" stroke="#e2a0a0" stroke-width="18.0"/><path d="M1094.0,335.6L1068.1,321.2" stroke="#c8c8c8" stroke-width="18.0"/><path d="M1120.0,350.0L1133.6,335.4" stroke="#e2a0a0" stroke-width="18.0"/><path d="M1133.6,335.4L1147.2,320.9" stroke="#c8c8c8" stroke-width="18.0"/><path d="M30.0,640.0L57.6,635.6" stroke="#e2a0a0" stroke-width="18.0"/><path d="M57.6,635.6L85.2,631.3" stroke="#c8c8c8" stroke-width="18.0"/><path d="M30.0,640.0L28.1,662.2" stroke="#e2a0a0" stroke-width="18.0"/><path d="M28.1,662.2L26.1,684.4" stroke="#c8c8c8" stroke-width="18.0"/><path d="M240.0,600.0L255.7,586.9" stroke="#e2a0a0" stroke-width="18.0"/><path d="M255.7,586.9L271.4,573.7" stroke="#c8c8c8" stroke-width="18.0"/><path d="M240.0,600.0L249.5,619.5" stroke="#e2a0a0" stroke-width="18.0"/><path d="M249.5,619.5L259.0,638.9" stroke="#c8c8c8" stroke-width="18.0"/><path d="M380.0,880.0L394.9,897.9" stroke="#e2a0a0" stroke-width="18.0"/><path d="M394.9,897.9L409.9,915.7" stroke="#c8c8c8" stroke-width="18.0"/><path d="M380.0,880.0L357.2,891.1" stroke="#e2a0a0" stroke-width="18.0"/><path d="M357.2,891.1L334.4,902.2" stroke="#c8c8c8" stroke-width="18.0"/><path d="M720.0,900.0L726.2,921.8" stroke="#e2a0a0" stroke-width="18.0"/><path d="M726.2,921.8L732.5,943.6" stroke="#c8c8c8" stroke-width="18.0"/><path d="M720.0,900.0L695.5,900.9" stroke="#e2a0a0" stroke-width="18.0"/><path d="M695.5,900.9L670.9,901.7" stroke="#c8c8c8" stroke-width="18.0"/><path d="M930.0,940.0L937.2,921.0" stroke="#e2a0a0" stroke-width="18.0"/><path d="M937.2,921.0L944.5,902.1" stroke="#c8c8c8" stroke-width="18.0"/><path d="M930.0,940.0L947.5,952.2" stroke="#e2a0a0" stroke-width="18.0"/><path d="M947.5,952.2L965.0,964.5" stroke="#c8c8c8" stroke-width="18.0"/><path d="M330.0,980.0L375.0,995.0" stroke="#c8c8c8" stroke-width="18.0"/><path d="M375.0,995.0L420.0,1010.0" stroke="#b0cccc" stroke-width="18.0"/><path d="M420.0,1010.0L450.0,970.0" stroke="#b0cccc" stroke-width="18.0"/><path d="M450.0,970.0L480.0,930.0" stroke="#c8c8c8" stroke-width="18.0"/><path d="M420.0,1010.0L455.0,1090.0" stroke="#b0cccc" stroke-width="18.0"/><path d="M455.0,1090.0L490.0,1170.0" stroke="#a0a0cc" stroke-width="18.0"/><path d="M490.0,1170.0L525.0,1145.0" stroke="#a0a0cc" stroke-width="18.0"/><path d="M525.0,1145.0L560.0,1120.0" stroke="#c8c8c8" stroke-width="18.0"/><path d="M490.0,1170.0L490.0,1250.0" stroke="#a0a0cc" stroke-width="18.0"/><path d="M490.0,1250.0L490.0,1330.0" stroke="#c8c8c8" stroke-width="18.0"/><path d="M400.0,1120.0L445.0,1145.0" stroke="#c8c8c8" stroke-width="18.0"/><path d="M445.0,1145.0L490.0,1170.0" stroke="#a0a0cc" stroke-width="18.0"/><path d="M250.0,1060.0L240.0,1135.0" stroke="#c8c8c8" stroke-width="18.0"/><path d="M240.0,1135.0L230.0,1210.0" stroke="#b0cccc" stroke-width="18.0"/><path d="M230.0,1210.0L260.0,1240.0" stroke="#b0cccc" stroke-width="18.0"/><path d="M260.0,1240.0L290.0,1270.0" stroke="#c8c8c8" stroke-width="18.0"/><path d="M230.0,1210.0L175.0,1195.0" stroke="#b0cccc" stroke-width="18.0"/><path d="M175.0,1195.0L120.0,1180.0" stroke="#c8c8c8" stroke-width="18.0"/><path d="M100.0,1020.0L130.0,1050.0" stroke="#c8c8c8" stroke-width="18.0"/><path d="M130.0,1050.0L160.0,1080.0" stroke="#a0a0cc" stroke-width="18.0"/><path d="M760.0,1170.0L810.0,1175.0" stroke="#c8c8c8" stroke-width="18.0"/><path d="M810.0,1175.0L860.0,1180.0" stroke="#b0cccc" stroke-width="18.0"/><path d="M860.0,1180.0L900.0,1165.0" stroke="#b0cccc" stroke-width="18.0"/><path d="M900.0,1165.0L940.0,1150.0" stroke="#c8c8c8" stroke-width="18.0"/><path d="M860.0,1180.0L870.0,1210.0" stroke="#b0cccc" stroke-width="18.0"/><path d="M870.0,1210.0L880.0,1240.0" stroke="#c8c8c8" stroke-width="18.0"/><path d="M990.0,1100.0L1025.0,1050.0" stroke="#c8c8c8" stroke-width="18.0"/><path d="M1025.0,1050.0L1060.0,1000.0" stroke="#b0cccc" stroke-width="18.0"/><path d="M1060.0,1000.0L1105.0,1010.0" stroke="#b0cccc" stroke-width="18.0"/><path d="M1105.0,1010.0L1150.0,1020.0" stroke="#c8c8c8" stroke-width="18.0"/><path d="M1130.0,1180.0L1095.0,1190.0" stroke="#c8c8c8" stroke-width="18.0"/><path d="M1095.0,1190.0L1060.0,1200.0" stroke="#b0cccc" stroke-width="18.0"/><path d="M1060.0,1200.0L1065.0,1235.0" stroke="#b0cccc" stroke-width="18.0"/><path d="M1065.0,1235.0L1070.0,1270.0" stroke="#c8c8c8" stroke-width="18.0"/><path d="M610.0,1240.0L645.0,1225.0" stroke="#c8c8c8" stroke-width="18.0"/><path d="M645.0,1225.0L680.0,1210.0" stroke="#a0a0cc" stroke-width="18.0"/><path d="M680.0,1210.0L690.0,1165.0" stroke="#a0a0cc" stroke-width="18.0"/><path d="M690.0,1165.0L700.0,1120.0" stroke="#c8c8c8" stroke-width="18.0"/><path d="M630.0,1130.0L660.0,1155.0" stroke="#c8c8c8" stroke-width="18.0"/><path d="M660.0,1155.0L690.0,1180.0" stroke="#b89090" stroke-width="18.0"/><path d="M690.0,1180.0L725.0,1145.0" stroke="#b89090" stroke-width="18.0"/><path d="M725.0,1145.0L760.0,1110.0" stroke="#c8c8c8" stroke-width="18.0"/><path d="M960.0,1250.0L980.0,1285.0" stroke="#c8c8c8" stroke-width="18.0"/><path d="M980.0,1285.0L1000.0,1320.0" stroke="#b0cccc" stroke-width="18.0"/><path d="M1000.0,1320.0L1040.0,1305.0" stroke="#b0cccc" stroke-width="18.0"/><path d="M1040.0,1305.0L1080.0,1290.0" stroke="#c8c8c8" stroke-width="18.0"/><path d="M270.0,850.0L285.0,880.0" stroke="#c8c8c8" stroke-width="18.0"/><path d="M285.0,880.0L300.0,910.0" stroke="#b0cccc" stroke-width="18.0"/><path d="M300.0,910.0L325.0,885.0" stroke="#b0cccc" stroke-width="18.0"/><path d="M325.0,885.0L350.0,860.0" stroke="#c8c8c8" stroke-width="18.0"/><path d="M800.0,1000.0L825.0,1030.0" stroke="#c8c8c8" stroke-width="18.0"/><path d="M825.0,1030.0L850.0,1060.0" stroke="#a0a0cc" stroke-width="18.0"/><path d="M850.0,1060.0L890.0,1035.0" stroke="#a0a0cc" stroke-width="18.0"/><path d="M890.0,1035.0L930.0,1010.0" stroke="#c8c8c8" stroke-width="18.0"/><path d="M1100.0,1330.0L1120.0,1365.0" stroke="#c8c8c8" stroke-width="18.0"/><path d="M1120.0,1365.0L1140.0,1400.0" stroke="#b0cccc" stroke-width="18.0"/><path d="M1140.0,1400.0L1115.0,1425.0" stroke="#b0cccc" stroke-width="18.0"/><path d="M1115.0,1425.0L1090.0,1450.0" stroke="#c8c8c8" stroke-width="18.0"/><circle cx="50.0" cy="950.0" r="30.0" fill="url(#gi)"/><circle cx="370.0" cy="1270.0" r="30.0" fill="url(#gi)"/><circle cx="340.0" cy="1390.0" r="30.0" fill="url(#gi)"/><circle cx="615.0" cy="1355.0" r="30.0" fill="url(#gi)"/><circle cx="715.0" cy="1080.0" r="30.0" fill="url(#gi)"/><circle cx="830.0" cy="1440.0" r="30.0" fill="url(#gi)"/><circle cx="970.0" cy="1160.0" r="30.0" fill="url(#gi)"/><circle cx="1180.0" cy="1260.0" r="30.0" fill="url(#gi)"/><circle cx="1200.0" cy="1360.0" r="30.0" fill="url(#gi)"/><circle cx="975.0" cy="1430.0" r="30.0" fill="url(#gi)"/><circle cx="140.0" cy="1210.0" r="30.0" fill="url(#gi)"/><circle cx="1060.0" cy="1080.0" r="30.0" fill="url(#gi)"/><circle cx="1140.0" cy="405.0" r="30.0" fill="url(#gi)"/><circle cx="790.0" cy="585.0" r="28.0" fill="url(#gi)"/><circle cx="445.0" cy="760.0" r="30.0" fill="url(#gi)"/><circle cx="800.0" cy="910.0" r="31.0" fill="url(#gpb)"/><circle cx="1150.0" cy="740.0" r="31.0" fill="url(#gpb)"/><circle cx="60.0" cy="1280.0" r="31.0" fill="url(#gpb)"/><circle cx="905.0" cy="1320.0" r="31.0" fill="url(#gpb)"/><circle cx="705.0" cy="1430.0" r="31.0" fill="url(#gpb)"/><circle cx="1175.0" cy="1450.0" r="31.0" fill="url(#gpb)"/><circle cx="390.0" cy="1490.0" r="31.0" fill="url(#gpb)"/><circle cx="550.0" cy="1490.0" r="31.0" fill="url(#gpb)"/><circle cx="60.0" cy="1070.0" r="19.0" fill="url(#gh)"/><circle cx="270.0" cy="1060.0" r="19.0" fill="url(#gh)"/><circle cx="110.0" cy="1150.0" r="19.0" fill="url(#gh)"/><circle cx="230.0" cy="1130.0" r="19.0" fill="url(#gh)"/><circle cx="190.0" cy="990.0" r="19.0" fill="url(#gh)"/><circle cx="160.0" cy="1080.0" r="24.0" fill="url(#gn)"/><circle cx="230.0" cy="1030.0" r="22.0" fill="url(#gc)"/><circle cx="350.0" cy="980.0" r="19.0" fill="url(#gh)"/><circle cx="470.0" cy="940.0" r="19.0" fill="url(#gh)"/><circle cx="400.0" cy="1110.0" r="19.0" fill="url(#gh)"/><circle cx="530.0" cy="1060.0" r="19.0" fill="url(#gh)"/><circle cx="420.0" cy="1040.0" r="24.0" fill="url(#gn)"/><circle cx="480.0" cy="1000.0" r="22.0" fill="url(#gc)"/><circle cx="440.0" cy="1170.0" r="19.0" fill="url(#gh)"/><circle cx="510.0" cy="1240.0" r="19.0" fill="url(#gh)"/><circle cx="620.0" cy="1130.0" r="19.0" fill="url(#gh)"/><circle cx="500.0" cy="1160.0" r="24.0" fill="url(#gn)"/><circle cx="560.0" cy="1110.0" r="22.0" fill="url(#gc)"/><circle cx="760.0" cy="1170.0" r="19.0" fill="url(#gh)"/><circle cx="880.0" cy="1240.0" r="19.0" fill="url(#gh)"/><circle cx="990.0" cy="1100.0" r="19.0" fill="url(#gh)"/><circle cx="960.0" cy="1200.0" r="19.0" fill="url(#gh)"/><circle cx="860.0" cy="1170.0" r="24.0" fill="url(#gn)"/><circle cx="920.0" cy="1120.0" r="22.0" fill="url(#gc)"/><circle cx="690.0" cy="1250.0" r="19.0" fill="url(#gh)"/><circle cx="580.0" cy="1220.0" r="19.0" fill="url(#gh)"/><circle cx="650.0" cy="1190.0" r="24.0" fill="url(#gn)"/><circle cx="600.0" cy="1150.0" r="22.0" fill="url(#gc)"/><circle cx="1120.0" cy="930.0" r="19.0" fill="url(#gh)"/><circle cx="1000.0" cy="1080.0" r="19.0" fill="url(#gh)"/><circle cx="1150.0" cy="1030.0" r="19.0" fill="url(#gh)"/><circle cx="1060.0" cy="960.0" r="24.0" fill="url(#gn)"/><circle cx="1000.0" cy="1000.0" r="22.0" fill="url(#gc)"/><circle cx="20.0" cy="1160.0" r="19.0" fill="url(#gh)"/><circle cx="130.0" cy="1250.0" r="19.0" fill="url(#gh)"/><circle cx="60.0" cy="1210.0" r="24.0" fill="url(#gn)"/><circle cx="110.0" cy="1170.0" r="22.0" fill="url(#gc)"/><circle cx="280.0" cy="1280.0" r="19.0" fill="url(#gh)"/><circle cx="1020.0" cy="1290.0" r="19.0" fill="url(#gh)"/><circle cx="1080.0" cy="1400.0" r="19.0" fill="url(#gh)"/><circle cx="1180.0" cy="955.0" r="22.0" fill="url(#gx)"/><circle cx="-4.9" cy="131.8" r="19.0" fill="url(#gh)"/><circle cx="16.6" cy="68.7" r="19.0" fill="url(#gh)"/><circle cx="30.0" cy="110.0" r="26.0" fill="url(#go)"/><circle cx="84.1" cy="273.2" r="19.0" fill="url(#gh)"/><circle cx="103.5" cy="196.2" r="19.0" fill="url(#gh)"/><circle cx="125.0" cy="230.0" r="26.0" fill="url(#go)"/><circle cx="247.1" cy="229.3" r="19.0" fill="url(#gh)"/><circle cx="187.4" cy="250.3" r="19.0" fill="url(#gh)"/><circle cx="215.0" cy="215.0" r="26.0" fill="url(#go)"/><circle cx="270.4" cy="118.0" r="19.0" fill="url(#gh)"/><circle cx="310.7" cy="175.5" r="19.0" fill="url(#gh)"/><circle cx="270.0" cy="165.0" r="26.0" fill="url(#go)"/><circle cx="397.4" cy="144.5" r="19.0" fill="url(#gh)"/><circle cx="326.9" cy="199.4" r="19.0" fill="url(#gh)"/><circle cx="340.0" cy="145.0" r="26.0" fill="url(#go)"/><circle cx="298.1" cy="288.0" r="19.0" fill="url(#gh)"/><circle cx="372.9" cy="255.1" r="19.0" fill="url(#gh)"/><circle cx="350.0" cy="300.0" r="26.0" fill="url(#go)"/><circle cx="174.7" cy="405.2" r="19.0" fill="url(#gh)"/><circle cx="108.1" cy="363.6" r="19.0" fill="url(#gh)"/><circle cx="160.0" cy="360.0" r="26.0" fill="url(#go)"/><circle cx="71.3" cy="328.5" r="19.0" fill="url(#gh)"/><circle cx="70.6" cy="407.8" r="19.0" fill="url(#gh)"/><circle cx="40.0" cy="370.0" r="26.0" fill="url(#go)"/><circle cx="121.3" cy="486.9" r="19.0" fill="url(#gh)"/><circle cx="172.8" cy="434.3" r="19.0" fill="url(#gh)"/><circle cx="175.0" cy="470.0" r="26.0" fill="url(#go)"/><circle cx="72.5" cy="522.5" r="19.0" fill="url(#gh)"/><circle cx="9.2" cy="554.0" r="19.0" fill="url(#gh)"/><circle cx="40.0" cy="510.0" r="26.0" fill="url(#go)"/><circle cx="257.3" cy="529.3" r="19.0" fill="url(#gh)"/><circle cx="311.8" cy="486.0" r="19.0" fill="url(#gh)"/><circle cx="300.0" cy="530.0" r="26.0" fill="url(#go)"/><circle cx="204.5" cy="340.7" r="19.0" fill="url(#gh)"/><circle cx="131.1" cy="292.1" r="19.0" fill="url(#gh)"/><circle cx="190.0" cy="290.0" r="26.0" fill="url(#go)"/><circle cx="437.8" cy="265.8" r="19.0" fill="url(#gh)"/><circle cx="445.6" cy="193.8" r="19.0" fill="url(#gh)"/><circle cx="470.0" cy="230.0" r="26.0" fill="url(#go)"/><circle cx="540.0" cy="123.0" r="19.0" fill="url(#gh)"/><circle cx="551.9" cy="191.3" r="19.0" fill="url(#gh)"/><circle cx="520.0" cy="165.0" r="26.0" fill="url(#go)"/><circle cx="614.9" cy="85.2" r="19.0" fill="url(#gh)"/><circle cx="551.7" cy="142.2" r="19.0" fill="url(#gh)"/><circle cx="560.0" cy="90.0" r="26.0" fill="url(#go)"/><circle cx="579.1" cy="150.9" r="19.0" fill="url(#gh)"/><circle cx="590.9" cy="61.6" r="19.0" fill="url(#gh)"/><circle cx="620.0" cy="110.0" r="26.0" fill="url(#go)"/><circle cx="667.0" cy="22.8" r="19.0" fill="url(#gh)"/><circle cx="735.1" cy="56.5" r="19.0" fill="url(#gh)"/><circle cx="700.0" cy="70.0" r="26.0" fill="url(#go)"/><circle cx="737.4" cy="156.3" r="19.0" fill="url(#gh)"/><circle cx="664.8" cy="178.8" r="19.0" fill="url(#gh)"/><circle cx="690.0" cy="140.0" r="26.0" fill="url(#go)"/><circle cx="741.3" cy="177.7" r="19.0" fill="url(#gh)"/><circle cx="709.0" cy="88.1" r="19.0" fill="url(#gh)"/><circle cx="760.0" cy="120.0" r="26.0" fill="url(#go)"/><circle cx="845.2" cy="109.8" r="19.0" fill="url(#gh)"/><circle cx="781.3" cy="62.6" r="19.0" fill="url(#gh)"/><circle cx="830.0" cy="60.0" r="26.0" fill="url(#go)"/><circle cx="1056.3" cy="7.3" r="19.0" fill="url(#gh)"/><circle cx="1040.9" cy="79.3" r="19.0" fill="url(#gh)"/><circle cx="1020.0" cy="40.0" r="26.0" fill="url(#go)"/><circle cx="879.8" cy="236.4" r="19.0" fill="url(#gh)"/><circle cx="953.1" cy="247.1" r="19.0" fill="url(#gh)"/><circle cx="910.0" cy="270.0" r="26.0" fill="url(#go)"/><circle cx="838.5" cy="258.6" r="19.0" fill="url(#gh)"/><circle cx="767.9" cy="299.6" r="19.0" fill="url(#gh)"/><circle cx="790.0" cy="250.0" r="26.0" fill="url(#go)"/><circle cx="750.8" cy="393.1" r="19.0" fill="url(#gh)"/><circle cx="817.1" cy="357.7" r="19.0" fill="url(#gh)"/><circle cx="800.0" cy="400.0" r="26.0" fill="url(#go)"/><circle cx="820.5" cy="444.2" r="19.0" fill="url(#gh)"/><circle cx="888.6" cy="391.2" r="19.0" fill="url(#gh)"/><circle cx="880.0" cy="440.0" r="26.0" fill="url(#go)"/><circle cx="782.4" cy="489.5" r="19.0" fill="url(#gh)"/><circle cx="790.0" cy="558.0" r="19.0" fill="url(#gh)"/><circle cx="760.0" cy="530.0" r="26.0" fill="url(#go)"/><circle cx="1094.4" cy="509.3" r="19.0" fill="url(#gh)"/><circle cx="1075.0" cy="579.2" r="19.0" fill="url(#gh)"/><circle cx="1060.0" cy="530.0" r="26.0" fill="url(#go)"/><circle cx="1123.2" cy="641.3" r="19.0" fill="url(#gh)"/><circle cx="1113.0" cy="560.3" r="19.0" fill="url(#gh)"/><circle cx="1150.0" cy="600.0" r="26.0" fill="url(#go)"/><circle cx="1078.4" cy="599.4" r="19.0" fill="url(#gh)"/><circle cx="1139.5" cy="630.2" r="19.0" fill="url(#gh)"/><circle cx="1100.0" cy="640.0" r="26.0" fill="url(#go)"/><circle cx="1206.1" cy="245.7" r="19.0" fill="url(#gh)"/><circle cx="1189.1" cy="322.6" r="19.0" fill="url(#gh)"/><circle cx="1170.0" cy="270.0" r="26.0" fill="url(#go)"/><circle cx="687.2" cy="514.1" r="19.0" fill="url(#gh)"/><circle cx="685.0" cy="606.4" r="19.0" fill="url(#gh)"/><circle cx="650.0" cy="560.0" r="26.0" fill="url(#go)"/><circle cx="701.3" cy="644.8" r="19.0" fill="url(#gh)"/><circle cx="743.0" cy="718.2" r="19.0" fill="url(#gh)"/><circle cx="690.0" cy="690.0" r="26.0" fill="url(#go)"/><circle cx="732.9" cy="723.1" r="19.0" fill="url(#gh)"/><circle cx="795.7" cy="765.2" r="19.0" fill="url(#gh)"/><circle cx="750.0" cy="770.0" r="26.0" fill="url(#go)"/><circle cx="781.2" cy="864.4" r="19.0" fill="url(#gh)"/><circle cx="782.3" cy="790.3" r="19.0" fill="url(#gh)"/><circle cx="810.0" cy="820.0" r="26.0" fill="url(#go)"/><circle cx="1011.6" cy="876.0" r="19.0" fill="url(#gh)"/><circle cx="938.4" cy="855.8" r="19.0" fill="url(#gh)"/><circle cx="990.0" cy="840.0" r="26.0" fill="url(#go)"/><circle cx="1114.6" cy="822.4" r="19.0" fill="url(#gh)"/><circle cx="1155.2" cy="877.4" r="19.0" fill="url(#gh)"/><circle cx="1110.0" cy="860.0" r="26.0" fill="url(#go)"/><circle cx="117.5" cy="791.6" r="19.0" fill="url(#gh)"/><circle cx="125.1" cy="718.2" r="19.0" fill="url(#gh)"/><circle cx="150.0" cy="750.0" r="26.0" fill="url(#go)"/><circle cx="20.0" cy="724.0" r="19.0" fill="url(#gh)"/><circle cx="110.0" cy="726.3" r="19.0" fill="url(#gh)"/><circle cx="60.0" cy="760.0" r="26.0" fill="url(#go)"/><circle cx="114.1" cy="869.3" r="19.0" fill="url(#gh)"/><circle cx="50.6" cy="821.7" r="19.0" fill="url(#gh)"/><circle cx="110.0" cy="830.0" r="26.0" fill="url(#go)"/><circle cx="448.7" cy="722.5" r="19.0" fill="url(#gh)"/><circle cx="379.8" cy="712.0" r="19.0" fill="url(#gh)"/><circle cx="410.0" cy="690.0" r="26.0" fill="url(#go)"/><circle cx="395.8" cy="564.0" r="19.0" fill="url(#gh)"/><circle cx="454.6" cy="549.7" r="19.0" fill="url(#gh)"/><circle cx="430.0" cy="580.0" r="26.0" fill="url(#go)"/><circle cx="485.0" cy="957.8" r="19.0" fill="url(#gh)"/><circle cx="410.9" cy="985.0" r="19.0" fill="url(#gh)"/><circle cx="450.0" cy="940.0" r="26.0" fill="url(#go)"/><circle cx="626.4" cy="985.5" r="19.0" fill="url(#gh)"/><circle cx="681.3" cy="1027.8" r="19.0" fill="url(#gh)"/><circle cx="640.0" cy="1030.0" r="26.0" fill="url(#go)"/><circle cx="648.2" cy="638.4" r="19.0" fill="url(#gh)"/><circle cx="685.1" cy="709.2" r="19.0" fill="url(#gh)"/><circle cx="640.0" cy="690.0" r="26.0" fill="url(#go)"/><circle cx="1003.6" cy="449.2" r="19.0" fill="url(#gh)"/><circle cx="1063.1" cy="469.3" r="19.0" fill="url(#gh)"/><circle cx="1020.0" cy="480.0" r="26.0" fill="url(#go)"/><circle cx="1177.5" cy="555.6" r="19.0" fill="url(#gh)"/><circle cx="1127.9" cy="503.1" r="19.0" fill="url(#gh)"/><circle cx="1180.0" cy="520.0" r="26.0" fill="url(#go)"/><circle cx="1200.0" cy="856.5" r="19.0" fill="url(#gh)"/><circle cx="1163.8" cy="811.0" r="19.0" fill="url(#gh)"/><circle cx="1200.0" cy="820.0" r="26.0" fill="url(#go)"/><circle cx="348.3" cy="807.6" r="19.0" fill="url(#gh)"/><circle cx="277.5" cy="781.2" r="19.0" fill="url(#gh)"/><circle cx="330.0" cy="770.0" r="26.0" fill="url(#go)"/><circle cx="213.3" cy="410.2" r="19.0" fill="url(#gh)"/><circle cx="273.5" cy="377.5" r="19.0" fill="url(#gh)"/><circle cx="250.0" cy="420.0" r="26.0" fill="url(#go)"/><circle cx="871.3" cy="63.0" r="19.0" fill="url(#gh)"/><circle cx="867.7" cy="-16.1" r="19.0" fill="url(#gh)"/><circle cx="900.0" cy="30.0" r="26.0" fill="url(#go)"/><circle cx="1087.8" cy="131.0" r="19.0" fill="url(#gh)"/><circle cx="1156.0" cy="180.0" r="19.0" fill="url(#gh)"/><circle cx="1100.0" cy="180.0" r="26.0" fill="url(#go)"/><circle cx="364.0" cy="45.2" r="19.0" fill="url(#gh)"/><circle cx="325.4" cy="93.5" r="19.0" fill="url(#gh)"/><circle cx="330.0" cy="50.0" r="26.0" fill="url(#go)"/><circle cx="198.0" cy="98.3" r="19.0" fill="url(#gh)"/><circle cx="154.1" cy="26.8" r="19.0" fill="url(#gh)"/><circle cx="200.0" cy="40.0" r="26.0" fill="url(#go)"/><circle cx="482.5" cy="10.9" r="19.0" fill="url(#gh)"/><circle cx="445.4" cy="97.4" r="19.0" fill="url(#gh)"/><circle cx="430.0" cy="40.0" r="26.0" fill="url(#go)"/><circle cx="955.1" cy="197.3" r="19.0" fill="url(#gh)"/><circle cx="970.6" cy="126.4" r="19.0" fill="url(#gh)"/><circle cx="990.0" cy="170.0" r="26.0" fill="url(#go)"/><circle cx="107.1" cy="210.0" r="19.0" fill="url(#gh)"/><circle cx="58.2" cy="272.8" r="19.0" fill="url(#gh)"/><circle cx="60.0" cy="220.0" r="26.0" fill="url(#go)"/><circle cx="557.9" cy="510.4" r="19.0" fill="url(#gh)"/><circle cx="519.3" cy="457.5" r="19.0" fill="url(#gh)"/><circle cx="560.0" cy="470.0" r="26.0" fill="url(#go)"/><circle cx="890.4" cy="681.8" r="19.0" fill="url(#gh)"/><circle cx="843.2" cy="640.0" r="19.0" fill="url(#gh)"/><circle cx="880.0" cy="640.0" r="26.0" fill="url(#go)"/><circle cx="936.0" cy="654.6" r="19.0" fill="url(#gh)"/><circle cx="1019.1" cy="639.5" r="19.0" fill="url(#gh)"/><circle cx="980.0" cy="680.0" r="26.0" fill="url(#go)"/><circle cx="1068.1" cy="321.2" r="19.0" fill="url(#gh)"/><circle cx="1147.2" cy="320.9" r="19.0" fill="url(#gh)"/><circle cx="1120.0" cy="350.0" r="26.0" fill="url(#go)"/><circle cx="85.2" cy="631.3" r="19.0" fill="url(#gh)"/><circle cx="26.1" cy="684.4" r="19.0" fill="url(#gh)"/><circle cx="30.0" cy="640.0" r="26.0" fill="url(#go)"/><circle cx="271.4" cy="573.7" r="19.0" fill="url(#gh)"/><circle cx="259.0" cy="638.9" r="19.0" fill="url(#gh)"/><circle cx="240.0" cy="600.0" r="26.0" fill="url(#go)"/><circle cx="409.9" cy="915.7" r="19.0" fill="url(#gh)"/><circle cx="334.4" cy="902.2" r="19.0" fill="url(#gh)"/><circle cx="380.0" cy="880.0" r="26.0" fill="url(#go)"/><circle cx="732.5" cy="943.6" r="19.0" fill="url(#gh)"/><circle cx="670.9" cy="901.7" r="19.0" fill="url(#gh)"/><circle cx="720.0" cy="900.0" r="26.0" fill="url(#go)"/><circle cx="944.5" cy="902.1" r="19.0" fill="url(#gh)"/><circle cx="965.0" cy="964.5" r="19.0" fill="url(#gh)"/><circle cx="930.0" cy="940.0" r="26.0" fill="url(#go)"/><circle cx="330.0" cy="980.0" r="19.0" fill="url(#gh)"/><circle cx="420.0" cy="1010.0" r="22.0" fill="url(#gc)"/><circle cx="480.0" cy="930.0" r="19.0" fill="url(#gh)"/><circle cx="490.0" cy="1170.0" r="24.0" fill="url(#gn)"/><circle cx="560.0" cy="1120.0" r="19.0" fill="url(#gh)"/><circle cx="490.0" cy="1330.0" r="19.0" fill="url(#gh)"/><circle cx="400.0" cy="1120.0" r="19.0" fill="url(#gh)"/><circle cx="250.0" cy="1060.0" r="19.0" fill="url(#gh)"/><circle cx="230.0" cy="1210.0" r="22.0" fill="url(#gc)"/><circle cx="290.0" cy="1270.0" r="19.0" fill="url(#gh)"/><circle cx="120.0" cy="1180.0" r="19.0" fill="url(#gh)"/><circle cx="100.0" cy="1020.0" r="19.0" fill="url(#gh)"/><circle cx="160.0" cy="1080.0" r="24.0" fill="url(#gn)"/><circle cx="760.0" cy="1170.0" r="19.0" fill="url(#gh)"/><circle cx="860.0" cy="1180.0" r="22.0" fill="url(#gc)"/><circle cx="940.0" cy="1150.0" r="19.0" fill="url(#gh)"/><circle cx="880.0" cy="1240.0" r="19.0" fill="url(#gh)"/><circle cx="990.0" cy="1100.0" r="19.0" fill="url(#gh)"/><circle cx="1060.0" cy="1000.0" r="22.0" fill="url(#gc)"/><circle cx="1150.0" cy="1020.0" r="19.0" fill="url(#gh)"/><circle cx="1130.0" cy="1180.0" r="19.0" fill="url(#gh)"/><circle cx="1060.0" cy="1200.0" r="22.0" fill="url(#gc)"/><circle cx="1070.0" cy="1270.0" r="19.0" fill="url(#gh)"/><circle cx="610.0" cy="1240.0" r="19.0" fill="url(#gh)"/><circle cx="680.0" cy="1210.0" r="24.0" fill="url(#gn)"/><circle cx="700.0" cy="1120.0" r="19.0" fill="url(#gh)"/><circle cx="630.0" cy="1130.0" r="19.0" fill="url(#gh)"/><circle cx="690.0" cy="1180.0" r="24.0" fill="url(#gx)"/><circle cx="760.0" cy="1110.0" r="19.0" fill="url(#gh)"/><circle cx="960.0" cy="1250.0" r="19.0" fill="url(#gh)"/><circle cx="1000.0" cy="1320.0" r="22.0" fill="url(#gc)"/><circle cx="1080.0" cy="1290.0" r="19.0" fill="url(#gh)"/><circle cx="270.0" cy="850.0" r="19.0" fill="url(#gh)"/><circle cx="300.0" cy="910.0" r="22.0" fill="url(#gc)"/><circle cx="350.0" cy="860.0" r="19.0" fill="url(#gh)"/><circle cx="800.0" cy="1000.0" r="19.0" fill="url(#gh)"/><circle cx="850.0" cy="1060.0" r="24.0" fill="url(#gn)"/><circle cx="930.0" cy="1010.0" r="19.0" fill="url(#gh)"/><circle cx="1100.0" cy="1330.0" r="19.0" fill="url(#gh)"/><circle cx="1140.0" cy="1400.0" r="22.0" fill="url(#gc)"/><circle cx="1090.0" cy="1450.0" r="19.0" fill="url(#gh)"/><circle cx="395.0" cy="1340.0" r="33.0" fill="url(#gi)"/><circle cx="540.0" cy="1450.0" r="33.0" fill="url(#gi)"/><circle cx="960.0" cy="1435.0" r="33.0" fill="url(#gi)"/><circle cx="330.0" cy="1390.0" r="33.0" fill="url(#gi)"/><path d="M565.0,635.0L577.5,480.0" stroke="#189c9c" stroke-width="15.0"/><path d="M577.5,480.0L590.0,325.0" stroke="#d40000" stroke-width="15.0"/><path d="M565.0,635.0L470.0,537.5" stroke="#189c9c" stroke-width="15.0"/><path d="M470.0,537.5L375.0,440.0" stroke="#9a0a8a" stroke-width="15.0"/><path d="M565.0,635.0L760.0,592.5" stroke="#189c9c" stroke-width="15.0"/><path d="M760.0,592.5L955.0,550.0" stroke="#9a0a8a" stroke-width="15.0"/><path d="M565.0,635.0L575.0,842.5" stroke="#189c9c" stroke-width="15.0"/><path d="M575.0,842.5L585.0,1050.0" stroke="#9a0a8a" stroke-width="15.0"/><path d="M565.0,635.0L410.0,667.5" stroke="#189c9c" stroke-width="15.0"/><path d="M410.0,667.5L255.0,700.0" stroke="#d40000" stroke-width="15.0"/><path d="M590.0,325.0L615.0,282.5" stroke="#d40000" stroke-width="15.0"/><path d="M615.0,282.5L640.0,240.0" stroke="#e8e000" stroke-width="15.0"/><path d="M590.0,325.0L540.0,300.0" stroke="#d40000" stroke-width="15.0"/><path d="M540.0,300.0L490.0,275.0" stroke="#e8e000" stroke-width="15.0"/><path d="M255.0,700.0L242.5,752.5" stroke="#d40000" stroke-width="15.0"/><path d="M242.5,752.5L230.0,805.0" stroke="#e8e000" stroke-width="15.0"/><path d="M265.0,945.0L212.5,965.0" stroke="#d40000" stroke-width="15.0"/><path d="M212.5,965.0L160.0,985.0" stroke="#e8e000" stroke-width="15.0"/><path d="M265.0,945.0L280.0,935.0" stroke="#d40000" stroke-width="15.0"/><path d="M280.0,935.0L295.0,925.0" stroke="#e8e000" stroke-width="15.0"/><circle cx="490.0" cy="275.0" r="30.0" fill="url(#gH)"/><circle cx="640.0" cy="240.0" r="30.0" fill="url(#gH)"/><circle cx="590.0" cy="325.0" r="45.0" fill="url(#gO)"/><circle cx="375.0" cy="440.0" r="48.0" fill="url(#gI)"/><circle cx="955.0" cy="550.0" r="48.0" fill="url(#gI)"/><circle cx="565.0" cy="635.0" r="48.0" fill="url(#gPb)"/><circle cx="255.0" cy="700.0" r="48.0" fill="url(#gO)"/><circle cx="230.0" cy="805.0" r="30.0" fill="url(#gH)"/><circle cx="160.0" cy="985.0" r="30.0" fill="url(#gH)"/><circle cx="265.0" cy="945.0" r="45.0" fill="url(#gO)"/><circle cx="300.0" cy="925.0" r="30.0" fill="url(#gH)"/><circle cx="585.0" cy="1050.0" r="48.0" fill="url(#gI)"/></g></g></g>
<rect x="480" y="36" width="333" height="411" fill="none" stroke="#2a2a2a" stroke-width="2.4"/>
<rect x="709.4" y="49.4" width="91.7" height="43.7" fill="#ffff00" stroke="#111" stroke-width="2.8"/>
<text x="755.2" y="81.5" class="ps" text-anchor="middle">2.5 ps</text>
<clipPath id="cp2"><rect x="833.5" y="36" width="328.5" height="411"/></clipPath>
<g clip-path="url(#cp2)"><g filter="url(#blur)"><g transform="translate(833,36) scale(0.26901)" stroke-linecap="round"><path d="M545.0,35.0L555.8,75.2" stroke="#e2a0a0" stroke-width="23.0"/><path d="M555.8,75.2L566.5,115.4" stroke="#c8c8c8" stroke-width="23.0"/><path d="M545.0,35.0L506.1,35.7" stroke="#e2a0a0" stroke-width="23.0"/><path d="M506.1,35.7L467.3,36.4" stroke="#c8c8c8" stroke-width="23.0"/><path d="M660.0,90.0L695.1,93.1" stroke="#e2a0a0" stroke-width="23.0"/><path d="M695.1,93.1L730.3,96.2" stroke="#c8c8c8" stroke-width="23.0"/><path d="M660.0,90.0L647.6,125.8" stroke="#e2a0a0" stroke-width="23.0"/><path d="M647.6,125.8L635.3,161.7" stroke="#c8c8c8" stroke-width="23.0"/><path d="M450.0,165.0L414.2,190.5" stroke="#e2a0a0" stroke-width="23.0"/><path d="M414.2,190.5L378.5,216.0" stroke="#c8c8c8" stroke-width="23.0"/><path d="M450.0,165.0L437.4,133.0" stroke="#e2a0a0" stroke-width="23.0"/><path d="M437.4,133.0L424.8,101.0" stroke="#c8c8c8" stroke-width="23.0"/><path d="M600.0,185.0L571.6,159.9" stroke="#e2a0a0" stroke-width="23.0"/><path d="M571.6,159.9L543.3,134.8" stroke="#c8c8c8" stroke-width="23.0"/><path d="M600.0,185.0L640.2,157.3" stroke="#e2a0a0" stroke-width="23.0"/><path d="M640.2,157.3L680.4,129.7" stroke="#c8c8c8" stroke-width="23.0"/><path d="M60.0,100.0L94.5,84.6" stroke="#e2a0a0" stroke-width="23.0"/><path d="M94.5,84.6L129.1,69.2" stroke="#c8c8c8" stroke-width="23.0"/><path d="M60.0,100.0L68.5,148.1" stroke="#e2a0a0" stroke-width="23.0"/><path d="M68.5,148.1L76.9,196.1" stroke="#c8c8c8" stroke-width="23.0"/><path d="M250.0,125.0L296.9,125.4" stroke="#e2a0a0" stroke-width="23.0"/><path d="M296.9,125.4L343.8,125.8" stroke="#c8c8c8" stroke-width="23.0"/><path d="M250.0,125.0L238.5,169.4" stroke="#e2a0a0" stroke-width="23.0"/><path d="M238.5,169.4L227.0,213.8" stroke="#c8c8c8" stroke-width="23.0"/><path d="M210.0,235.0L233.7,262.8" stroke="#e2a0a0" stroke-width="23.0"/><path d="M233.7,262.8L257.4,290.5" stroke="#c8c8c8" stroke-width="23.0"/><path d="M210.0,235.0L181.4,249.2" stroke="#e2a0a0" stroke-width="23.0"/><path d="M181.4,249.2L152.8,263.5" stroke="#c8c8c8" stroke-width="23.0"/><path d="M300.0,260.0L314.1,288.9" stroke="#e2a0a0" stroke-width="23.0"/><path d="M314.1,288.9L328.2,317.9" stroke="#c8c8c8" stroke-width="23.0"/><path d="M300.0,260.0L267.0,267.0" stroke="#e2a0a0" stroke-width="23.0"/><path d="M267.0,267.0L234.0,274.0" stroke="#c8c8c8" stroke-width="23.0"/><path d="M115.0,310.0L136.5,282.9" stroke="#e2a0a0" stroke-width="23.0"/><path d="M136.5,282.9L158.0,255.9" stroke="#c8c8c8" stroke-width="23.0"/><path d="M115.0,310.0L142.1,345.2" stroke="#e2a0a0" stroke-width="23.0"/><path d="M142.1,345.2L169.1,380.5" stroke="#c8c8c8" stroke-width="23.0"/><path d="M170.0,345.0L162.8,393.1" stroke="#e2a0a0" stroke-width="23.0"/><path d="M162.8,393.1L155.6,441.1" stroke="#c8c8c8" stroke-width="23.0"/><path d="M170.0,345.0L132.5,329.4" stroke="#e2a0a0" stroke-width="23.0"/><path d="M132.5,329.4L95.0,313.9" stroke="#c8c8c8" stroke-width="23.0"/><path d="M410.0,290.0L387.6,251.2" stroke="#e2a0a0" stroke-width="23.0"/><path d="M387.6,251.2L365.1,212.3" stroke="#c8c8c8" stroke-width="23.0"/><path d="M410.0,290.0L437.1,282.2" stroke="#e2a0a0" stroke-width="23.0"/><path d="M437.1,282.2L464.2,274.5" stroke="#c8c8c8" stroke-width="23.0"/><path d="M640.0,315.0L613.4,307.1" stroke="#e2a0a0" stroke-width="23.0"/><path d="M613.4,307.1L586.7,299.2" stroke="#c8c8c8" stroke-width="23.0"/><path d="M640.0,315.0L654.1,291.0" stroke="#e2a0a0" stroke-width="23.0"/><path d="M654.1,291.0L668.3,267.0" stroke="#c8c8c8" stroke-width="23.0"/><path d="M700.0,250.0L714.0,295.9" stroke="#e2a0a0" stroke-width="23.0"/><path d="M714.0,295.9L728.1,341.8" stroke="#c8c8c8" stroke-width="23.0"/><path d="M700.0,250.0L667.8,251.7" stroke="#e2a0a0" stroke-width="23.0"/><path d="M667.8,251.7L635.5,253.4" stroke="#c8c8c8" stroke-width="23.0"/><path d="M760.0,265.0L730.1,255.6" stroke="#e2a0a0" stroke-width="23.0"/><path d="M730.1,255.6L700.2,246.1" stroke="#c8c8c8" stroke-width="23.0"/><path d="M760.0,265.0L777.0,237.2" stroke="#e2a0a0" stroke-width="23.0"/><path d="M777.0,237.2L794.1,209.3" stroke="#c8c8c8" stroke-width="23.0"/><path d="M890.0,250.0L918.8,260.4" stroke="#e2a0a0" stroke-width="23.0"/><path d="M918.8,260.4L947.5,270.9" stroke="#c8c8c8" stroke-width="23.0"/><path d="M890.0,250.0L868.1,282.4" stroke="#e2a0a0" stroke-width="23.0"/><path d="M868.1,282.4L846.3,314.8" stroke="#c8c8c8" stroke-width="23.0"/><path d="M1180.0,185.0L1158.8,205.8" stroke="#e2a0a0" stroke-width="23.0"/><path d="M1158.8,205.8L1137.6,226.7" stroke="#c8c8c8" stroke-width="23.0"/><path d="M1180.0,185.0L1164.5,158.8" stroke="#e2a0a0" stroke-width="23.0"/><path d="M1164.5,158.8L1149.1,132.5" stroke="#c8c8c8" stroke-width="23.0"/><path d="M1130.0,260.0L1176.1,262.4" stroke="#e2a0a0" stroke-width="23.0"/><path d="M1176.1,262.4L1222.2,264.8" stroke="#c8c8c8" stroke-width="23.0"/><path d="M1130.0,260.0L1119.0,295.8" stroke="#e2a0a0" stroke-width="23.0"/><path d="M1119.0,295.8L1108.1,331.5" stroke="#c8c8c8" stroke-width="23.0"/><path d="M945.0,400.0L897.0,411.5" stroke="#e2a0a0" stroke-width="23.0"/><path d="M897.0,411.5L849.1,423.0" stroke="#c8c8c8" stroke-width="23.0"/><path d="M945.0,400.0L945.5,350.9" stroke="#e2a0a0" stroke-width="23.0"/><path d="M945.5,350.9L945.9,301.9" stroke="#c8c8c8" stroke-width="23.0"/><path d="M940.0,310.0L898.0,284.8" stroke="#e2a0a0" stroke-width="23.0"/><path d="M898.0,284.8L856.0,259.5" stroke="#c8c8c8" stroke-width="23.0"/><path d="M940.0,310.0L963.8,286.2" stroke="#e2a0a0" stroke-width="23.0"/><path d="M963.8,286.2L987.6,262.4" stroke="#c8c8c8" stroke-width="23.0"/><path d="M680.0,390.0L716.0,390.6" stroke="#e2a0a0" stroke-width="23.0"/><path d="M716.0,390.6L752.0,391.3" stroke="#c8c8c8" stroke-width="23.0"/><path d="M680.0,390.0L668.0,434.8" stroke="#e2a0a0" stroke-width="23.0"/><path d="M668.0,434.8L656.0,479.5" stroke="#c8c8c8" stroke-width="23.0"/><path d="M580.0,440.0L554.6,457.1" stroke="#e2a0a0" stroke-width="23.0"/><path d="M554.6,457.1L529.3,474.2" stroke="#c8c8c8" stroke-width="23.0"/><path d="M580.0,440.0L569.2,410.4" stroke="#e2a0a0" stroke-width="23.0"/><path d="M569.2,410.4L558.4,380.7" stroke="#c8c8c8" stroke-width="23.0"/><path d="M30.0,400.0L66.2,376.6" stroke="#e2a0a0" stroke-width="23.0"/><path d="M66.2,376.6L102.3,353.1" stroke="#c8c8c8" stroke-width="23.0"/><path d="M30.0,400.0L45.7,445.6" stroke="#e2a0a0" stroke-width="23.0"/><path d="M45.7,445.6L61.4,491.3" stroke="#c8c8c8" stroke-width="23.0"/><path d="M60.0,460.0L100.0,468.5" stroke="#e2a0a0" stroke-width="23.0"/><path d="M100.0,468.5L139.9,477.0" stroke="#c8c8c8" stroke-width="23.0"/><path d="M60.0,460.0L46.7,487.2" stroke="#e2a0a0" stroke-width="23.0"/><path d="M46.7,487.2L33.4,514.5" stroke="#c8c8c8" stroke-width="23.0"/><path d="M90.0,550.0L56.4,569.5" stroke="#e2a0a0" stroke-width="23.0"/><path d="M56.4,569.5L22.7,588.9" stroke="#c8c8c8" stroke-width="23.0"/><path d="M90.0,550.0L82.4,523.5" stroke="#e2a0a0" stroke-width="23.0"/><path d="M82.4,523.5L74.8,496.9" stroke="#c8c8c8" stroke-width="23.0"/><path d="M160.0,580.0L187.1,598.3" stroke="#e2a0a0" stroke-width="23.0"/><path d="M187.1,598.3L214.2,616.6" stroke="#c8c8c8" stroke-width="23.0"/><path d="M160.0,580.0L128.8,608.0" stroke="#e2a0a0" stroke-width="23.0"/><path d="M128.8,608.0L97.7,636.1" stroke="#c8c8c8" stroke-width="23.0"/><path d="M150.0,640.0L121.4,658.6" stroke="#e2a0a0" stroke-width="23.0"/><path d="M121.4,658.6L92.8,677.2" stroke="#c8c8c8" stroke-width="23.0"/><path d="M150.0,640.0L135.8,598.5" stroke="#e2a0a0" stroke-width="23.0"/><path d="M135.8,598.5L121.5,557.1" stroke="#c8c8c8" stroke-width="23.0"/><path d="M30.0,700.0L-15.6,702.4" stroke="#e2a0a0" stroke-width="23.0"/><path d="M-15.6,702.4L-61.1,704.8" stroke="#c8c8c8" stroke-width="23.0"/><path d="M30.0,700.0L38.4,656.6" stroke="#e2a0a0" stroke-width="23.0"/><path d="M38.4,656.6L46.8,613.3" stroke="#c8c8c8" stroke-width="23.0"/><path d="M60.0,740.0L26.4,752.2" stroke="#e2a0a0" stroke-width="23.0"/><path d="M26.4,752.2L-7.1,764.4" stroke="#c8c8c8" stroke-width="23.0"/><path d="M60.0,740.0L56.0,701.8" stroke="#e2a0a0" stroke-width="23.0"/><path d="M56.0,701.8L52.0,663.6" stroke="#c8c8c8" stroke-width="23.0"/><path d="M280.0,560.0L257.5,588.8" stroke="#e2a0a0" stroke-width="23.0"/><path d="M257.5,588.8L235.0,617.6" stroke="#c8c8c8" stroke-width="23.0"/><path d="M280.0,560.0L255.7,528.9" stroke="#e2a0a0" stroke-width="23.0"/><path d="M255.7,528.9L231.3,497.7" stroke="#c8c8c8" stroke-width="23.0"/><path d="M270.0,650.0L304.4,633.2" stroke="#e2a0a0" stroke-width="23.0"/><path d="M304.4,633.2L338.7,616.5" stroke="#c8c8c8" stroke-width="23.0"/><path d="M270.0,650.0L277.1,683.5" stroke="#e2a0a0" stroke-width="23.0"/><path d="M277.1,683.5L284.3,717.0" stroke="#c8c8c8" stroke-width="23.0"/><path d="M100.0,860.0L92.0,892.0" stroke="#e2a0a0" stroke-width="23.0"/><path d="M92.0,892.0L84.0,924.1" stroke="#c8c8c8" stroke-width="23.0"/><path d="M100.0,860.0L69.2,843.6" stroke="#e2a0a0" stroke-width="23.0"/><path d="M69.2,843.6L38.4,827.2" stroke="#c8c8c8" stroke-width="23.0"/><path d="M90.0,950.0L112.3,923.4" stroke="#e2a0a0" stroke-width="23.0"/><path d="M112.3,923.4L134.6,896.8" stroke="#c8c8c8" stroke-width="23.0"/><path d="M90.0,950.0L107.4,974.0" stroke="#e2a0a0" stroke-width="23.0"/><path d="M107.4,974.0L124.8,997.9" stroke="#c8c8c8" stroke-width="23.0"/><path d="M200.0,880.0L168.6,882.2" stroke="#e2a0a0" stroke-width="23.0"/><path d="M168.6,882.2L137.1,884.4" stroke="#c8c8c8" stroke-width="23.0"/><path d="M200.0,880.0L207.0,840.2" stroke="#e2a0a0" stroke-width="23.0"/><path d="M207.0,840.2L214.0,800.4" stroke="#c8c8c8" stroke-width="23.0"/><path d="M240.0,905.0L208.3,902.0" stroke="#e2a0a0" stroke-width="23.0"/><path d="M208.3,902.0L176.6,898.9" stroke="#c8c8c8" stroke-width="23.0"/><path d="M240.0,905.0L251.1,873.6" stroke="#e2a0a0" stroke-width="23.0"/><path d="M251.1,873.6L262.2,842.3" stroke="#c8c8c8" stroke-width="23.0"/><path d="M210.0,960.0L181.7,986.5" stroke="#e2a0a0" stroke-width="23.0"/><path d="M181.7,986.5L153.3,1012.9" stroke="#c8c8c8" stroke-width="23.0"/><path d="M210.0,960.0L189.3,922.8" stroke="#e2a0a0" stroke-width="23.0"/><path d="M189.3,922.8L168.7,885.5" stroke="#c8c8c8" stroke-width="23.0"/><path d="M300.0,1020.0L294.6,989.4" stroke="#e2a0a0" stroke-width="23.0"/><path d="M294.6,989.4L289.2,958.8" stroke="#c8c8c8" stroke-width="23.0"/><path d="M300.0,1020.0L339.6,1022.8" stroke="#e2a0a0" stroke-width="23.0"/><path d="M339.6,1022.8L379.3,1025.5" stroke="#c8c8c8" stroke-width="23.0"/><path d="M30.0,1060.0L-10.8,1033.5" stroke="#e2a0a0" stroke-width="23.0"/><path d="M-10.8,1033.5L-51.6,1007.0" stroke="#c8c8c8" stroke-width="23.0"/><path d="M30.0,1060.0L65.2,1027.2" stroke="#e2a0a0" stroke-width="23.0"/><path d="M65.2,1027.2L100.5,994.3" stroke="#c8c8c8" stroke-width="23.0"/><path d="M60.0,1120.0L50.4,1074.7" stroke="#e2a0a0" stroke-width="23.0"/><path d="M50.4,1074.7L40.7,1029.3" stroke="#c8c8c8" stroke-width="23.0"/><path d="M60.0,1120.0L90.2,1121.0" stroke="#e2a0a0" stroke-width="23.0"/><path d="M90.2,1121.0L120.3,1122.1" stroke="#c8c8c8" stroke-width="23.0"/><path d="M110.0,1160.0L140.8,1175.7" stroke="#e2a0a0" stroke-width="23.0"/><path d="M140.8,1175.7L171.7,1191.4" stroke="#c8c8c8" stroke-width="23.0"/><path d="M110.0,1160.0L85.7,1188.0" stroke="#e2a0a0" stroke-width="23.0"/><path d="M85.7,1188.0L61.4,1215.9" stroke="#c8c8c8" stroke-width="23.0"/><path d="M100.0,1230.0L71.7,1234.5" stroke="#e2a0a0" stroke-width="23.0"/><path d="M71.7,1234.5L43.4,1239.0" stroke="#c8c8c8" stroke-width="23.0"/><path d="M100.0,1230.0L103.8,1186.2" stroke="#e2a0a0" stroke-width="23.0"/><path d="M103.8,1186.2L107.7,1142.3" stroke="#c8c8c8" stroke-width="23.0"/><path d="M200.0,1200.0L201.4,1241.7" stroke="#e2a0a0" stroke-width="23.0"/><path d="M201.4,1241.7L202.9,1283.4" stroke="#c8c8c8" stroke-width="23.0"/><path d="M200.0,1200.0L154.6,1190.3" stroke="#e2a0a0" stroke-width="23.0"/><path d="M154.6,1190.3L109.1,1180.7" stroke="#c8c8c8" stroke-width="23.0"/><path d="M320.0,1230.0L348.5,1217.9" stroke="#e2a0a0" stroke-width="23.0"/><path d="M348.5,1217.9L377.0,1205.8" stroke="#c8c8c8" stroke-width="23.0"/><path d="M320.0,1230.0L327.4,1276.6" stroke="#e2a0a0" stroke-width="23.0"/><path d="M327.4,1276.6L334.8,1323.2" stroke="#c8c8c8" stroke-width="23.0"/><path d="M350.0,1310.0L353.8,1346.2" stroke="#e2a0a0" stroke-width="23.0"/><path d="M353.8,1346.2L357.6,1382.4" stroke="#c8c8c8" stroke-width="23.0"/><path d="M350.0,1310.0L311.0,1304.5" stroke="#e2a0a0" stroke-width="23.0"/><path d="M311.0,1304.5L272.0,1299.0" stroke="#c8c8c8" stroke-width="23.0"/><path d="M270.0,1380.0L278.3,1415.8" stroke="#e2a0a0" stroke-width="23.0"/><path d="M278.3,1415.8L286.6,1451.7" stroke="#c8c8c8" stroke-width="23.0"/><path d="M270.0,1380.0L222.6,1379.2" stroke="#e2a0a0" stroke-width="23.0"/><path d="M222.6,1379.2L175.1,1378.3" stroke="#c8c8c8" stroke-width="23.0"/><path d="M120.0,1290.0L80.2,1320.0" stroke="#e2a0a0" stroke-width="23.0"/><path d="M80.2,1320.0L40.5,1349.9" stroke="#c8c8c8" stroke-width="23.0"/><path d="M120.0,1290.0L103.5,1251.1" stroke="#e2a0a0" stroke-width="23.0"/><path d="M103.5,1251.1L87.0,1212.2" stroke="#c8c8c8" stroke-width="23.0"/><path d="M960.0,650.0L997.2,629.4" stroke="#e2a0a0" stroke-width="23.0"/><path d="M997.2,629.4L1034.4,608.8" stroke="#c8c8c8" stroke-width="23.0"/><path d="M960.0,650.0L970.4,688.6" stroke="#e2a0a0" stroke-width="23.0"/><path d="M970.4,688.6L980.7,727.3" stroke="#c8c8c8" stroke-width="23.0"/><path d="M1030.0,660.0L1004.5,673.0" stroke="#e2a0a0" stroke-width="23.0"/><path d="M1004.5,673.0L978.9,686.1" stroke="#c8c8c8" stroke-width="23.0"/><path d="M1030.0,660.0L1020.1,617.0" stroke="#e2a0a0" stroke-width="23.0"/><path d="M1020.1,617.0L1010.2,574.1" stroke="#c8c8c8" stroke-width="23.0"/><path d="M790.0,710.0L826.0,707.5" stroke="#e2a0a0" stroke-width="23.0"/><path d="M826.0,707.5L862.0,705.0" stroke="#c8c8c8" stroke-width="23.0"/><path d="M790.0,710.0L784.5,741.0" stroke="#e2a0a0" stroke-width="23.0"/><path d="M784.5,741.0L779.1,772.0" stroke="#c8c8c8" stroke-width="23.0"/><path d="M1150.0,470.0L1158.0,515.4" stroke="#e2a0a0" stroke-width="23.0"/><path d="M1158.0,515.4L1166.0,560.8" stroke="#c8c8c8" stroke-width="23.0"/><path d="M1150.0,470.0L1105.3,466.9" stroke="#e2a0a0" stroke-width="23.0"/><path d="M1105.3,466.9L1060.6,463.7" stroke="#c8c8c8" stroke-width="23.0"/><path d="M1210.0,830.0L1167.7,819.5" stroke="#e2a0a0" stroke-width="23.0"/><path d="M1167.7,819.5L1125.3,808.9" stroke="#c8c8c8" stroke-width="23.0"/><path d="M1210.0,830.0L1229.5,793.4" stroke="#e2a0a0" stroke-width="23.0"/><path d="M1229.5,793.4L1249.0,756.7" stroke="#c8c8c8" stroke-width="23.0"/><path d="M1170.0,940.0L1154.9,910.4" stroke="#e2a0a0" stroke-width="23.0"/><path d="M1154.9,910.4L1139.8,880.8" stroke="#c8c8c8" stroke-width="23.0"/><path d="M1170.0,940.0L1196.9,933.8" stroke="#e2a0a0" stroke-width="23.0"/><path d="M1196.9,933.8L1223.8,927.6" stroke="#c8c8c8" stroke-width="23.0"/><path d="M880.0,990.0L887.0,1034.7" stroke="#e2a0a0" stroke-width="23.0"/><path d="M887.0,1034.7L894.1,1079.3" stroke="#c8c8c8" stroke-width="23.0"/><path d="M880.0,990.0L851.5,987.5" stroke="#e2a0a0" stroke-width="23.0"/><path d="M851.5,987.5L823.0,985.0" stroke="#c8c8c8" stroke-width="23.0"/><path d="M850.0,920.0L882.2,922.8" stroke="#e2a0a0" stroke-width="23.0"/><path d="M882.2,922.8L914.5,925.6" stroke="#c8c8c8" stroke-width="23.0"/><path d="M850.0,920.0L836.5,959.2" stroke="#e2a0a0" stroke-width="23.0"/><path d="M836.5,959.2L823.0,998.4" stroke="#c8c8c8" stroke-width="23.0"/><path d="M980.0,1020.0L943.8,1017.5" stroke="#e2a0a0" stroke-width="23.0"/><path d="M943.8,1017.5L907.6,1014.9" stroke="#c8c8c8" stroke-width="23.0"/><path d="M980.0,1020.0L992.1,982.7" stroke="#e2a0a0" stroke-width="23.0"/><path d="M992.1,982.7L1004.2,945.4" stroke="#c8c8c8" stroke-width="23.0"/><path d="M1030.0,1090.0L1062.8,1124.0" stroke="#e2a0a0" stroke-width="23.0"/><path d="M1062.8,1124.0L1095.7,1158.0" stroke="#c8c8c8" stroke-width="23.0"/><path d="M1030.0,1090.0L996.3,1109.5" stroke="#e2a0a0" stroke-width="23.0"/><path d="M996.3,1109.5L962.6,1128.9" stroke="#c8c8c8" stroke-width="23.0"/><path d="M1090.0,1140.0L1097.8,1090.9" stroke="#e2a0a0" stroke-width="23.0"/><path d="M1097.8,1090.9L1105.6,1041.8" stroke="#c8c8c8" stroke-width="23.0"/><path d="M1090.0,1140.0L1121.9,1153.5" stroke="#e2a0a0" stroke-width="23.0"/><path d="M1121.9,1153.5L1153.8,1167.1" stroke="#c8c8c8" stroke-width="23.0"/><path d="M1150.0,1200.0L1105.3,1197.7" stroke="#e2a0a0" stroke-width="23.0"/><path d="M1105.3,1197.7L1060.7,1195.3" stroke="#c8c8c8" stroke-width="23.0"/><path d="M1150.0,1200.0L1160.3,1166.1" stroke="#e2a0a0" stroke-width="23.0"/><path d="M1160.3,1166.1L1170.7,1132.2" stroke="#c8c8c8" stroke-width="23.0"/><path d="M1100.0,1250.0L1131.0,1234.2" stroke="#e2a0a0" stroke-width="23.0"/><path d="M1131.0,1234.2L1161.9,1218.5" stroke="#c8c8c8" stroke-width="23.0"/><path d="M1100.0,1250.0L1106.7,1278.9" stroke="#e2a0a0" stroke-width="23.0"/><path d="M1106.7,1278.9L1113.3,1307.8" stroke="#c8c8c8" stroke-width="23.0"/><path d="M930.0,1130.0L883.7,1146.8" stroke="#e2a0a0" stroke-width="23.0"/><path d="M883.7,1146.8L837.4,1163.7" stroke="#c8c8c8" stroke-width="23.0"/><path d="M930.0,1130.0L925.6,1088.7" stroke="#e2a0a0" stroke-width="23.0"/><path d="M925.6,1088.7L921.3,1047.3" stroke="#c8c8c8" stroke-width="23.0"/><path d="M1180.0,1080.0L1215.5,1100.5" stroke="#e2a0a0" stroke-width="23.0"/><path d="M1215.5,1100.5L1251.0,1121.0" stroke="#c8c8c8" stroke-width="23.0"/><path d="M1180.0,1080.0L1153.7,1107.3" stroke="#e2a0a0" stroke-width="23.0"/><path d="M1153.7,1107.3L1127.3,1134.6" stroke="#c8c8c8" stroke-width="23.0"/><path d="M760.0,1000.0L795.1,966.1" stroke="#e2a0a0" stroke-width="23.0"/><path d="M795.1,966.1L830.2,932.3" stroke="#c8c8c8" stroke-width="23.0"/><path d="M760.0,1000.0L784.2,1041.9" stroke="#e2a0a0" stroke-width="23.0"/><path d="M784.2,1041.9L808.4,1083.8" stroke="#c8c8c8" stroke-width="23.0"/><path d="M420.0,1120.0L455.7,1123.8" stroke="#e2a0a0" stroke-width="23.0"/><path d="M455.7,1123.8L491.4,1127.5" stroke="#c8c8c8" stroke-width="23.0"/><path d="M420.0,1120.0L409.3,1149.3" stroke="#e2a0a0" stroke-width="23.0"/><path d="M409.3,1149.3L398.6,1178.7" stroke="#c8c8c8" stroke-width="23.0"/><path d="M470.0,1200.0L462.4,1161.2" stroke="#e2a0a0" stroke-width="23.0"/><path d="M462.4,1161.2L454.9,1122.5" stroke="#c8c8c8" stroke-width="23.0"/><path d="M470.0,1200.0L505.9,1201.9" stroke="#e2a0a0" stroke-width="23.0"/><path d="M505.9,1201.9L541.9,1203.8" stroke="#c8c8c8" stroke-width="23.0"/><path d="M640.0,1300.0L679.1,1306.9" stroke="#e2a0a0" stroke-width="23.0"/><path d="M679.1,1306.9L718.3,1313.8" stroke="#c8c8c8" stroke-width="23.0"/><path d="M640.0,1300.0L625.2,1333.2" stroke="#e2a0a0" stroke-width="23.0"/><path d="M625.2,1333.2L610.4,1366.4" stroke="#c8c8c8" stroke-width="23.0"/><path d="M830.0,1420.0L869.4,1396.3" stroke="#e2a0a0" stroke-width="23.0"/><path d="M869.4,1396.3L908.7,1372.7" stroke="#c8c8c8" stroke-width="23.0"/><path d="M830.0,1420.0L840.8,1455.4" stroke="#e2a0a0" stroke-width="23.0"/><path d="M840.8,1455.4L851.6,1490.8" stroke="#c8c8c8" stroke-width="23.0"/><path d="M930.0,1400.0L933.5,1371.2" stroke="#e2a0a0" stroke-width="23.0"/><path d="M933.5,1371.2L937.1,1342.3" stroke="#c8c8c8" stroke-width="23.0"/><path d="M930.0,1400.0L971.6,1416.0" stroke="#e2a0a0" stroke-width="23.0"/><path d="M971.6,1416.0L1013.2,1432.0" stroke="#c8c8c8" stroke-width="23.0"/><path d="M1050.0,1340.0L1034.3,1303.2" stroke="#e2a0a0" stroke-width="23.0"/><path d="M1034.3,1303.2L1018.7,1266.3" stroke="#c8c8c8" stroke-width="23.0"/><path d="M1050.0,1340.0L1093.7,1333.1" stroke="#e2a0a0" stroke-width="23.0"/><path d="M1093.7,1333.1L1137.4,1326.2" stroke="#c8c8c8" stroke-width="23.0"/><path d="M720.0,1460.0L768.0,1468.5" stroke="#e2a0a0" stroke-width="23.0"/><path d="M768.0,1468.5L816.1,1476.9" stroke="#c8c8c8" stroke-width="23.0"/><path d="M720.0,1460.0L706.5,1490.5" stroke="#e2a0a0" stroke-width="23.0"/><path d="M706.5,1490.5L692.9,1521.0" stroke="#c8c8c8" stroke-width="23.0"/><path d="M600.0,1410.0L615.1,1435.2" stroke="#e2a0a0" stroke-width="23.0"/><path d="M615.1,1435.2L630.2,1460.3" stroke="#c8c8c8" stroke-width="23.0"/><path d="M600.0,1410.0L557.0,1423.2" stroke="#e2a0a0" stroke-width="23.0"/><path d="M557.0,1423.2L514.0,1436.3" stroke="#c8c8c8" stroke-width="23.0"/><path d="M300.0,1480.0L279.7,1434.4" stroke="#e2a0a0" stroke-width="23.0"/><path d="M279.7,1434.4L259.4,1388.8" stroke="#c8c8c8" stroke-width="23.0"/><path d="M300.0,1480.0L349.1,1471.3" stroke="#e2a0a0" stroke-width="23.0"/><path d="M349.1,1471.3L398.3,1462.7" stroke="#c8c8c8" stroke-width="23.0"/><path d="M1000.0,1470.0L1009.9,1433.0" stroke="#e2a0a0" stroke-width="23.0"/><path d="M1009.9,1433.0L1019.8,1396.1" stroke="#c8c8c8" stroke-width="23.0"/><path d="M1000.0,1470.0L1030.0,1486.7" stroke="#e2a0a0" stroke-width="23.0"/><path d="M1030.0,1486.7L1060.0,1503.3" stroke="#c8c8c8" stroke-width="23.0"/><path d="M520.0,640.0L558.4,616.0" stroke="#e2a0a0" stroke-width="23.0"/><path d="M558.4,616.0L596.7,592.1" stroke="#c8c8c8" stroke-width="23.0"/><path d="M520.0,640.0L528.9,667.2" stroke="#e2a0a0" stroke-width="23.0"/><path d="M528.9,667.2L537.7,694.5" stroke="#c8c8c8" stroke-width="23.0"/><path d="M480.0,720.0L488.4,686.5" stroke="#e2a0a0" stroke-width="23.0"/><path d="M488.4,686.5L496.7,652.9" stroke="#c8c8c8" stroke-width="23.0"/><path d="M480.0,720.0L519.2,740.9" stroke="#e2a0a0" stroke-width="23.0"/><path d="M519.2,740.9L558.4,761.7" stroke="#c8c8c8" stroke-width="23.0"/><path d="M830.0,860.0L858.2,878.4" stroke="#e2a0a0" stroke-width="23.0"/><path d="M858.2,878.4L886.5,896.7" stroke="#c8c8c8" stroke-width="23.0"/><path d="M830.0,860.0L798.4,889.5" stroke="#e2a0a0" stroke-width="23.0"/><path d="M798.4,889.5L766.7,919.0" stroke="#c8c8c8" stroke-width="23.0"/><path d="M1190.0,1380.0L1219.0,1348.8" stroke="#e2a0a0" stroke-width="23.0"/><path d="M1219.0,1348.8L1248.1,1317.7" stroke="#c8c8c8" stroke-width="23.0"/><path d="M1190.0,1380.0L1211.8,1413.7" stroke="#e2a0a0" stroke-width="23.0"/><path d="M1211.8,1413.7L1233.7,1447.3" stroke="#c8c8c8" stroke-width="23.0"/><path d="M20.0,1480.0L50.5,1481.0" stroke="#e2a0a0" stroke-width="23.0"/><path d="M50.5,1481.0L81.1,1482.1" stroke="#c8c8c8" stroke-width="23.0"/><path d="M20.0,1480.0L11.3,1510.3" stroke="#e2a0a0" stroke-width="23.0"/><path d="M11.3,1510.3L2.6,1540.7" stroke="#c8c8c8" stroke-width="23.0"/><path d="M780.0,1360.0L755.0,1345.0" stroke="#a0a0cc" stroke-width="15.299999999999999"/><path d="M755.0,1345.0L730.0,1330.0" stroke="#b0cccc" stroke-width="15.299999999999999"/><path d="M730.0,1330.0L760.0,1290.0" stroke="#b0cccc" stroke-width="15.299999999999999"/><path d="M760.0,1290.0L790.0,1250.0" stroke="#c8c8c8" stroke-width="15.299999999999999"/><path d="M730.0,1330.0L715.0,1375.0" stroke="#b0cccc" stroke-width="15.299999999999999"/><path d="M715.0,1375.0L700.0,1420.0" stroke="#c8c8c8" stroke-width="15.299999999999999"/><path d="M780.0,1360.0L820.0,1355.0" stroke="#a0a0cc" stroke-width="15.299999999999999"/><path d="M820.0,1355.0L860.0,1350.0" stroke="#c8c8c8" stroke-width="15.299999999999999"/><path d="M1000.0,1100.0L1025.0,1080.0" stroke="#a0a0cc" stroke-width="15.299999999999999"/><path d="M1025.0,1080.0L1050.0,1060.0" stroke="#b0cccc" stroke-width="15.299999999999999"/><path d="M1000.0,1100.0L1000.0,1150.0" stroke="#a0a0cc" stroke-width="15.299999999999999"/><path d="M1000.0,1150.0L1000.0,1200.0" stroke="#c8c8c8" stroke-width="15.299999999999999"/><path d="M1000.0,1100.0L970.0,1090.0" stroke="#a0a0cc" stroke-width="15.299999999999999"/><path d="M970.0,1090.0L940.0,1080.0" stroke="#c8c8c8" stroke-width="15.299999999999999"/><path d="M1050.0,1060.0L1115.0,1040.0" stroke="#b0cccc" stroke-width="15.299999999999999"/><path d="M1115.0,1040.0L1180.0,1020.0" stroke="#c8c8c8" stroke-width="15.299999999999999"/><path d="M560.0,1470.0L540.0,1445.0" stroke="#a0a0cc" stroke-width="15.299999999999999"/><path d="M540.0,1445.0L520.0,1420.0" stroke="#b0cccc" stroke-width="15.299999999999999"/><path d="M520.0,1420.0L510.0,1440.0" stroke="#b0cccc" stroke-width="15.299999999999999"/><path d="M510.0,1440.0L500.0,1460.0" stroke="#c8c8c8" stroke-width="15.299999999999999"/><path d="M560.0,1470.0L580.0,1495.0" stroke="#a0a0cc" stroke-width="15.299999999999999"/><path d="M580.0,1495.0L600.0,1520.0" stroke="#c8c8c8" stroke-width="15.299999999999999"/><path d="M520.0,1420.0L540.0,1390.0" stroke="#b0cccc" stroke-width="15.299999999999999"/><path d="M540.0,1390.0L560.0,1360.0" stroke="#c8c8c8" stroke-width="15.299999999999999"/><circle cx="566.5" cy="115.4" r="13.0" fill="url(#gh)"/><circle cx="467.3" cy="36.4" r="13.0" fill="url(#gh)"/><circle cx="545.0" cy="35.0" r="23.0" fill="url(#go)"/><circle cx="730.3" cy="96.2" r="13.0" fill="url(#gh)"/><circle cx="635.3" cy="161.7" r="13.0" fill="url(#gh)"/><circle cx="660.0" cy="90.0" r="23.0" fill="url(#go)"/><circle cx="378.5" cy="216.0" r="13.0" fill="url(#gh)"/><circle cx="424.8" cy="101.0" r="13.0" fill="url(#gh)"/><circle cx="450.0" cy="165.0" r="23.0" fill="url(#go)"/><circle cx="543.3" cy="134.8" r="13.0" fill="url(#gh)"/><circle cx="680.4" cy="129.7" r="13.0" fill="url(#gh)"/><circle cx="600.0" cy="185.0" r="23.0" fill="url(#go)"/><circle cx="129.1" cy="69.2" r="13.0" fill="url(#gh)"/><circle cx="76.9" cy="196.1" r="13.0" fill="url(#gh)"/><circle cx="60.0" cy="100.0" r="23.0" fill="url(#go)"/><circle cx="343.8" cy="125.8" r="13.0" fill="url(#gh)"/><circle cx="227.0" cy="213.8" r="13.0" fill="url(#gh)"/><circle cx="250.0" cy="125.0" r="23.0" fill="url(#go)"/><circle cx="257.4" cy="290.5" r="13.0" fill="url(#gh)"/><circle cx="152.8" cy="263.5" r="13.0" fill="url(#gh)"/><circle cx="210.0" cy="235.0" r="23.0" fill="url(#go)"/><circle cx="328.2" cy="317.9" r="13.0" fill="url(#gh)"/><circle cx="234.0" cy="274.0" r="13.0" fill="url(#gh)"/><circle cx="300.0" cy="260.0" r="23.0" fill="url(#go)"/><circle cx="158.0" cy="255.9" r="13.0" fill="url(#gh)"/><circle cx="169.1" cy="380.5" r="13.0" fill="url(#gh)"/><circle cx="115.0" cy="310.0" r="23.0" fill="url(#go)"/><circle cx="155.6" cy="441.1" r="13.0" fill="url(#gh)"/><circle cx="95.0" cy="313.9" r="13.0" fill="url(#gh)"/><circle cx="170.0" cy="345.0" r="23.0" fill="url(#go)"/><circle cx="365.1" cy="212.3" r="13.0" fill="url(#gh)"/><circle cx="464.2" cy="274.5" r="13.0" fill="url(#gh)"/><circle cx="410.0" cy="290.0" r="23.0" fill="url(#go)"/><circle cx="586.7" cy="299.2" r="13.0" fill="url(#gh)"/><circle cx="668.3" cy="267.0" r="13.0" fill="url(#gh)"/><circle cx="640.0" cy="315.0" r="23.0" fill="url(#go)"/><circle cx="728.1" cy="341.8" r="13.0" fill="url(#gh)"/><circle cx="635.5" cy="253.4" r="13.0" fill="url(#gh)"/><circle cx="700.0" cy="250.0" r="23.0" fill="url(#go)"/><circle cx="700.2" cy="246.1" r="13.0" fill="url(#gh)"/><circle cx="794.1" cy="209.3" r="13.0" fill="url(#gh)"/><circle cx="760.0" cy="265.0" r="23.0" fill="url(#go)"/><circle cx="947.5" cy="270.9" r="13.0" fill="url(#gh)"/><circle cx="846.3" cy="314.8" r="13.0" fill="url(#gh)"/><circle cx="890.0" cy="250.0" r="23.0" fill="url(#go)"/><circle cx="1137.6" cy="226.7" r="13.0" fill="url(#gh)"/><circle cx="1149.1" cy="132.5" r="13.0" fill="url(#gh)"/><circle cx="1180.0" cy="185.0" r="23.0" fill="url(#go)"/><circle cx="1222.2" cy="264.8" r="13.0" fill="url(#gh)"/><circle cx="1108.1" cy="331.5" r="13.0" fill="url(#gh)"/><circle cx="1130.0" cy="260.0" r="23.0" fill="url(#go)"/><circle cx="849.1" cy="423.0" r="13.0" fill="url(#gh)"/><circle cx="945.9" cy="301.9" r="13.0" fill="url(#gh)"/><circle cx="945.0" cy="400.0" r="23.0" fill="url(#go)"/><circle cx="856.0" cy="259.5" r="13.0" fill="url(#gh)"/><circle cx="987.6" cy="262.4" r="13.0" fill="url(#gh)"/><circle cx="940.0" cy="310.0" r="23.0" fill="url(#go)"/><circle cx="752.0" cy="391.3" r="13.0" fill="url(#gh)"/><circle cx="656.0" cy="479.5" r="13.0" fill="url(#gh)"/><circle cx="680.0" cy="390.0" r="23.0" fill="url(#go)"/><circle cx="529.3" cy="474.2" r="13.0" fill="url(#gh)"/><circle cx="558.4" cy="380.7" r="13.0" fill="url(#gh)"/><circle cx="580.0" cy="440.0" r="23.0" fill="url(#go)"/><circle cx="102.3" cy="353.1" r="13.0" fill="url(#gh)"/><circle cx="61.4" cy="491.3" r="13.0" fill="url(#gh)"/><circle cx="30.0" cy="400.0" r="23.0" fill="url(#go)"/><circle cx="139.9" cy="477.0" r="13.0" fill="url(#gh)"/><circle cx="33.4" cy="514.5" r="13.0" fill="url(#gh)"/><circle cx="60.0" cy="460.0" r="23.0" fill="url(#go)"/><circle cx="22.7" cy="588.9" r="13.0" fill="url(#gh)"/><circle cx="74.8" cy="496.9" r="13.0" fill="url(#gh)"/><circle cx="90.0" cy="550.0" r="23.0" fill="url(#go)"/><circle cx="214.2" cy="616.6" r="13.0" fill="url(#gh)"/><circle cx="97.7" cy="636.1" r="13.0" fill="url(#gh)"/><circle cx="160.0" cy="580.0" r="23.0" fill="url(#go)"/><circle cx="92.8" cy="677.2" r="13.0" fill="url(#gh)"/><circle cx="121.5" cy="557.1" r="13.0" fill="url(#gh)"/><circle cx="150.0" cy="640.0" r="23.0" fill="url(#go)"/><circle cx="-61.1" cy="704.8" r="13.0" fill="url(#gh)"/><circle cx="46.8" cy="613.3" r="13.0" fill="url(#gh)"/><circle cx="30.0" cy="700.0" r="23.0" fill="url(#go)"/><circle cx="-7.1" cy="764.4" r="13.0" fill="url(#gh)"/><circle cx="52.0" cy="663.6" r="13.0" fill="url(#gh)"/><circle cx="60.0" cy="740.0" r="23.0" fill="url(#go)"/><circle cx="235.0" cy="617.6" r="13.0" fill="url(#gh)"/><circle cx="231.3" cy="497.7" r="13.0" fill="url(#gh)"/><circle cx="280.0" cy="560.0" r="23.0" fill="url(#go)"/><circle cx="338.7" cy="616.5" r="13.0" fill="url(#gh)"/><circle cx="284.3" cy="717.0" r="13.0" fill="url(#gh)"/><circle cx="270.0" cy="650.0" r="23.0" fill="url(#go)"/><circle cx="84.0" cy="924.1" r="13.0" fill="url(#gh)"/><circle cx="38.4" cy="827.2" r="13.0" fill="url(#gh)"/><circle cx="100.0" cy="860.0" r="23.0" fill="url(#go)"/><circle cx="134.6" cy="896.8" r="13.0" fill="url(#gh)"/><circle cx="124.8" cy="997.9" r="13.0" fill="url(#gh)"/><circle cx="90.0" cy="950.0" r="23.0" fill="url(#go)"/><circle cx="137.1" cy="884.4" r="13.0" fill="url(#gh)"/><circle cx="214.0" cy="800.4" r="13.0" fill="url(#gh)"/><circle cx="200.0" cy="880.0" r="23.0" fill="url(#go)"/><circle cx="176.6" cy="898.9" r="13.0" fill="url(#gh)"/><circle cx="262.2" cy="842.3" r="13.0" fill="url(#gh)"/><circle cx="240.0" cy="905.0" r="23.0" fill="url(#go)"/><circle cx="153.3" cy="1012.9" r="13.0" fill="url(#gh)"/><circle cx="168.7" cy="885.5" r="13.0" fill="url(#gh)"/><circle cx="210.0" cy="960.0" r="23.0" fill="url(#go)"/><circle cx="289.2" cy="958.8" r="13.0" fill="url(#gh)"/><circle cx="379.3" cy="1025.5" r="13.0" fill="url(#gh)"/><circle cx="300.0" cy="1020.0" r="23.0" fill="url(#go)"/><circle cx="-51.6" cy="1007.0" r="13.0" fill="url(#gh)"/><circle cx="100.5" cy="994.3" r="13.0" fill="url(#gh)"/><circle cx="30.0" cy="1060.0" r="23.0" fill="url(#go)"/><circle cx="40.7" cy="1029.3" r="13.0" fill="url(#gh)"/><circle cx="120.3" cy="1122.1" r="13.0" fill="url(#gh)"/><circle cx="60.0" cy="1120.0" r="23.0" fill="url(#go)"/><circle cx="171.7" cy="1191.4" r="13.0" fill="url(#gh)"/><circle cx="61.4" cy="1215.9" r="13.0" fill="url(#gh)"/><circle cx="110.0" cy="1160.0" r="23.0" fill="url(#go)"/><circle cx="43.4" cy="1239.0" r="13.0" fill="url(#gh)"/><circle cx="107.7" cy="1142.3" r="13.0" fill="url(#gh)"/><circle cx="100.0" cy="1230.0" r="23.0" fill="url(#go)"/><circle cx="202.9" cy="1283.4" r="13.0" fill="url(#gh)"/><circle cx="109.1" cy="1180.7" r="13.0" fill="url(#gh)"/><circle cx="200.0" cy="1200.0" r="23.0" fill="url(#go)"/><circle cx="377.0" cy="1205.8" r="13.0" fill="url(#gh)"/><circle cx="334.8" cy="1323.2" r="13.0" fill="url(#gh)"/><circle cx="320.0" cy="1230.0" r="23.0" fill="url(#go)"/><circle cx="357.6" cy="1382.4" r="13.0" fill="url(#gh)"/><circle cx="272.0" cy="1299.0" r="13.0" fill="url(#gh)"/><circle cx="350.0" cy="1310.0" r="23.0" fill="url(#go)"/><circle cx="286.6" cy="1451.7" r="13.0" fill="url(#gh)"/><circle cx="175.1" cy="1378.3" r="13.0" fill="url(#gh)"/><circle cx="270.0" cy="1380.0" r="23.0" fill="url(#go)"/><circle cx="40.5" cy="1349.9" r="13.0" fill="url(#gh)"/><circle cx="87.0" cy="1212.2" r="13.0" fill="url(#gh)"/><circle cx="120.0" cy="1290.0" r="23.0" fill="url(#go)"/><circle cx="1034.4" cy="608.8" r="13.0" fill="url(#gh)"/><circle cx="980.7" cy="727.3" r="13.0" fill="url(#gh)"/><circle cx="960.0" cy="650.0" r="23.0" fill="url(#go)"/><circle cx="978.9" cy="686.1" r="13.0" fill="url(#gh)"/><circle cx="1010.2" cy="574.1" r="13.0" fill="url(#gh)"/><circle cx="1030.0" cy="660.0" r="23.0" fill="url(#go)"/><circle cx="862.0" cy="705.0" r="13.0" fill="url(#gh)"/><circle cx="779.1" cy="772.0" r="13.0" fill="url(#gh)"/><circle cx="790.0" cy="710.0" r="23.0" fill="url(#go)"/><circle cx="1166.0" cy="560.8" r="13.0" fill="url(#gh)"/><circle cx="1060.6" cy="463.7" r="13.0" fill="url(#gh)"/><circle cx="1150.0" cy="470.0" r="23.0" fill="url(#go)"/><circle cx="1125.3" cy="808.9" r="13.0" fill="url(#gh)"/><circle cx="1249.0" cy="756.7" r="13.0" fill="url(#gh)"/><circle cx="1210.0" cy="830.0" r="23.0" fill="url(#go)"/><circle cx="1139.8" cy="880.8" r="13.0" fill="url(#gh)"/><circle cx="1223.8" cy="927.6" r="13.0" fill="url(#gh)"/><circle cx="1170.0" cy="940.0" r="23.0" fill="url(#go)"/><circle cx="894.1" cy="1079.3" r="13.0" fill="url(#gh)"/><circle cx="823.0" cy="985.0" r="13.0" fill="url(#gh)"/><circle cx="880.0" cy="990.0" r="23.0" fill="url(#go)"/><circle cx="914.5" cy="925.6" r="13.0" fill="url(#gh)"/><circle cx="823.0" cy="998.4" r="13.0" fill="url(#gh)"/><circle cx="850.0" cy="920.0" r="23.0" fill="url(#go)"/><circle cx="907.6" cy="1014.9" r="13.0" fill="url(#gh)"/><circle cx="1004.2" cy="945.4" r="13.0" fill="url(#gh)"/><circle cx="980.0" cy="1020.0" r="23.0" fill="url(#go)"/><circle cx="1095.7" cy="1158.0" r="13.0" fill="url(#gh)"/><circle cx="962.6" cy="1128.9" r="13.0" fill="url(#gh)"/><circle cx="1030.0" cy="1090.0" r="23.0" fill="url(#go)"/><circle cx="1105.6" cy="1041.8" r="13.0" fill="url(#gh)"/><circle cx="1153.8" cy="1167.1" r="13.0" fill="url(#gh)"/><circle cx="1090.0" cy="1140.0" r="23.0" fill="url(#go)"/><circle cx="1060.7" cy="1195.3" r="13.0" fill="url(#gh)"/><circle cx="1170.7" cy="1132.2" r="13.0" fill="url(#gh)"/><circle cx="1150.0" cy="1200.0" r="23.0" fill="url(#go)"/><circle cx="1161.9" cy="1218.5" r="13.0" fill="url(#gh)"/><circle cx="1113.3" cy="1307.8" r="13.0" fill="url(#gh)"/><circle cx="1100.0" cy="1250.0" r="23.0" fill="url(#go)"/><circle cx="837.4" cy="1163.7" r="13.0" fill="url(#gh)"/><circle cx="921.3" cy="1047.3" r="13.0" fill="url(#gh)"/><circle cx="930.0" cy="1130.0" r="23.0" fill="url(#go)"/><circle cx="1251.0" cy="1121.0" r="13.0" fill="url(#gh)"/><circle cx="1127.3" cy="1134.6" r="13.0" fill="url(#gh)"/><circle cx="1180.0" cy="1080.0" r="23.0" fill="url(#go)"/><circle cx="830.2" cy="932.3" r="13.0" fill="url(#gh)"/><circle cx="808.4" cy="1083.8" r="13.0" fill="url(#gh)"/><circle cx="760.0" cy="1000.0" r="23.0" fill="url(#go)"/><circle cx="491.4" cy="1127.5" r="13.0" fill="url(#gh)"/><circle cx="398.6" cy="1178.7" r="13.0" fill="url(#gh)"/><circle cx="420.0" cy="1120.0" r="23.0" fill="url(#go)"/><circle cx="454.9" cy="1122.5" r="13.0" fill="url(#gh)"/><circle cx="541.9" cy="1203.8" r="13.0" fill="url(#gh)"/><circle cx="470.0" cy="1200.0" r="23.0" fill="url(#go)"/><circle cx="718.3" cy="1313.8" r="13.0" fill="url(#gh)"/><circle cx="610.4" cy="1366.4" r="13.0" fill="url(#gh)"/><circle cx="640.0" cy="1300.0" r="23.0" fill="url(#go)"/><circle cx="908.7" cy="1372.7" r="13.0" fill="url(#gh)"/><circle cx="851.6" cy="1490.8" r="13.0" fill="url(#gh)"/><circle cx="830.0" cy="1420.0" r="23.0" fill="url(#go)"/><circle cx="937.1" cy="1342.3" r="13.0" fill="url(#gh)"/><circle cx="1013.2" cy="1432.0" r="13.0" fill="url(#gh)"/><circle cx="930.0" cy="1400.0" r="23.0" fill="url(#go)"/><circle cx="1018.7" cy="1266.3" r="13.0" fill="url(#gh)"/><circle cx="1137.4" cy="1326.2" r="13.0" fill="url(#gh)"/><circle cx="1050.0" cy="1340.0" r="23.0" fill="url(#go)"/><circle cx="816.1" cy="1476.9" r="13.0" fill="url(#gh)"/><circle cx="692.9" cy="1521.0" r="13.0" fill="url(#gh)"/><circle cx="720.0" cy="1460.0" r="23.0" fill="url(#go)"/><circle cx="630.2" cy="1460.3" r="13.0" fill="url(#gh)"/><circle cx="514.0" cy="1436.3" r="13.0" fill="url(#gh)"/><circle cx="600.0" cy="1410.0" r="23.0" fill="url(#go)"/><circle cx="259.4" cy="1388.8" r="13.0" fill="url(#gh)"/><circle cx="398.3" cy="1462.7" r="13.0" fill="url(#gh)"/><circle cx="300.0" cy="1480.0" r="23.0" fill="url(#go)"/><circle cx="1019.8" cy="1396.1" r="13.0" fill="url(#gh)"/><circle cx="1060.0" cy="1503.3" r="13.0" fill="url(#gh)"/><circle cx="1000.0" cy="1470.0" r="23.0" fill="url(#go)"/><circle cx="596.7" cy="592.1" r="13.0" fill="url(#gh)"/><circle cx="537.7" cy="694.5" r="13.0" fill="url(#gh)"/><circle cx="520.0" cy="640.0" r="23.0" fill="url(#go)"/><circle cx="496.7" cy="652.9" r="13.0" fill="url(#gh)"/><circle cx="558.4" cy="761.7" r="13.0" fill="url(#gh)"/><circle cx="480.0" cy="720.0" r="23.0" fill="url(#go)"/><circle cx="886.5" cy="896.7" r="13.0" fill="url(#gh)"/><circle cx="766.7" cy="919.0" r="13.0" fill="url(#gh)"/><circle cx="830.0" cy="860.0" r="23.0" fill="url(#go)"/><circle cx="1248.1" cy="1317.7" r="13.0" fill="url(#gh)"/><circle cx="1233.7" cy="1447.3" r="13.0" fill="url(#gh)"/><circle cx="1190.0" cy="1380.0" r="23.0" fill="url(#go)"/><circle cx="81.1" cy="1482.1" r="13.0" fill="url(#gh)"/><circle cx="2.6" cy="1540.7" r="13.0" fill="url(#gh)"/><circle cx="20.0" cy="1480.0" r="23.0" fill="url(#go)"/><circle cx="1185.0" cy="690.0" r="25.5" fill="url(#gi)"/><circle cx="455.0" cy="1415.0" r="25.5" fill="url(#gi)"/><circle cx="985.0" cy="520.0" r="24.0" fill="url(#gi)"/><circle cx="905.0" cy="1490.0" r="25.5" fill="url(#gi)"/><circle cx="1080.0" cy="1500.0" r="25.5" fill="url(#gi)"/><circle cx="790.0" cy="1250.0" r="16.15" fill="url(#gh)"/><circle cx="700.0" cy="1420.0" r="16.15" fill="url(#gh)"/><circle cx="860.0" cy="1350.0" r="16.15" fill="url(#gh)"/><circle cx="780.0" cy="1360.0" r="20.4" fill="url(#gn)"/><circle cx="730.0" cy="1330.0" r="18.7" fill="url(#gc)"/><circle cx="1000.0" cy="1200.0" r="16.15" fill="url(#gh)"/><circle cx="940.0" cy="1080.0" r="16.15" fill="url(#gh)"/><circle cx="1180.0" cy="1020.0" r="16.15" fill="url(#gh)"/><circle cx="1000.0" cy="1100.0" r="20.4" fill="url(#gn)"/><circle cx="1050.0" cy="1060.0" r="18.7" fill="url(#gc)"/><circle cx="500.0" cy="1460.0" r="16.15" fill="url(#gh)"/><circle cx="600.0" cy="1520.0" r="16.15" fill="url(#gh)"/><circle cx="560.0" cy="1360.0" r="16.15" fill="url(#gh)"/><circle cx="560.0" cy="1470.0" r="20.4" fill="url(#gn)"/><circle cx="520.0" cy="1420.0" r="18.7" fill="url(#gc)"/><circle cx="430.0" cy="1340.0" r="6.0" fill="url(#gx)"/><circle cx="65.0" cy="200.0" r="10.0" fill="url(#gh)"/><circle cx="130.0" cy="30.0" r="12.0" fill="url(#gh)"/><path d="M600.0,805.0L497.5,815.0" stroke="#189c9c" stroke-width="20"/><path d="M497.5,815.0L395.0,825.0" stroke="#9a0a8a" stroke-width="20"/><path d="M600.0,805.0L530.0,655.0" stroke="#189c9c" stroke-width="20"/><path d="M530.0,655.0L460.0,505.0" stroke="#d40000" stroke-width="20"/><path d="M600.0,805.0L660.0,697.5" stroke="#189c9c" stroke-width="20"/><path d="M660.0,697.5L720.0,590.0" stroke="#d40000" stroke-width="20"/><path d="M600.0,805.0L772.5,797.5" stroke="#189c9c" stroke-width="20"/><path d="M772.5,797.5L945.0,790.0" stroke="#d40000" stroke-width="20"/><path d="M600.0,805.0L572.5,910.0" stroke="#189c9c" stroke-width="20"/><path d="M572.5,910.0L545.0,1015.0" stroke="#d40000" stroke-width="20"/><path d="M600.0,805.0L667.5,940.0" stroke="#189c9c" stroke-width="20"/><path d="M667.5,940.0L735.0,1075.0" stroke="#d40000" stroke-width="20"/><path d="M460.0,505.0L462.5,455.0" stroke="#d40000" stroke-width="20"/><path d="M462.5,455.0L465.0,405.0" stroke="#e8e000" stroke-width="20"/><path d="M460.0,505.0L412.5,500.0" stroke="#d40000" stroke-width="20"/><path d="M412.5,500.0L365.0,495.0" stroke="#e8e000" stroke-width="20"/><path d="M720.0,590.0L695.0,547.5" stroke="#d40000" stroke-width="20"/><path d="M695.0,547.5L670.0,505.0" stroke="#e8e000" stroke-width="20"/><path d="M720.0,590.0L670.0,600.0" stroke="#d40000" stroke-width="20"/><path d="M670.0,600.0L620.0,610.0" stroke="#e8e000" stroke-width="20"/><path d="M945.0,790.0L927.5,755.0" stroke="#d40000" stroke-width="20"/><path d="M927.5,755.0L910.0,720.0" stroke="#e8e000" stroke-width="20"/><path d="M945.0,790.0L947.5,847.5" stroke="#d40000" stroke-width="20"/><path d="M947.5,847.5L950.0,905.0" stroke="#e8e000" stroke-width="20"/><path d="M545.0,1015.0L592.5,980.0" stroke="#d40000" stroke-width="20"/><path d="M592.5,980.0L640.0,945.0" stroke="#e8e000" stroke-width="20"/><path d="M545.0,1015.0L555.0,1067.5" stroke="#d40000" stroke-width="20"/><path d="M555.0,1067.5L565.0,1120.0" stroke="#e8e000" stroke-width="20"/><path d="M735.0,1075.0L772.5,1075.0" stroke="#d40000" stroke-width="20"/><path d="M772.5,1075.0L810.0,1075.0" stroke="#e8e000" stroke-width="20"/><path d="M735.0,1075.0L707.5,1135.0" stroke="#d40000" stroke-width="20"/><path d="M707.5,1135.0L680.0,1195.0" stroke="#e8e000" stroke-width="20"/><circle cx="465.0" cy="405.0" r="30.0" fill="url(#gH)"/><circle cx="365.0" cy="495.0" r="30.0" fill="url(#gH)"/><circle cx="670.0" cy="505.0" r="30.0" fill="url(#gH)"/><circle cx="620.0" cy="610.0" r="30.0" fill="url(#gH)"/><circle cx="460.0" cy="505.0" r="42.0" fill="url(#gO)"/><circle cx="720.0" cy="590.0" r="42.0" fill="url(#gO)"/><circle cx="910.0" cy="720.0" r="30.0" fill="url(#gH)"/><circle cx="945.0" cy="790.0" r="42.0" fill="url(#gO)"/><circle cx="950.0" cy="905.0" r="30.0" fill="url(#gH)"/><circle cx="395.0" cy="825.0" r="52.0" fill="url(#gI)"/><circle cx="600.0" cy="805.0" r="55.0" fill="url(#gPb)"/><circle cx="640.0" cy="945.0" r="30.0" fill="url(#gH)"/><circle cx="545.0" cy="1015.0" r="42.0" fill="url(#gO)"/><circle cx="565.0" cy="1120.0" r="30.0" fill="url(#gH)"/><circle cx="810.0" cy="1075.0" r="30.0" fill="url(#gH)"/><circle cx="735.0" cy="1075.0" r="42.0" fill="url(#gO)"/><circle cx="680.0" cy="1195.0" r="30.0" fill="url(#gH)"/></g></g></g>
<rect x="833.5" y="36" width="328.5" height="411" fill="none" stroke="#2a2a2a" stroke-width="2.4"/>
<rect x="1051.4" y="49.4" width="92.2" height="43.7" fill="#ffff00" stroke="#111" stroke-width="2.8"/>
<text x="1097.5" y="81.5" class="ps" text-anchor="middle">6.0 ps</text>
<clipPath id="cp3"><rect x="132" y="513.5" width="334" height="411.5"/></clipPath>
<g clip-path="url(#cp3)"><g filter="url(#blur)"><g transform="translate(132,513) scale(0.27310)" stroke-linecap="round"><path d="M0.0,1375.0L25.0,1367.5" stroke="#c08ab8" stroke-width="18.0"/><path d="M25.0,1367.5L50.0,1360.0" stroke="#98d4d2" stroke-width="18.0"/><path d="M50.0,1360.0L210.0,1370.0" stroke="#98d4d2" stroke-width="18.0"/><path d="M210.0,1370.0L370.0,1380.0" stroke="#c08ab8" stroke-width="18.0"/><path d="M370.0,1380.0L530.0,1382.5" stroke="#c08ab8" stroke-width="18.0"/><path d="M530.0,1382.5L690.0,1385.0" stroke="#98d4d2" stroke-width="18.0"/><path d="M690.0,1385.0L845.0,1397.5" stroke="#98d4d2" stroke-width="18.0"/><path d="M845.0,1397.5L1000.0,1410.0" stroke="#c08ab8" stroke-width="18.0"/><path d="M1000.0,1410.0L1111.5,1415.0" stroke="#c08ab8" stroke-width="18.0"/><path d="M1111.5,1415.0L1223.0,1420.0" stroke="#c08ab8" stroke-width="18.0"/><path d="M0.0,1435.0L150.0,1442.5" stroke="#c08ab8" stroke-width="18.0"/><path d="M150.0,1442.5L300.0,1450.0" stroke="#c08ab8" stroke-width="18.0"/><path d="M300.0,1450.0L452.5,1447.5" stroke="#c08ab8" stroke-width="18.0"/><path d="M452.5,1447.5L605.0,1445.0" stroke="#98d4d2" stroke-width="18.0"/><path d="M605.0,1445.0L757.5,1462.5" stroke="#98d4d2" stroke-width="18.0"/><path d="M757.5,1462.5L910.0,1480.0" stroke="#c08ab8" stroke-width="18.0"/><path d="M910.0,1480.0L1066.5,1482.5" stroke="#c08ab8" stroke-width="18.0"/><path d="M1066.5,1482.5L1223.0,1485.0" stroke="#c08ab8" stroke-width="18.0"/><path d="M80.0,1040.0L65.0,1200.0" stroke="#c08ab8" stroke-width="18.0"/><path d="M65.0,1200.0L50.0,1360.0" stroke="#98d4d2" stroke-width="18.0"/><path d="M50.0,1360.0L45.0,1434.5" stroke="#98d4d2" stroke-width="18.0"/><path d="M45.0,1434.5L40.0,1509.0" stroke="#c08ab8" stroke-width="18.0"/><path d="M495.0,1200.0L507.5,1345.0" stroke="#c08ab8" stroke-width="18.0"/><path d="M507.5,1345.0L520.0,1490.0" stroke="#98d4d2" stroke-width="18.0"/><path d="M520.0,1490.0L520.0,1499.5" stroke="#98d4d2" stroke-width="18.0"/><path d="M520.0,1499.5L520.0,1509.0" stroke="#c08ab8" stroke-width="18.0"/><path d="M655.0,1055.0L672.5,1220.0" stroke="#c08ab8" stroke-width="18.0"/><path d="M672.5,1220.0L690.0,1385.0" stroke="#98d4d2" stroke-width="18.0"/><path d="M690.0,1385.0L695.0,1447.0" stroke="#98d4d2" stroke-width="18.0"/><path d="M695.0,1447.0L700.0,1509.0" stroke="#c08ab8" stroke-width="18.0"/><path d="M615.0,1135.0L610.0,1290.0" stroke="#c08ab8" stroke-width="18.0"/><path d="M610.0,1290.0L605.0,1445.0" stroke="#98d4d2" stroke-width="18.0"/><path d="M605.0,1445.0L602.5,1477.0" stroke="#98d4d2" stroke-width="18.0"/><path d="M602.5,1477.0L600.0,1509.0" stroke="#c08ab8" stroke-width="18.0"/><path d="M1200.0,1160.0L1200.0,1300.0" stroke="#c08ab8" stroke-width="18.0"/><path d="M1200.0,1300.0L1200.0,1440.0" stroke="#c08ab8" stroke-width="18.0"/><path d="M1200.0,1440.0L1200.0,1474.5" stroke="#c08ab8" stroke-width="18.0"/><path d="M1200.0,1474.5L1200.0,1509.0" stroke="#c08ab8" stroke-width="18.0"/><path d="M155.0,1320.0L102.5,1340.0" stroke="#c08ab8" stroke-width="18.0"/><path d="M102.5,1340.0L50.0,1360.0" stroke="#98d4d2" stroke-width="18.0"/><path d="M0.0,770.0L32.5,770.0" stroke="#c08ab8" stroke-width="18.0"/><path d="M32.5,770.0L65.0,770.0" stroke="#c08ab8" stroke-width="18.0"/><path d="M340.0,1020.0L305.0,1070.0" stroke="#a0a0cc" stroke-width="18.0"/><path d="M305.0,1070.0L270.0,1120.0" stroke="#b0cccc" stroke-width="18.0"/><path d="M340.0,1020.0L295.0,1020.0" stroke="#a0a0cc" stroke-width="18.0"/><path d="M295.0,1020.0L250.0,1020.0" stroke="#c8c8c8" stroke-width="18.0"/><path d="M340.0,1020.0L335.0,980.0" stroke="#a0a0cc" stroke-width="18.0"/><path d="M335.0,980.0L330.0,940.0" stroke="#c8c8c8" stroke-width="18.0"/><path d="M340.0,1020.0L380.0,1045.0" stroke="#a0a0cc" stroke-width="18.0"/><path d="M380.0,1045.0L420.0,1070.0" stroke="#c8c8c8" stroke-width="18.0"/><path d="M270.0,1120.0L235.0,1130.0" stroke="#b0cccc" stroke-width="18.0"/><path d="M235.0,1130.0L200.0,1140.0" stroke="#c8c8c8" stroke-width="18.0"/><path d="M270.0,1120.0L285.0,1160.0" stroke="#b0cccc" stroke-width="18.0"/><path d="M285.0,1160.0L300.0,1200.0" stroke="#c8c8c8" stroke-width="18.0"/><path d="M340.0,1020.0L395.0,960.0" stroke="#a0a0cc" stroke-width="18.0"/><path d="M395.0,960.0L450.0,900.0" stroke="#c8c8c8" stroke-width="18.0"/><path d="M150.0,1180.0L190.0,1205.0" stroke="#a0a0cc" stroke-width="18.0"/><path d="M190.0,1205.0L230.0,1230.0" stroke="#b0cccc" stroke-width="18.0"/><path d="M150.0,1180.0L115.0,1175.0" stroke="#a0a0cc" stroke-width="18.0"/><path d="M115.0,1175.0L80.0,1170.0" stroke="#c8c8c8" stroke-width="18.0"/><path d="M150.0,1180.0L155.0,1135.0" stroke="#a0a0cc" stroke-width="18.0"/><path d="M155.0,1135.0L160.0,1090.0" stroke="#c8c8c8" stroke-width="18.0"/><path d="M150.0,1180.0L140.0,1225.0" stroke="#a0a0cc" stroke-width="18.0"/><path d="M140.0,1225.0L130.0,1270.0" stroke="#c8c8c8" stroke-width="18.0"/><path d="M230.0,1230.0L250.0,1255.0" stroke="#b0cccc" stroke-width="18.0"/><path d="M250.0,1255.0L270.0,1280.0" stroke="#c8c8c8" stroke-width="18.0"/><path d="M230.0,1230.0L220.0,1275.0" stroke="#b0cccc" stroke-width="18.0"/><path d="M220.0,1275.0L210.0,1320.0" stroke="#c8c8c8" stroke-width="18.0"/><path d="M440.0,1000.0L410.0,1045.0" stroke="#a0a0cc" stroke-width="18.0"/><path d="M410.0,1045.0L380.0,1090.0" stroke="#b0cccc" stroke-width="18.0"/><path d="M440.0,1000.0L470.0,1010.0" stroke="#a0a0cc" stroke-width="18.0"/><path d="M470.0,1010.0L500.0,1020.0" stroke="#c8c8c8" stroke-width="18.0"/><path d="M440.0,1000.0L445.0,940.0" stroke="#a0a0cc" stroke-width="18.0"/><path d="M445.0,940.0L450.0,880.0" stroke="#c8c8c8" stroke-width="18.0"/><path d="M440.0,1000.0L470.0,1040.0" stroke="#a0a0cc" stroke-width="18.0"/><path d="M470.0,1040.0L500.0,1080.0" stroke="#c8c8c8" stroke-width="18.0"/><path d="M880.0,1120.0L940.0,1090.0" stroke="#a0a0cc" stroke-width="18.0"/><path d="M940.0,1090.0L1000.0,1060.0" stroke="#b0cccc" stroke-width="18.0"/><path d="M880.0,1120.0L840.0,1145.0" stroke="#a0a0cc" stroke-width="18.0"/><path d="M840.0,1145.0L800.0,1170.0" stroke="#c8c8c8" stroke-width="18.0"/><path d="M880.0,1120.0L880.0,1075.0" stroke="#a0a0cc" stroke-width="18.0"/><path d="M880.0,1075.0L880.0,1030.0" stroke="#c8c8c8" stroke-width="18.0"/><path d="M880.0,1120.0L920.0,1130.0" stroke="#a0a0cc" stroke-width="18.0"/><path d="M920.0,1130.0L960.0,1140.0" stroke="#c8c8c8" stroke-width="18.0"/><path d="M1000.0,1060.0L1005.0,1020.0" stroke="#b0cccc" stroke-width="18.0"/><path d="M1005.0,1020.0L1010.0,980.0" stroke="#c8c8c8" stroke-width="18.0"/><path d="M1000.0,1060.0L1055.0,1055.0" stroke="#b0cccc" stroke-width="18.0"/><path d="M1055.0,1055.0L1110.0,1050.0" stroke="#c8c8c8" stroke-width="18.0"/><path d="M950.0,1180.0L910.0,1185.0" stroke="#a0a0cc" stroke-width="18.0"/><path d="M910.0,1185.0L870.0,1190.0" stroke="#b0cccc" stroke-width="18.0"/><path d="M950.0,1180.0L995.0,1190.0" stroke="#a0a0cc" stroke-width="18.0"/><path d="M995.0,1190.0L1040.0,1200.0" stroke="#c8c8c8" stroke-width="18.0"/><path d="M950.0,1180.0L945.0,1225.0" stroke="#a0a0cc" stroke-width="18.0"/><path d="M945.0,1225.0L940.0,1270.0" stroke="#c8c8c8" stroke-width="18.0"/><path d="M870.0,1190.0L855.0,1255.0" stroke="#b0cccc" stroke-width="18.0"/><path d="M855.0,1255.0L840.0,1320.0" stroke="#c8c8c8" stroke-width="18.0"/><path d="M870.0,1190.0L825.0,1185.0" stroke="#b0cccc" stroke-width="18.0"/><path d="M825.0,1185.0L780.0,1180.0" stroke="#c8c8c8" stroke-width="18.0"/><path d="M950.0,1180.0L1000.0,1160.0" stroke="#a0a0cc" stroke-width="18.0"/><path d="M1000.0,1160.0L1050.0,1140.0" stroke="#c8c8c8" stroke-width="18.0"/><path d="M130.0,50.0L170.6,28.4" stroke="#e2a0a0" stroke-width="23.0"/><path d="M170.6,28.4L211.2,6.8" stroke="#c8c8c8" stroke-width="23.0"/><path d="M130.0,50.0L140.8,93.3" stroke="#e2a0a0" stroke-width="23.0"/><path d="M140.8,93.3L151.6,136.7" stroke="#c8c8c8" stroke-width="23.0"/><path d="M120.0,160.0L103.6,131.6" stroke="#e2a0a0" stroke-width="23.0"/><path d="M103.6,131.6L87.2,103.1" stroke="#c8c8c8" stroke-width="23.0"/><path d="M120.0,160.0L167.7,146.3" stroke="#e2a0a0" stroke-width="23.0"/><path d="M167.7,146.3L215.4,132.6" stroke="#c8c8c8" stroke-width="23.0"/><path d="M75.0,210.0L92.9,251.2" stroke="#e2a0a0" stroke-width="23.0"/><path d="M92.9,251.2L110.8,292.3" stroke="#c8c8c8" stroke-width="23.0"/><path d="M75.0,210.0L39.8,215.9" stroke="#e2a0a0" stroke-width="23.0"/><path d="M39.8,215.9L4.6,221.8" stroke="#c8c8c8" stroke-width="23.0"/><path d="M200.0,250.0L244.9,269.1" stroke="#e2a0a0" stroke-width="23.0"/><path d="M244.9,269.1L289.8,288.1" stroke="#c8c8c8" stroke-width="23.0"/><path d="M200.0,250.0L179.9,276.6" stroke="#e2a0a0" stroke-width="23.0"/><path d="M179.9,276.6L159.9,303.3" stroke="#c8c8c8" stroke-width="23.0"/><path d="M30.0,400.0L66.2,376.6" stroke="#e2a0a0" stroke-width="23.0"/><path d="M66.2,376.6L102.3,353.1" stroke="#c8c8c8" stroke-width="23.0"/><path d="M30.0,400.0L45.7,445.6" stroke="#e2a0a0" stroke-width="23.0"/><path d="M45.7,445.6L61.4,491.3" stroke="#c8c8c8" stroke-width="23.0"/><path d="M80.0,390.0L103.7,350.6" stroke="#e2a0a0" stroke-width="23.0"/><path d="M103.7,350.6L127.3,311.3" stroke="#c8c8c8" stroke-width="23.0"/><path d="M80.0,390.0L100.9,410.9" stroke="#e2a0a0" stroke-width="23.0"/><path d="M100.9,410.9L121.8,431.8" stroke="#c8c8c8" stroke-width="23.0"/><path d="M60.0,560.0L87.0,539.0" stroke="#e2a0a0" stroke-width="23.0"/><path d="M87.0,539.0L113.9,517.9" stroke="#c8c8c8" stroke-width="23.0"/><path d="M60.0,560.0L74.8,593.2" stroke="#e2a0a0" stroke-width="23.0"/><path d="M74.8,593.2L89.6,626.5" stroke="#c8c8c8" stroke-width="23.0"/><path d="M110.0,520.0L76.2,505.6" stroke="#e2a0a0" stroke-width="23.0"/><path d="M76.2,505.6L42.3,491.3" stroke="#c8c8c8" stroke-width="23.0"/><path d="M110.0,520.0L138.5,482.1" stroke="#e2a0a0" stroke-width="23.0"/><path d="M138.5,482.1L167.0,444.3" stroke="#c8c8c8" stroke-width="23.0"/><path d="M130.0,680.0L113.5,703.6" stroke="#e2a0a0" stroke-width="23.0"/><path d="M113.5,703.6L97.0,727.2" stroke="#c8c8c8" stroke-width="23.0"/><path d="M130.0,680.0L110.8,658.0" stroke="#e2a0a0" stroke-width="23.0"/><path d="M110.8,658.0L91.7,635.9" stroke="#c8c8c8" stroke-width="23.0"/><path d="M240.0,400.0L263.2,440.1" stroke="#e2a0a0" stroke-width="23.0"/><path d="M263.2,440.1L286.4,480.3" stroke="#c8c8c8" stroke-width="23.0"/><path d="M240.0,400.0L196.6,412.4" stroke="#e2a0a0" stroke-width="23.0"/><path d="M196.6,412.4L153.2,424.9" stroke="#c8c8c8" stroke-width="23.0"/><path d="M330.0,500.0L348.9,474.9" stroke="#e2a0a0" stroke-width="23.0"/><path d="M348.9,474.9L367.9,449.7" stroke="#c8c8c8" stroke-width="23.0"/><path d="M330.0,500.0L355.4,531.3" stroke="#e2a0a0" stroke-width="23.0"/><path d="M355.4,531.3L380.7,562.6" stroke="#c8c8c8" stroke-width="23.0"/><path d="M360.0,330.0L402.3,329.2" stroke="#e2a0a0" stroke-width="23.0"/><path d="M402.3,329.2L444.6,328.5" stroke="#c8c8c8" stroke-width="23.0"/><path d="M360.0,330.0L351.1,368.7" stroke="#e2a0a0" stroke-width="23.0"/><path d="M351.1,368.7L342.1,407.4" stroke="#c8c8c8" stroke-width="23.0"/><path d="M400.0,120.0L436.9,120.0" stroke="#e2a0a0" stroke-width="23.0"/><path d="M436.9,120.0L473.7,120.0" stroke="#c8c8c8" stroke-width="23.0"/><path d="M400.0,120.0L388.5,166.1" stroke="#e2a0a0" stroke-width="23.0"/><path d="M388.5,166.1L377.0,212.1" stroke="#c8c8c8" stroke-width="23.0"/><path d="M470.0,110.0L451.1,142.8" stroke="#e2a0a0" stroke-width="23.0"/><path d="M451.1,142.8L432.1,175.6" stroke="#c8c8c8" stroke-width="23.0"/><path d="M470.0,110.0L440.2,81.3" stroke="#e2a0a0" stroke-width="23.0"/><path d="M440.2,81.3L410.5,52.6" stroke="#c8c8c8" stroke-width="23.0"/><path d="M520.0,170.0L542.1,144.5" stroke="#e2a0a0" stroke-width="23.0"/><path d="M542.1,144.5L564.3,119.0" stroke="#c8c8c8" stroke-width="23.0"/><path d="M520.0,170.0L540.6,199.4" stroke="#e2a0a0" stroke-width="23.0"/><path d="M540.6,199.4L561.2,228.8" stroke="#c8c8c8" stroke-width="23.0"/><path d="M600.0,180.0L562.6,161.8" stroke="#e2a0a0" stroke-width="23.0"/><path d="M562.6,161.8L525.3,143.6" stroke="#c8c8c8" stroke-width="23.0"/><path d="M600.0,180.0L629.7,144.6" stroke="#e2a0a0" stroke-width="23.0"/><path d="M629.7,144.6L659.4,109.2" stroke="#c8c8c8" stroke-width="23.0"/><path d="M660.0,90.0L695.1,93.1" stroke="#e2a0a0" stroke-width="23.0"/><path d="M695.1,93.1L730.3,96.2" stroke="#c8c8c8" stroke-width="23.0"/><path d="M660.0,90.0L647.6,125.8" stroke="#e2a0a0" stroke-width="23.0"/><path d="M647.6,125.8L635.3,161.7" stroke="#c8c8c8" stroke-width="23.0"/><path d="M560.0,80.0L583.8,62.8" stroke="#e2a0a0" stroke-width="23.0"/><path d="M583.8,62.8L607.5,45.5" stroke="#c8c8c8" stroke-width="23.0"/><path d="M560.0,80.0L574.0,114.8" stroke="#e2a0a0" stroke-width="23.0"/><path d="M574.0,114.8L588.1,149.6" stroke="#c8c8c8" stroke-width="23.0"/><path d="M400.0,220.0L419.4,196.8" stroke="#e2a0a0" stroke-width="23.0"/><path d="M419.4,196.8L438.8,173.7" stroke="#c8c8c8" stroke-width="23.0"/><path d="M400.0,220.0L418.3,245.2" stroke="#e2a0a0" stroke-width="23.0"/><path d="M418.3,245.2L436.6,270.3" stroke="#c8c8c8" stroke-width="23.0"/><path d="M480.0,350.0L448.9,326.6" stroke="#e2a0a0" stroke-width="23.0"/><path d="M448.9,326.6L417.8,303.1" stroke="#c8c8c8" stroke-width="23.0"/><path d="M480.0,350.0L507.4,327.8" stroke="#e2a0a0" stroke-width="23.0"/><path d="M507.4,327.8L534.8,305.6" stroke="#c8c8c8" stroke-width="23.0"/><path d="M620.0,300.0L660.6,302.9" stroke="#e2a0a0" stroke-width="23.0"/><path d="M660.6,302.9L701.3,305.7" stroke="#c8c8c8" stroke-width="23.0"/><path d="M620.0,300.0L610.7,328.6" stroke="#e2a0a0" stroke-width="23.0"/><path d="M610.7,328.6L601.4,357.3" stroke="#c8c8c8" stroke-width="23.0"/><path d="M620.0,400.0L643.6,375.5" stroke="#e2a0a0" stroke-width="23.0"/><path d="M643.6,375.5L667.3,351.0" stroke="#c8c8c8" stroke-width="23.0"/><path d="M620.0,400.0L639.2,430.8" stroke="#e2a0a0" stroke-width="23.0"/><path d="M639.2,430.8L658.4,461.5" stroke="#c8c8c8" stroke-width="23.0"/><path d="M700.0,460.0L749.6,463.4" stroke="#e2a0a0" stroke-width="23.0"/><path d="M749.6,463.4L799.2,466.9" stroke="#c8c8c8" stroke-width="23.0"/><path d="M700.0,460.0L684.6,507.2" stroke="#e2a0a0" stroke-width="23.0"/><path d="M684.6,507.2L669.3,554.5" stroke="#c8c8c8" stroke-width="23.0"/><path d="M760.0,340.0L774.8,380.6" stroke="#e2a0a0" stroke-width="23.0"/><path d="M774.8,380.6L789.6,421.2" stroke="#c8c8c8" stroke-width="23.0"/><path d="M760.0,340.0L711.8,345.1" stroke="#e2a0a0" stroke-width="23.0"/><path d="M711.8,345.1L663.5,350.1" stroke="#c8c8c8" stroke-width="23.0"/><path d="M800.0,360.0L820.7,402.4" stroke="#e2a0a0" stroke-width="23.0"/><path d="M820.7,402.4L841.4,444.9" stroke="#c8c8c8" stroke-width="23.0"/><path d="M800.0,360.0L762.0,368.1" stroke="#e2a0a0" stroke-width="23.0"/><path d="M762.0,368.1L724.1,376.1" stroke="#c8c8c8" stroke-width="23.0"/><path d="M790.0,520.0L764.8,553.5" stroke="#e2a0a0" stroke-width="23.0"/><path d="M764.8,553.5L739.5,587.1" stroke="#c8c8c8" stroke-width="23.0"/><path d="M790.0,520.0L760.5,483.6" stroke="#e2a0a0" stroke-width="23.0"/><path d="M760.5,483.6L731.1,447.2" stroke="#c8c8c8" stroke-width="23.0"/><path d="M820.0,450.0L791.0,485.9" stroke="#e2a0a0" stroke-width="23.0"/><path d="M791.0,485.9L761.9,521.7" stroke="#c8c8c8" stroke-width="23.0"/><path d="M820.0,450.0L802.0,426.1" stroke="#e2a0a0" stroke-width="23.0"/><path d="M802.0,426.1L784.0,402.3" stroke="#c8c8c8" stroke-width="23.0"/><path d="M1020.0,250.0L1005.2,211.6" stroke="#e2a0a0" stroke-width="23.0"/><path d="M1005.2,211.6L990.5,173.1" stroke="#c8c8c8" stroke-width="23.0"/><path d="M1020.0,250.0L1050.5,246.2" stroke="#e2a0a0" stroke-width="23.0"/><path d="M1050.5,246.2L1081.0,242.5" stroke="#c8c8c8" stroke-width="23.0"/><path d="M1080.0,280.0L1098.0,311.1" stroke="#e2a0a0" stroke-width="23.0"/><path d="M1098.0,311.1L1115.9,342.2" stroke="#c8c8c8" stroke-width="23.0"/><path d="M1080.0,280.0L1042.8,290.7" stroke="#e2a0a0" stroke-width="23.0"/><path d="M1042.8,290.7L1005.5,301.4" stroke="#c8c8c8" stroke-width="23.0"/><path d="M950.0,380.0L918.0,405.9" stroke="#e2a0a0" stroke-width="23.0"/><path d="M918.0,405.9L886.0,431.8" stroke="#c8c8c8" stroke-width="23.0"/><path d="M950.0,380.0L937.0,352.1" stroke="#e2a0a0" stroke-width="23.0"/><path d="M937.0,352.1L924.0,324.3" stroke="#c8c8c8" stroke-width="23.0"/><path d="M1040.0,460.0L1074.0,437.0" stroke="#e2a0a0" stroke-width="23.0"/><path d="M1074.0,437.0L1108.1,414.0" stroke="#c8c8c8" stroke-width="23.0"/><path d="M1040.0,460.0L1053.0,495.9" stroke="#e2a0a0" stroke-width="23.0"/><path d="M1053.0,495.9L1066.1,531.7" stroke="#c8c8c8" stroke-width="23.0"/><path d="M1150.0,500.0L1104.0,505.6" stroke="#e2a0a0" stroke-width="23.0"/><path d="M1104.0,505.6L1058.0,511.3" stroke="#c8c8c8" stroke-width="23.0"/><path d="M1150.0,500.0L1154.6,462.6" stroke="#e2a0a0" stroke-width="23.0"/><path d="M1154.6,462.6L1159.2,425.3" stroke="#c8c8c8" stroke-width="23.0"/><path d="M1160.0,670.0L1179.2,695.5" stroke="#e2a0a0" stroke-width="23.0"/><path d="M1179.2,695.5L1198.4,720.9" stroke="#c8c8c8" stroke-width="23.0"/><path d="M1160.0,670.0L1122.4,686.0" stroke="#e2a0a0" stroke-width="23.0"/><path d="M1122.4,686.0L1084.8,701.9" stroke="#c8c8c8" stroke-width="23.0"/><path d="M430.0,720.0L436.1,681.4" stroke="#e2a0a0" stroke-width="23.0"/><path d="M436.1,681.4L442.2,642.7" stroke="#c8c8c8" stroke-width="23.0"/><path d="M430.0,720.0L462.7,733.9" stroke="#e2a0a0" stroke-width="23.0"/><path d="M462.7,733.9L495.4,747.8" stroke="#c8c8c8" stroke-width="23.0"/><path d="M560.0,910.0L601.9,922.8" stroke="#e2a0a0" stroke-width="23.0"/><path d="M601.9,922.8L643.8,935.6" stroke="#c8c8c8" stroke-width="23.0"/><path d="M560.0,910.0L542.4,939.4" stroke="#e2a0a0" stroke-width="23.0"/><path d="M542.4,939.4L524.7,968.8" stroke="#c8c8c8" stroke-width="23.0"/><path d="M250.0,620.0L246.6,659.6" stroke="#e2a0a0" stroke-width="23.0"/><path d="M246.6,659.6L243.1,699.3" stroke="#c8c8c8" stroke-width="23.0"/><path d="M250.0,620.0L222.7,610.6" stroke="#e2a0a0" stroke-width="23.0"/><path d="M222.7,610.6L195.4,601.2" stroke="#c8c8c8" stroke-width="23.0"/><path d="M870.0,250.0L851.0,223.8" stroke="#e2a0a0" stroke-width="23.0"/><path d="M851.0,223.8L831.9,197.6" stroke="#c8c8c8" stroke-width="23.0"/><path d="M870.0,250.0L915.5,231.6" stroke="#e2a0a0" stroke-width="23.0"/><path d="M915.5,231.6L961.0,213.2" stroke="#c8c8c8" stroke-width="23.0"/><path d="M770.0,130.0L735.6,108.5" stroke="#e2a0a0" stroke-width="23.0"/><path d="M735.6,108.5L701.2,87.0" stroke="#c8c8c8" stroke-width="23.0"/><path d="M770.0,130.0L796.9,104.0" stroke="#e2a0a0" stroke-width="23.0"/><path d="M796.9,104.0L823.8,78.0" stroke="#c8c8c8" stroke-width="23.0"/><path d="M230.0,40.0L259.1,6.6" stroke="#e2a0a0" stroke-width="23.0"/><path d="M259.1,6.6L288.1,-26.8" stroke="#c8c8c8" stroke-width="23.0"/><path d="M230.0,40.0L250.0,68.5" stroke="#e2a0a0" stroke-width="23.0"/><path d="M250.0,68.5L270.0,97.1" stroke="#c8c8c8" stroke-width="23.0"/><path d="M1200.0,120.0L1205.4,150.7" stroke="#e2a0a0" stroke-width="23.0"/><path d="M1205.4,150.7L1210.8,181.3" stroke="#c8c8c8" stroke-width="23.0"/><path d="M1200.0,120.0L1167.8,117.8" stroke="#e2a0a0" stroke-width="23.0"/><path d="M1167.8,117.8L1135.6,115.5" stroke="#c8c8c8" stroke-width="23.0"/><path d="M30.0,30.0L21.8,-16.8" stroke="#e2a0a0" stroke-width="23.0"/><path d="M21.8,-16.8L13.5,-63.6" stroke="#c8c8c8" stroke-width="23.0"/><path d="M30.0,30.0L69.0,32.8" stroke="#e2a0a0" stroke-width="23.0"/><path d="M69.0,32.8L108.1,35.5" stroke="#c8c8c8" stroke-width="23.0"/><path d="M700.0,250.0L714.0,295.9" stroke="#e2a0a0" stroke-width="23.0"/><path d="M714.0,295.9L728.1,341.8" stroke="#c8c8c8" stroke-width="23.0"/><path d="M700.0,250.0L667.8,251.7" stroke="#e2a0a0" stroke-width="23.0"/><path d="M667.8,251.7L635.5,253.4" stroke="#c8c8c8" stroke-width="23.0"/><path d="M540.0,470.0L560.8,442.4" stroke="#e2a0a0" stroke-width="23.0"/><path d="M560.8,442.4L581.5,414.9" stroke="#c8c8c8" stroke-width="23.0"/><path d="M540.0,470.0L567.9,504.4" stroke="#e2a0a0" stroke-width="23.0"/><path d="M567.9,504.4L595.8,538.9" stroke="#c8c8c8" stroke-width="23.0"/><path d="M320.0,60.0L348.1,26.6" stroke="#e2a0a0" stroke-width="23.0"/><path d="M348.1,26.6L376.2,-6.9" stroke="#c8c8c8" stroke-width="23.0"/><path d="M320.0,60.0L340.1,87.6" stroke="#e2a0a0" stroke-width="23.0"/><path d="M340.1,87.6L360.1,115.2" stroke="#c8c8c8" stroke-width="23.0"/><circle cx="65.0" cy="770.0" r="30.0" fill="url(#gi)"/><circle cx="80.0" cy="1040.0" r="30.0" fill="url(#gi)"/><circle cx="655.0" cy="1055.0" r="30.0" fill="url(#gi)"/><circle cx="495.0" cy="1200.0" r="30.0" fill="url(#gi)"/><circle cx="440.0" cy="1310.0" r="30.0" fill="url(#gi)"/><circle cx="155.0" cy="1320.0" r="30.0" fill="url(#gi)"/><circle cx="370.0" cy="1380.0" r="30.0" fill="url(#gi)"/><circle cx="650.0" cy="1340.0" r="30.0" fill="url(#gi)"/><circle cx="300.0" cy="1450.0" r="30.0" fill="url(#gi)"/><circle cx="1000.0" cy="1410.0" r="30.0" fill="url(#gi)"/><circle cx="1200.0" cy="1160.0" r="30.0" fill="url(#gi)"/><circle cx="1200.0" cy="1440.0" r="30.0" fill="url(#gi)"/><circle cx="910.0" cy="1480.0" r="30.0" fill="url(#gi)"/><circle cx="715.0" cy="1420.0" r="30.0" fill="url(#gi)"/><circle cx="50.0" cy="1360.0" r="31.0" fill="url(#gpb)"/><circle cx="605.0" cy="1445.0" r="31.0" fill="url(#gpb)"/><circle cx="690.0" cy="1385.0" r="31.0" fill="url(#gpb)"/><circle cx="520.0" cy="1490.0" r="31.0" fill="url(#gpb)"/><circle cx="250.0" cy="1020.0" r="19.0" fill="url(#gh)"/><circle cx="330.0" cy="940.0" r="19.0" fill="url(#gh)"/><circle cx="420.0" cy="1070.0" r="19.0" fill="url(#gh)"/><circle cx="200.0" cy="1140.0" r="19.0" fill="url(#gh)"/><circle cx="300.0" cy="1200.0" r="19.0" fill="url(#gh)"/><circle cx="450.0" cy="900.0" r="19.0" fill="url(#gh)"/><circle cx="340.0" cy="1020.0" r="24.0" fill="url(#gn)"/><circle cx="270.0" cy="1120.0" r="22.0" fill="url(#gc)"/><circle cx="80.0" cy="1170.0" r="19.0" fill="url(#gh)"/><circle cx="160.0" cy="1090.0" r="19.0" fill="url(#gh)"/><circle cx="130.0" cy="1270.0" r="19.0" fill="url(#gh)"/><circle cx="270.0" cy="1280.0" r="19.0" fill="url(#gh)"/><circle cx="210.0" cy="1320.0" r="19.0" fill="url(#gh)"/><circle cx="150.0" cy="1180.0" r="24.0" fill="url(#gn)"/><circle cx="230.0" cy="1230.0" r="22.0" fill="url(#gc)"/><circle cx="500.0" cy="1020.0" r="19.0" fill="url(#gh)"/><circle cx="450.0" cy="880.0" r="19.0" fill="url(#gh)"/><circle cx="500.0" cy="1080.0" r="19.0" fill="url(#gh)"/><circle cx="440.0" cy="1000.0" r="24.0" fill="url(#gn)"/><circle cx="380.0" cy="1090.0" r="22.0" fill="url(#gc)"/><circle cx="800.0" cy="1170.0" r="19.0" fill="url(#gh)"/><circle cx="880.0" cy="1030.0" r="19.0" fill="url(#gh)"/><circle cx="960.0" cy="1140.0" r="19.0" fill="url(#gh)"/><circle cx="1010.0" cy="980.0" r="19.0" fill="url(#gh)"/><circle cx="1110.0" cy="1050.0" r="19.0" fill="url(#gh)"/><circle cx="880.0" cy="1120.0" r="24.0" fill="url(#gn)"/><circle cx="1000.0" cy="1060.0" r="22.0" fill="url(#gc)"/><circle cx="1040.0" cy="1200.0" r="19.0" fill="url(#gh)"/><circle cx="940.0" cy="1270.0" r="19.0" fill="url(#gh)"/><circle cx="840.0" cy="1320.0" r="19.0" fill="url(#gh)"/><circle cx="780.0" cy="1180.0" r="19.0" fill="url(#gh)"/><circle cx="1050.0" cy="1140.0" r="19.0" fill="url(#gh)"/><circle cx="950.0" cy="1180.0" r="24.0" fill="url(#gn)"/><circle cx="870.0" cy="1190.0" r="22.0" fill="url(#gc)"/><circle cx="211.2" cy="6.8" r="13.0" fill="url(#gh)"/><circle cx="151.6" cy="136.7" r="13.0" fill="url(#gh)"/><circle cx="130.0" cy="50.0" r="23.0" fill="url(#go)"/><circle cx="87.2" cy="103.1" r="13.0" fill="url(#gh)"/><circle cx="215.4" cy="132.6" r="13.0" fill="url(#gh)"/><circle cx="120.0" cy="160.0" r="23.0" fill="url(#go)"/><circle cx="110.8" cy="292.3" r="13.0" fill="url(#gh)"/><circle cx="4.6" cy="221.8" r="13.0" fill="url(#gh)"/><circle cx="75.0" cy="210.0" r="23.0" fill="url(#go)"/><circle cx="289.8" cy="288.1" r="13.0" fill="url(#gh)"/><circle cx="159.9" cy="303.3" r="13.0" fill="url(#gh)"/><circle cx="200.0" cy="250.0" r="23.0" fill="url(#go)"/><circle cx="102.3" cy="353.1" r="13.0" fill="url(#gh)"/><circle cx="61.4" cy="491.3" r="13.0" fill="url(#gh)"/><circle cx="30.0" cy="400.0" r="23.0" fill="url(#go)"/><circle cx="127.3" cy="311.3" r="13.0" fill="url(#gh)"/><circle cx="121.8" cy="431.8" r="13.0" fill="url(#gh)"/><circle cx="80.0" cy="390.0" r="23.0" fill="url(#go)"/><circle cx="113.9" cy="517.9" r="13.0" fill="url(#gh)"/><circle cx="89.6" cy="626.5" r="13.0" fill="url(#gh)"/><circle cx="60.0" cy="560.0" r="23.0" fill="url(#go)"/><circle cx="42.3" cy="491.3" r="13.0" fill="url(#gh)"/><circle cx="167.0" cy="444.3" r="13.0" fill="url(#gh)"/><circle cx="110.0" cy="520.0" r="23.0" fill="url(#go)"/><circle cx="97.0" cy="727.2" r="13.0" fill="url(#gh)"/><circle cx="91.7" cy="635.9" r="13.0" fill="url(#gh)"/><circle cx="130.0" cy="680.0" r="23.0" fill="url(#go)"/><circle cx="286.4" cy="480.3" r="13.0" fill="url(#gh)"/><circle cx="153.2" cy="424.9" r="13.0" fill="url(#gh)"/><circle cx="240.0" cy="400.0" r="23.0" fill="url(#go)"/><circle cx="367.9" cy="449.7" r="13.0" fill="url(#gh)"/><circle cx="380.7" cy="562.6" r="13.0" fill="url(#gh)"/><circle cx="330.0" cy="500.0" r="23.0" fill="url(#go)"/><circle cx="444.6" cy="328.5" r="13.0" fill="url(#gh)"/><circle cx="342.1" cy="407.4" r="13.0" fill="url(#gh)"/><circle cx="360.0" cy="330.0" r="23.0" fill="url(#go)"/><circle cx="473.7" cy="120.0" r="13.0" fill="url(#gh)"/><circle cx="377.0" cy="212.1" r="13.0" fill="url(#gh)"/><circle cx="400.0" cy="120.0" r="23.0" fill="url(#go)"/><circle cx="432.1" cy="175.6" r="13.0" fill="url(#gh)"/><circle cx="410.5" cy="52.6" r="13.0" fill="url(#gh)"/><circle cx="470.0" cy="110.0" r="23.0" fill="url(#go)"/><circle cx="564.3" cy="119.0" r="13.0" fill="url(#gh)"/><circle cx="561.2" cy="228.8" r="13.0" fill="url(#gh)"/><circle cx="520.0" cy="170.0" r="23.0" fill="url(#go)"/><circle cx="525.3" cy="143.6" r="13.0" fill="url(#gh)"/><circle cx="659.4" cy="109.2" r="13.0" fill="url(#gh)"/><circle cx="600.0" cy="180.0" r="23.0" fill="url(#go)"/><circle cx="730.3" cy="96.2" r="13.0" fill="url(#gh)"/><circle cx="635.3" cy="161.7" r="13.0" fill="url(#gh)"/><circle cx="660.0" cy="90.0" r="23.0" fill="url(#go)"/><circle cx="607.5" cy="45.5" r="13.0" fill="url(#gh)"/><circle cx="588.1" cy="149.6" r="13.0" fill="url(#gh)"/><circle cx="560.0" cy="80.0" r="23.0" fill="url(#go)"/><circle cx="438.8" cy="173.7" r="13.0" fill="url(#gh)"/><circle cx="436.6" cy="270.3" r="13.0" fill="url(#gh)"/><circle cx="400.0" cy="220.0" r="23.0" fill="url(#go)"/><circle cx="417.8" cy="303.1" r="13.0" fill="url(#gh)"/><circle cx="534.8" cy="305.6" r="13.0" fill="url(#gh)"/><circle cx="480.0" cy="350.0" r="23.0" fill="url(#go)"/><circle cx="701.3" cy="305.7" r="13.0" fill="url(#gh)"/><circle cx="601.4" cy="357.3" r="13.0" fill="url(#gh)"/><circle cx="620.0" cy="300.0" r="23.0" fill="url(#go)"/><circle cx="667.3" cy="351.0" r="13.0" fill="url(#gh)"/><circle cx="658.4" cy="461.5" r="13.0" fill="url(#gh)"/><circle cx="620.0" cy="400.0" r="23.0" fill="url(#go)"/><circle cx="799.2" cy="466.9" r="13.0" fill="url(#gh)"/><circle cx="669.3" cy="554.5" r="13.0" fill="url(#gh)"/><circle cx="700.0" cy="460.0" r="23.0" fill="url(#go)"/><circle cx="789.6" cy="421.2" r="13.0" fill="url(#gh)"/><circle cx="663.5" cy="350.1" r="13.0" fill="url(#gh)"/><circle cx="760.0" cy="340.0" r="23.0" fill="url(#go)"/><circle cx="841.4" cy="444.9" r="13.0" fill="url(#gh)"/><circle cx="724.1" cy="376.1" r="13.0" fill="url(#gh)"/><circle cx="800.0" cy="360.0" r="23.0" fill="url(#go)"/><circle cx="739.5" cy="587.1" r="13.0" fill="url(#gh)"/><circle cx="731.1" cy="447.2" r="13.0" fill="url(#gh)"/><circle cx="790.0" cy="520.0" r="23.0" fill="url(#go)"/><circle cx="761.9" cy="521.7" r="13.0" fill="url(#gh)"/><circle cx="784.0" cy="402.3" r="13.0" fill="url(#gh)"/><circle cx="820.0" cy="450.0" r="23.0" fill="url(#go)"/><circle cx="990.5" cy="173.1" r="13.0" fill="url(#gh)"/><circle cx="1081.0" cy="242.5" r="13.0" fill="url(#gh)"/><circle cx="1020.0" cy="250.0" r="23.0" fill="url(#go)"/><circle cx="1115.9" cy="342.2" r="13.0" fill="url(#gh)"/><circle cx="1005.5" cy="301.4" r="13.0" fill="url(#gh)"/><circle cx="1080.0" cy="280.0" r="23.0" fill="url(#go)"/><circle cx="886.0" cy="431.8" r="13.0" fill="url(#gh)"/><circle cx="924.0" cy="324.3" r="13.0" fill="url(#gh)"/><circle cx="950.0" cy="380.0" r="23.0" fill="url(#go)"/><circle cx="1108.1" cy="414.0" r="13.0" fill="url(#gh)"/><circle cx="1066.1" cy="531.7" r="13.0" fill="url(#gh)"/><circle cx="1040.0" cy="460.0" r="23.0" fill="url(#go)"/><circle cx="1058.0" cy="511.3" r="13.0" fill="url(#gh)"/><circle cx="1159.2" cy="425.3" r="13.0" fill="url(#gh)"/><circle cx="1150.0" cy="500.0" r="23.0" fill="url(#go)"/><circle cx="1198.4" cy="720.9" r="13.0" fill="url(#gh)"/><circle cx="1084.8" cy="701.9" r="13.0" fill="url(#gh)"/><circle cx="1160.0" cy="670.0" r="23.0" fill="url(#go)"/><circle cx="442.2" cy="642.7" r="13.0" fill="url(#gh)"/><circle cx="495.4" cy="747.8" r="13.0" fill="url(#gh)"/><circle cx="430.0" cy="720.0" r="23.0" fill="url(#go)"/><circle cx="643.8" cy="935.6" r="13.0" fill="url(#gh)"/><circle cx="524.7" cy="968.8" r="13.0" fill="url(#gh)"/><circle cx="560.0" cy="910.0" r="23.0" fill="url(#go)"/><circle cx="243.1" cy="699.3" r="13.0" fill="url(#gh)"/><circle cx="195.4" cy="601.2" r="13.0" fill="url(#gh)"/><circle cx="250.0" cy="620.0" r="23.0" fill="url(#go)"/><circle cx="831.9" cy="197.6" r="13.0" fill="url(#gh)"/><circle cx="961.0" cy="213.2" r="13.0" fill="url(#gh)"/><circle cx="870.0" cy="250.0" r="23.0" fill="url(#go)"/><circle cx="701.2" cy="87.0" r="13.0" fill="url(#gh)"/><circle cx="823.8" cy="78.0" r="13.0" fill="url(#gh)"/><circle cx="770.0" cy="130.0" r="23.0" fill="url(#go)"/><circle cx="288.1" cy="-26.8" r="13.0" fill="url(#gh)"/><circle cx="270.0" cy="97.1" r="13.0" fill="url(#gh)"/><circle cx="230.0" cy="40.0" r="23.0" fill="url(#go)"/><circle cx="1210.8" cy="181.3" r="13.0" fill="url(#gh)"/><circle cx="1135.6" cy="115.5" r="13.0" fill="url(#gh)"/><circle cx="1200.0" cy="120.0" r="23.0" fill="url(#go)"/><circle cx="13.5" cy="-63.6" r="13.0" fill="url(#gh)"/><circle cx="108.1" cy="35.5" r="13.0" fill="url(#gh)"/><circle cx="30.0" cy="30.0" r="23.0" fill="url(#go)"/><circle cx="728.1" cy="341.8" r="13.0" fill="url(#gh)"/><circle cx="635.5" cy="253.4" r="13.0" fill="url(#gh)"/><circle cx="700.0" cy="250.0" r="23.0" fill="url(#go)"/><circle cx="581.5" cy="414.9" r="13.0" fill="url(#gh)"/><circle cx="595.8" cy="538.9" r="13.0" fill="url(#gh)"/><circle cx="540.0" cy="470.0" r="23.0" fill="url(#go)"/><circle cx="376.2" cy="-6.9" r="13.0" fill="url(#gh)"/><circle cx="360.1" cy="115.2" r="13.0" fill="url(#gh)"/><circle cx="320.0" cy="60.0" r="23.0" fill="url(#go)"/><circle cx="260.0" cy="630.0" r="12.0" fill="url(#gh)"/><circle cx="1020.0" cy="580.0" r="12.0" fill="url(#gh)"/><path d="M590.0,825.0L432.5,805.0" stroke="#189c9c" stroke-width="13.0"/><path d="M432.5,805.0L275.0,785.0" stroke="#9a0a8a" stroke-width="13.0"/><path d="M590.0,825.0L760.0,825.0" stroke="#189c9c" stroke-width="13.0"/><path d="M760.0,825.0L930.0,825.0" stroke="#9a0a8a" stroke-width="13.0"/><path d="M590.0,825.0L602.5,980.0" stroke="#189c9c" stroke-width="13.0"/><path d="M602.5,980.0L615.0,1135.0" stroke="#9a0a8a" stroke-width="13.0"/><path d="M590.0,825.0L515.0,677.5" stroke="#189c9c" stroke-width="13.0"/><path d="M515.0,677.5L440.0,530.0" stroke="#d40000" stroke-width="13.0"/><path d="M590.0,825.0L632.5,705.0" stroke="#189c9c" stroke-width="13.0"/><path d="M632.5,705.0L675.0,585.0" stroke="#d40000" stroke-width="13.0"/><path d="M440.0,530.0L447.5,495.0" stroke="#d40000" stroke-width="14.0"/><path d="M447.5,495.0L455.0,460.0" stroke="#e8e000" stroke-width="14.0"/><path d="M440.0,530.0L490.0,550.0" stroke="#d40000" stroke-width="14.0"/><path d="M490.0,550.0L540.0,570.0" stroke="#e8e000" stroke-width="14.0"/><path d="M675.0,585.0L637.5,597.5" stroke="#d40000" stroke-width="14.0"/><path d="M637.5,597.5L600.0,610.0" stroke="#e8e000" stroke-width="14.0"/><path d="M675.0,585.0L702.5,610.0" stroke="#d40000" stroke-width="14.0"/><path d="M702.5,610.0L730.0,635.0" stroke="#e8e000" stroke-width="14.0"/><circle cx="455.0" cy="460.0" r="20.0" fill="url(#gH)"/><circle cx="540.0" cy="570.0" r="20.0" fill="url(#gH)"/><circle cx="440.0" cy="530.0" r="33.0" fill="url(#gO)"/><circle cx="600.0" cy="610.0" r="20.0" fill="url(#gH)"/><circle cx="675.0" cy="585.0" r="33.0" fill="url(#gO)"/><circle cx="730.0" cy="635.0" r="20.0" fill="url(#gH)"/><circle cx="275.0" cy="785.0" r="42.0" fill="url(#gI)"/><circle cx="930.0" cy="825.0" r="42.0" fill="url(#gI)"/><circle cx="590.0" cy="825.0" r="45.0" fill="url(#gPb)"/><circle cx="615.0" cy="1135.0" r="42.0" fill="url(#gI)"/></g></g></g>
<rect x="132" y="513.5" width="334" height="411.5" fill="none" stroke="#2a2a2a" stroke-width="2.4"/>
<rect x="358.4" y="526.4" width="92.2" height="43.7" fill="#ffff00" stroke="#111" stroke-width="2.8"/>
<text x="404.5" y="558.5" class="ps" text-anchor="middle">0.0 ps</text>
<clipPath id="cp4"><rect x="480" y="513.5" width="333" height="411.5"/></clipPath>
<g clip-path="url(#cp4)"><g filter="url(#blur)"><g transform="translate(480,513) scale(0.27228)" stroke-linecap="round"><path d="M690.0,895.0L840.0,952.5" stroke="#c08ab8" stroke-width="18.0"/><path d="M840.0,952.5L990.0,1010.0" stroke="#98d4d2" stroke-width="18.0"/><path d="M990.0,1010.0L1106.5,975.0" stroke="#98d4d2" stroke-width="18.0"/><path d="M1106.5,975.0L1223.0,940.0" stroke="#c08ab8" stroke-width="18.0"/><path d="M990.0,1010.0L895.0,1030.0" stroke="#98d4d2" stroke-width="18.0"/><path d="M895.0,1030.0L800.0,1050.0" stroke="#c08ab8" stroke-width="18.0"/><path d="M800.0,1050.0L730.0,1072.5" stroke="#c08ab8" stroke-width="18.0"/><path d="M730.0,1072.5L660.0,1095.0" stroke="#c08ab8" stroke-width="18.0"/><path d="M990.0,1010.0L990.0,1175.0" stroke="#98d4d2" stroke-width="18.0"/><path d="M990.0,1175.0L990.0,1340.0" stroke="#c08ab8" stroke-width="18.0"/><path d="M990.0,1340.0L1015.0,1365.0" stroke="#c08ab8" stroke-width="18.0"/><path d="M1015.0,1365.0L1040.0,1390.0" stroke="#c08ab8" stroke-width="18.0"/><path d="M1040.0,1390.0L1040.0,1451.5" stroke="#c08ab8" stroke-width="18.0"/><path d="M1040.0,1451.5L1040.0,1513.0" stroke="#c08ab8" stroke-width="18.0"/><path d="M420.0,1100.0L430.0,1245.0" stroke="#c08ab8" stroke-width="18.0"/><path d="M430.0,1245.0L440.0,1390.0" stroke="#98d4d2" stroke-width="18.0"/><path d="M440.0,1390.0L440.0,1451.5" stroke="#98d4d2" stroke-width="18.0"/><path d="M440.0,1451.5L440.0,1513.0" stroke="#c08ab8" stroke-width="18.0"/><path d="M660.0,1095.0L595.0,1187.5" stroke="#c08ab8" stroke-width="18.0"/><path d="M595.0,1187.5L530.0,1280.0" stroke="#c08ab8" stroke-width="18.0"/><path d="M530.0,1280.0L485.0,1335.0" stroke="#c08ab8" stroke-width="18.0"/><path d="M485.0,1335.0L440.0,1390.0" stroke="#98d4d2" stroke-width="18.0"/><path d="M0.0,1270.0L55.0,1275.0" stroke="#c08ab8" stroke-width="18.0"/><path d="M55.0,1275.0L110.0,1280.0" stroke="#c08ab8" stroke-width="18.0"/><path d="M110.0,1280.0L275.0,1335.0" stroke="#c08ab8" stroke-width="18.0"/><path d="M275.0,1335.0L440.0,1390.0" stroke="#98d4d2" stroke-width="18.0"/><path d="M440.0,1390.0L370.0,1451.5" stroke="#98d4d2" stroke-width="18.0"/><path d="M370.0,1451.5L300.0,1513.0" stroke="#98d4d2" stroke-width="18.0"/><path d="M440.0,1390.0L530.0,1451.5" stroke="#98d4d2" stroke-width="18.0"/><path d="M530.0,1451.5L620.0,1513.0" stroke="#98d4d2" stroke-width="18.0"/><path d="M440.0,1390.0L570.0,1405.0" stroke="#98d4d2" stroke-width="18.0"/><path d="M570.0,1405.0L700.0,1420.0" stroke="#98d4d2" stroke-width="18.0"/><path d="M440.0,1390.0L335.0,1451.5" stroke="#98d4d2" stroke-width="18.0"/><path d="M335.0,1451.5L230.0,1513.0" stroke="#98d4d2" stroke-width="18.0"/><path d="M990.0,1010.0L935.0,1105.0" stroke="#98d4d2" stroke-width="18.0"/><path d="M935.0,1105.0L880.0,1200.0" stroke="#98d4d2" stroke-width="18.0"/><path d="M880.0,1200.0L870.0,1245.0" stroke="#98d4d2" stroke-width="18.0"/><path d="M870.0,1245.0L860.0,1290.0" stroke="#98d4d2" stroke-width="18.0"/><path d="M1010.0,435.0L1040.0,402.5" stroke="#98d4d2" stroke-width="18.0"/><path d="M1040.0,402.5L1070.0,370.0" stroke="#98d4d2" stroke-width="18.0"/><path d="M1070.0,370.0L1080.0,310.0" stroke="#98d4d2" stroke-width="18.0"/><path d="M1080.0,310.0L1090.0,250.0" stroke="#98d4d2" stroke-width="18.0"/><path d="M40.0,985.0L20.0,987.5" stroke="#c08ab8" stroke-width="18.0"/><path d="M20.0,987.5L0.0,990.0" stroke="#c08ab8" stroke-width="18.0"/><path d="M295.0,810.0L322.5,775.0" stroke="#a0a0cc" stroke-width="18.0"/><path d="M322.5,775.0L350.0,740.0" stroke="#b0cccc" stroke-width="18.0"/><path d="M295.0,810.0L237.5,842.5" stroke="#a0a0cc" stroke-width="18.0"/><path d="M237.5,842.5L180.0,875.0" stroke="#c8c8c8" stroke-width="18.0"/><path d="M350.0,740.0L325.0,730.0" stroke="#b0cccc" stroke-width="18.0"/><path d="M325.0,730.0L300.0,720.0" stroke="#c8c8c8" stroke-width="18.0"/><path d="M350.0,740.0L370.0,770.0" stroke="#b0cccc" stroke-width="18.0"/><path d="M370.0,770.0L390.0,800.0" stroke="#c8c8c8" stroke-width="18.0"/><path d="M295.0,810.0L327.5,845.0" stroke="#a0a0cc" stroke-width="18.0"/><path d="M327.5,845.0L360.0,880.0" stroke="#c8c8c8" stroke-width="18.0"/><path d="M295.0,810.0L267.5,835.0" stroke="#a0a0cc" stroke-width="18.0"/><path d="M267.5,835.0L240.0,860.0" stroke="#c8c8c8" stroke-width="18.0"/><path d="M830.0,440.0L865.0,420.0" stroke="#a0a0cc" stroke-width="18.0"/><path d="M865.0,420.0L900.0,400.0" stroke="#b0cccc" stroke-width="18.0"/><path d="M830.0,440.0L810.0,490.0" stroke="#a0a0cc" stroke-width="18.0"/><path d="M810.0,490.0L790.0,540.0" stroke="#c8c8c8" stroke-width="18.0"/><path d="M830.0,440.0L805.0,455.0" stroke="#a0a0cc" stroke-width="18.0"/><path d="M805.0,455.0L780.0,470.0" stroke="#c8c8c8" stroke-width="18.0"/><path d="M900.0,400.0L930.0,385.0" stroke="#b0cccc" stroke-width="18.0"/><path d="M930.0,385.0L960.0,370.0" stroke="#c8c8c8" stroke-width="18.0"/><path d="M900.0,400.0L895.0,365.0" stroke="#b0cccc" stroke-width="18.0"/><path d="M895.0,365.0L890.0,330.0" stroke="#c8c8c8" stroke-width="18.0"/><path d="M1050.0,1070.0L1005.0,1095.0" stroke="#a0a0cc" stroke-width="18.0"/><path d="M1005.0,1095.0L960.0,1120.0" stroke="#b0cccc" stroke-width="18.0"/><path d="M1050.0,1070.0L1090.0,1060.0" stroke="#a0a0cc" stroke-width="18.0"/><path d="M1090.0,1060.0L1130.0,1050.0" stroke="#c8c8c8" stroke-width="18.0"/><path d="M1050.0,1070.0L1105.0,1100.0" stroke="#a0a0cc" stroke-width="18.0"/><path d="M1105.0,1100.0L1160.0,1130.0" stroke="#c8c8c8" stroke-width="18.0"/><path d="M1050.0,1070.0L1055.0,1030.0" stroke="#a0a0cc" stroke-width="18.0"/><path d="M1055.0,1030.0L1060.0,990.0" stroke="#c8c8c8" stroke-width="18.0"/><path d="M920.0,1160.0L890.0,1180.0" stroke="#a0a0cc" stroke-width="18.0"/><path d="M890.0,1180.0L860.0,1200.0" stroke="#b0cccc" stroke-width="18.0"/><path d="M860.0,1200.0L855.0,1240.0" stroke="#b0cccc" stroke-width="18.0"/><path d="M855.0,1240.0L850.0,1280.0" stroke="#c8c8c8" stroke-width="18.0"/><path d="M920.0,1160.0L955.0,1175.0" stroke="#a0a0cc" stroke-width="18.0"/><path d="M955.0,1175.0L990.0,1190.0" stroke="#c8c8c8" stroke-width="18.0"/><path d="M920.0,1160.0L900.0,1135.0" stroke="#a0a0cc" stroke-width="18.0"/><path d="M900.0,1135.0L880.0,1110.0" stroke="#c8c8c8" stroke-width="18.0"/><path d="M470.0,1380.0L495.0,1360.0" stroke="#a0a0cc" stroke-width="18.0"/><path d="M495.0,1360.0L520.0,1340.0" stroke="#b0cccc" stroke-width="18.0"/><path d="M470.0,1380.0L435.0,1355.0" stroke="#a0a0cc" stroke-width="18.0"/><path d="M435.0,1355.0L400.0,1330.0" stroke="#c8c8c8" stroke-width="18.0"/><path d="M520.0,1340.0L540.0,1380.0" stroke="#b0cccc" stroke-width="18.0"/><path d="M540.0,1380.0L560.0,1420.0" stroke="#c8c8c8" stroke-width="18.0"/><path d="M520.0,1340.0L520.0,1310.0" stroke="#b0cccc" stroke-width="18.0"/><path d="M520.0,1310.0L520.0,1280.0" stroke="#c8c8c8" stroke-width="18.0"/><path d="M470.0,1380.0L425.0,1405.0" stroke="#a0a0cc" stroke-width="18.0"/><path d="M425.0,1405.0L380.0,1430.0" stroke="#c8c8c8" stroke-width="18.0"/><path d="M40.0,140.0L62.5,116.7" stroke="#e2a0a0" stroke-width="23.0"/><path d="M62.5,116.7L85.1,93.3" stroke="#c8c8c8" stroke-width="23.0"/><path d="M40.0,140.0L58.1,168.9" stroke="#e2a0a0" stroke-width="23.0"/><path d="M58.1,168.9L76.2,197.9" stroke="#c8c8c8" stroke-width="23.0"/><path d="M50.0,260.0L75.3,280.5" stroke="#e2a0a0" stroke-width="23.0"/><path d="M75.3,280.5L100.6,301.0" stroke="#c8c8c8" stroke-width="23.0"/><path d="M50.0,260.0L22.6,280.6" stroke="#e2a0a0" stroke-width="23.0"/><path d="M22.6,280.6L-4.8,301.3" stroke="#c8c8c8" stroke-width="23.0"/><path d="M100.0,300.0L57.6,309.0" stroke="#e2a0a0" stroke-width="23.0"/><path d="M57.6,309.0L15.2,318.0" stroke="#c8c8c8" stroke-width="23.0"/><path d="M100.0,300.0L101.5,258.9" stroke="#e2a0a0" stroke-width="23.0"/><path d="M101.5,258.9L102.9,217.8" stroke="#c8c8c8" stroke-width="23.0"/><path d="M100.0,565.0L99.5,515.7" stroke="#e2a0a0" stroke-width="23.0"/><path d="M99.5,515.7L99.1,466.4" stroke="#c8c8c8" stroke-width="23.0"/><path d="M100.0,565.0L140.4,574.7" stroke="#e2a0a0" stroke-width="23.0"/><path d="M140.4,574.7L180.9,584.4" stroke="#c8c8c8" stroke-width="23.0"/><path d="M380.0,440.0L351.2,479.6" stroke="#e2a0a0" stroke-width="23.0"/><path d="M351.2,479.6L322.5,519.1" stroke="#c8c8c8" stroke-width="23.0"/><path d="M380.0,440.0L353.6,408.6" stroke="#e2a0a0" stroke-width="23.0"/><path d="M353.6,408.6L327.3,377.2" stroke="#c8c8c8" stroke-width="23.0"/><path d="M550.0,40.0L527.5,69.9" stroke="#e2a0a0" stroke-width="23.0"/><path d="M527.5,69.9L504.9,99.8" stroke="#c8c8c8" stroke-width="23.0"/><path d="M550.0,40.0L529.0,14.2" stroke="#e2a0a0" stroke-width="23.0"/><path d="M529.0,14.2L508.1,-11.7" stroke="#c8c8c8" stroke-width="23.0"/><path d="M550.0,160.0L521.0,185.2" stroke="#e2a0a0" stroke-width="23.0"/><path d="M521.0,185.2L492.0,210.5" stroke="#c8c8c8" stroke-width="23.0"/><path d="M550.0,160.0L527.5,115.8" stroke="#e2a0a0" stroke-width="23.0"/><path d="M527.5,115.8L504.9,71.6" stroke="#c8c8c8" stroke-width="23.0"/><path d="M620.0,100.0L612.4,130.6" stroke="#e2a0a0" stroke-width="23.0"/><path d="M612.4,130.6L604.7,161.2" stroke="#c8c8c8" stroke-width="23.0"/><path d="M620.0,100.0L584.4,81.0" stroke="#e2a0a0" stroke-width="23.0"/><path d="M584.4,81.0L548.7,62.1" stroke="#c8c8c8" stroke-width="23.0"/><path d="M660.0,245.0L640.9,271.8" stroke="#e2a0a0" stroke-width="23.0"/><path d="M640.9,271.8L621.8,298.5" stroke="#c8c8c8" stroke-width="23.0"/><path d="M660.0,245.0L627.8,207.2" stroke="#e2a0a0" stroke-width="23.0"/><path d="M627.8,207.2L595.5,169.5" stroke="#c8c8c8" stroke-width="23.0"/><path d="M600.0,400.0L564.9,407.4" stroke="#e2a0a0" stroke-width="23.0"/><path d="M564.9,407.4L529.8,414.9" stroke="#c8c8c8" stroke-width="23.0"/><path d="M600.0,400.0L601.6,353.9" stroke="#e2a0a0" stroke-width="23.0"/><path d="M601.6,353.9L603.2,307.7" stroke="#c8c8c8" stroke-width="23.0"/><path d="M820.0,260.0L814.9,230.9" stroke="#e2a0a0" stroke-width="23.0"/><path d="M814.9,230.9L809.7,201.8" stroke="#c8c8c8" stroke-width="23.0"/><path d="M820.0,260.0L865.1,263.1" stroke="#e2a0a0" stroke-width="23.0"/><path d="M865.1,263.1L910.3,266.3" stroke="#c8c8c8" stroke-width="23.0"/><path d="M1030.0,480.0L1065.2,444.9" stroke="#e2a0a0" stroke-width="23.0"/><path d="M1065.2,444.9L1100.3,409.7" stroke="#c8c8c8" stroke-width="23.0"/><path d="M1030.0,480.0L1051.7,516.0" stroke="#e2a0a0" stroke-width="23.0"/><path d="M1051.7,516.0L1073.3,552.1" stroke="#c8c8c8" stroke-width="23.0"/><path d="M1090.0,250.0L1116.7,272.4" stroke="#e2a0a0" stroke-width="23.0"/><path d="M1116.7,272.4L1143.3,294.7" stroke="#c8c8c8" stroke-width="23.0"/><path d="M1090.0,250.0L1066.0,267.4" stroke="#e2a0a0" stroke-width="23.0"/><path d="M1066.0,267.4L1042.0,284.9" stroke="#c8c8c8" stroke-width="23.0"/><path d="M1180.0,420.0L1151.3,440.9" stroke="#e2a0a0" stroke-width="23.0"/><path d="M1151.3,440.9L1122.7,461.7" stroke="#c8c8c8" stroke-width="23.0"/><path d="M1180.0,420.0L1165.8,384.7" stroke="#e2a0a0" stroke-width="23.0"/><path d="M1165.8,384.7L1151.5,349.4" stroke="#c8c8c8" stroke-width="23.0"/><path d="M1040.0,690.0L1061.2,671.6" stroke="#e2a0a0" stroke-width="23.0"/><path d="M1061.2,671.6L1082.3,653.2" stroke="#c8c8c8" stroke-width="23.0"/><path d="M1040.0,690.0L1059.6,728.5" stroke="#e2a0a0" stroke-width="23.0"/><path d="M1059.6,728.5L1079.2,767.0" stroke="#c8c8c8" stroke-width="23.0"/><path d="M1100.0,800.0L1129.5,809.5" stroke="#e2a0a0" stroke-width="23.0"/><path d="M1129.5,809.5L1158.9,819.1" stroke="#c8c8c8" stroke-width="23.0"/><path d="M1100.0,800.0L1075.0,840.0" stroke="#e2a0a0" stroke-width="23.0"/><path d="M1075.0,840.0L1050.1,879.9" stroke="#c8c8c8" stroke-width="23.0"/><path d="M1170.0,830.0L1163.4,783.1" stroke="#e2a0a0" stroke-width="23.0"/><path d="M1163.4,783.1L1156.8,736.3" stroke="#c8c8c8" stroke-width="23.0"/><path d="M1170.0,830.0L1208.7,834.0" stroke="#e2a0a0" stroke-width="23.0"/><path d="M1208.7,834.0L1247.3,838.1" stroke="#c8c8c8" stroke-width="23.0"/><path d="M1070.0,930.0L1023.9,911.4" stroke="#e2a0a0" stroke-width="23.0"/><path d="M1023.9,911.4L977.7,892.7" stroke="#c8c8c8" stroke-width="23.0"/><path d="M1070.0,930.0L1099.2,889.8" stroke="#e2a0a0" stroke-width="23.0"/><path d="M1099.2,889.8L1128.5,849.5" stroke="#c8c8c8" stroke-width="23.0"/><path d="M740.0,820.0L783.4,797.0" stroke="#e2a0a0" stroke-width="23.0"/><path d="M783.4,797.0L826.7,773.9" stroke="#c8c8c8" stroke-width="23.0"/><path d="M740.0,820.0L748.2,852.8" stroke="#e2a0a0" stroke-width="23.0"/><path d="M748.2,852.8L756.4,885.6" stroke="#c8c8c8" stroke-width="23.0"/><path d="M440.0,670.0L411.0,661.1" stroke="#e2a0a0" stroke-width="23.0"/><path d="M411.0,661.1L382.0,652.3" stroke="#c8c8c8" stroke-width="23.0"/><path d="M440.0,670.0L459.9,636.8" stroke="#e2a0a0" stroke-width="23.0"/><path d="M459.9,636.8L479.9,603.6" stroke="#c8c8c8" stroke-width="23.0"/><path d="M420.0,1010.0L465.3,1031.1" stroke="#e2a0a0" stroke-width="23.0"/><path d="M465.3,1031.1L510.6,1052.2" stroke="#c8c8c8" stroke-width="23.0"/><path d="M420.0,1010.0L393.2,1043.0" stroke="#e2a0a0" stroke-width="23.0"/><path d="M393.2,1043.0L366.5,1076.0" stroke="#c8c8c8" stroke-width="23.0"/><path d="M860.0,1120.0L897.6,1104.8" stroke="#e2a0a0" stroke-width="23.0"/><path d="M897.6,1104.8L935.3,1089.6" stroke="#c8c8c8" stroke-width="23.0"/><path d="M860.0,1120.0L865.2,1157.2" stroke="#e2a0a0" stroke-width="23.0"/><path d="M865.2,1157.2L870.4,1194.3" stroke="#c8c8c8" stroke-width="23.0"/><path d="M180.0,1250.0L176.4,1278.8" stroke="#e2a0a0" stroke-width="23.0"/><path d="M176.4,1278.8L172.9,1307.5" stroke="#c8c8c8" stroke-width="23.0"/><path d="M180.0,1250.0L145.5,1236.8" stroke="#e2a0a0" stroke-width="23.0"/><path d="M145.5,1236.8L111.0,1223.5" stroke="#c8c8c8" stroke-width="23.0"/><path d="M90.0,1320.0L119.0,1328.8" stroke="#e2a0a0" stroke-width="23.0"/><path d="M119.0,1328.8L148.0,1337.7" stroke="#c8c8c8" stroke-width="23.0"/><path d="M90.0,1320.0L70.0,1353.2" stroke="#e2a0a0" stroke-width="23.0"/><path d="M70.0,1353.2L50.1,1386.4" stroke="#c8c8c8" stroke-width="23.0"/><path d="M900.0,1400.0L916.9,1427.0" stroke="#e2a0a0" stroke-width="23.0"/><path d="M916.9,1427.0L933.7,1453.9" stroke="#c8c8c8" stroke-width="23.0"/><path d="M900.0,1400.0L854.1,1414.9" stroke="#e2a0a0" stroke-width="23.0"/><path d="M854.1,1414.9L808.3,1429.8" stroke="#c8c8c8" stroke-width="23.0"/><path d="M130.0,130.0L105.8,109.7" stroke="#e2a0a0" stroke-width="23.0"/><path d="M105.8,109.7L81.5,89.3" stroke="#c8c8c8" stroke-width="23.0"/><path d="M130.0,130.0L162.8,106.2" stroke="#e2a0a0" stroke-width="23.0"/><path d="M162.8,106.2L195.6,82.3" stroke="#c8c8c8" stroke-width="23.0"/><path d="M1180.0,120.0L1193.4,89.9" stroke="#e2a0a0" stroke-width="23.0"/><path d="M1193.4,89.9L1206.8,59.8" stroke="#c8c8c8" stroke-width="23.0"/><path d="M1180.0,120.0L1213.3,146.0" stroke="#e2a0a0" stroke-width="23.0"/><path d="M1213.3,146.0L1246.6,172.0" stroke="#c8c8c8" stroke-width="23.0"/><path d="M1150.0,260.0L1112.0,282.9" stroke="#e2a0a0" stroke-width="23.0"/><path d="M1112.0,282.9L1074.0,305.7" stroke="#c8c8c8" stroke-width="23.0"/><path d="M1150.0,260.0L1135.4,212.2" stroke="#e2a0a0" stroke-width="23.0"/><path d="M1135.4,212.2L1120.8,164.4" stroke="#c8c8c8" stroke-width="23.0"/><path d="M1000.0,800.0L1039.7,805.6" stroke="#e2a0a0" stroke-width="23.0"/><path d="M1039.7,805.6L1079.4,811.2" stroke="#c8c8c8" stroke-width="23.0"/><path d="M1000.0,800.0L989.0,827.2" stroke="#e2a0a0" stroke-width="23.0"/><path d="M989.0,827.2L978.0,854.4" stroke="#c8c8c8" stroke-width="23.0"/><path d="M760.0,1080.0L728.5,1066.0" stroke="#e2a0a0" stroke-width="23.0"/><path d="M728.5,1066.0L697.1,1052.0" stroke="#c8c8c8" stroke-width="23.0"/><path d="M760.0,1080.0L787.2,1045.1" stroke="#e2a0a0" stroke-width="23.0"/><path d="M787.2,1045.1L814.5,1010.2" stroke="#c8c8c8" stroke-width="23.0"/><path d="M700.0,30.0L688.9,59.0" stroke="#e2a0a0" stroke-width="23.0"/><path d="M688.9,59.0L677.7,88.1" stroke="#c8c8c8" stroke-width="23.0"/><path d="M700.0,30.0L673.5,11.4" stroke="#e2a0a0" stroke-width="23.0"/><path d="M673.5,11.4L647.0,-7.1" stroke="#c8c8c8" stroke-width="23.0"/><circle cx="810.0" cy="610.0" r="30.0" fill="url(#gi)"/><circle cx="40.0" cy="985.0" r="30.0" fill="url(#gi)"/><circle cx="420.0" cy="1100.0" r="30.0" fill="url(#gi)"/><circle cx="660.0" cy="1095.0" r="30.0" fill="url(#gi)"/><circle cx="690.0" cy="895.0" r="26.0" fill="url(#gi)"/><circle cx="990.0" cy="1340.0" r="30.0" fill="url(#gi)"/><circle cx="1040.0" cy="1390.0" r="30.0" fill="url(#gi)"/><circle cx="110.0" cy="1280.0" r="30.0" fill="url(#gi)"/><circle cx="990.0" cy="1010.0" r="32.0" fill="url(#gpb)"/><circle cx="1010.0" cy="435.0" r="31.0" fill="url(#gpb)"/><circle cx="440.0" cy="1390.0" r="31.0" fill="url(#gpb)"/><circle cx="180.0" cy="875.0" r="19.0" fill="url(#gh)"/><circle cx="300.0" cy="720.0" r="19.0" fill="url(#gh)"/><circle cx="390.0" cy="800.0" r="19.0" fill="url(#gh)"/><circle cx="360.0" cy="880.0" r="19.0" fill="url(#gh)"/><circle cx="240.0" cy="860.0" r="19.0" fill="url(#gh)"/><circle cx="295.0" cy="810.0" r="24.0" fill="url(#gn)"/><circle cx="350.0" cy="740.0" r="22.0" fill="url(#gc)"/><circle cx="790.0" cy="540.0" r="19.0" fill="url(#gh)"/><circle cx="780.0" cy="470.0" r="19.0" fill="url(#gh)"/><circle cx="960.0" cy="370.0" r="19.0" fill="url(#gh)"/><circle cx="890.0" cy="330.0" r="19.0" fill="url(#gh)"/><circle cx="830.0" cy="440.0" r="24.0" fill="url(#gn)"/><circle cx="900.0" cy="400.0" r="22.0" fill="url(#gc)"/><circle cx="1130.0" cy="1050.0" r="19.0" fill="url(#gh)"/><circle cx="1160.0" cy="1130.0" r="19.0" fill="url(#gh)"/><circle cx="1060.0" cy="990.0" r="19.0" fill="url(#gh)"/><circle cx="1050.0" cy="1070.0" r="24.0" fill="url(#gn)"/><circle cx="960.0" cy="1120.0" r="22.0" fill="url(#gc)"/><circle cx="850.0" cy="1280.0" r="19.0" fill="url(#gh)"/><circle cx="990.0" cy="1190.0" r="19.0" fill="url(#gh)"/><circle cx="880.0" cy="1110.0" r="19.0" fill="url(#gh)"/><circle cx="920.0" cy="1160.0" r="24.0" fill="url(#gn)"/><circle cx="860.0" cy="1200.0" r="22.0" fill="url(#gc)"/><circle cx="400.0" cy="1330.0" r="19.0" fill="url(#gh)"/><circle cx="560.0" cy="1420.0" r="19.0" fill="url(#gh)"/><circle cx="520.0" cy="1280.0" r="19.0" fill="url(#gh)"/><circle cx="380.0" cy="1430.0" r="19.0" fill="url(#gh)"/><circle cx="470.0" cy="1380.0" r="24.0" fill="url(#gn)"/><circle cx="520.0" cy="1340.0" r="22.0" fill="url(#gc)"/><circle cx="85.1" cy="93.3" r="13.0" fill="url(#gh)"/><circle cx="76.2" cy="197.9" r="13.0" fill="url(#gh)"/><circle cx="40.0" cy="140.0" r="23.0" fill="url(#go)"/><circle cx="100.6" cy="301.0" r="13.0" fill="url(#gh)"/><circle cx="-4.8" cy="301.3" r="13.0" fill="url(#gh)"/><circle cx="50.0" cy="260.0" r="23.0" fill="url(#go)"/><circle cx="15.2" cy="318.0" r="13.0" fill="url(#gh)"/><circle cx="102.9" cy="217.8" r="13.0" fill="url(#gh)"/><circle cx="100.0" cy="300.0" r="23.0" fill="url(#go)"/><circle cx="99.1" cy="466.4" r="13.0" fill="url(#gh)"/><circle cx="180.9" cy="584.4" r="13.0" fill="url(#gh)"/><circle cx="100.0" cy="565.0" r="23.0" fill="url(#go)"/><circle cx="322.5" cy="519.1" r="13.0" fill="url(#gh)"/><circle cx="327.3" cy="377.2" r="13.0" fill="url(#gh)"/><circle cx="380.0" cy="440.0" r="23.0" fill="url(#go)"/><circle cx="504.9" cy="99.8" r="13.0" fill="url(#gh)"/><circle cx="508.1" cy="-11.7" r="13.0" fill="url(#gh)"/><circle cx="550.0" cy="40.0" r="23.0" fill="url(#go)"/><circle cx="492.0" cy="210.5" r="13.0" fill="url(#gh)"/><circle cx="504.9" cy="71.6" r="13.0" fill="url(#gh)"/><circle cx="550.0" cy="160.0" r="23.0" fill="url(#go)"/><circle cx="604.7" cy="161.2" r="13.0" fill="url(#gh)"/><circle cx="548.7" cy="62.1" r="13.0" fill="url(#gh)"/><circle cx="620.0" cy="100.0" r="23.0" fill="url(#go)"/><circle cx="621.8" cy="298.5" r="13.0" fill="url(#gh)"/><circle cx="595.5" cy="169.5" r="13.0" fill="url(#gh)"/><circle cx="660.0" cy="245.0" r="23.0" fill="url(#go)"/><circle cx="529.8" cy="414.9" r="13.0" fill="url(#gh)"/><circle cx="603.2" cy="307.7" r="13.0" fill="url(#gh)"/><circle cx="600.0" cy="400.0" r="23.0" fill="url(#go)"/><circle cx="809.7" cy="201.8" r="13.0" fill="url(#gh)"/><circle cx="910.3" cy="266.3" r="13.0" fill="url(#gh)"/><circle cx="820.0" cy="260.0" r="23.0" fill="url(#go)"/><circle cx="1100.3" cy="409.7" r="13.0" fill="url(#gh)"/><circle cx="1073.3" cy="552.1" r="13.0" fill="url(#gh)"/><circle cx="1030.0" cy="480.0" r="23.0" fill="url(#go)"/><circle cx="1143.3" cy="294.7" r="13.0" fill="url(#gh)"/><circle cx="1042.0" cy="284.9" r="13.0" fill="url(#gh)"/><circle cx="1090.0" cy="250.0" r="23.0" fill="url(#go)"/><circle cx="1122.7" cy="461.7" r="13.0" fill="url(#gh)"/><circle cx="1151.5" cy="349.4" r="13.0" fill="url(#gh)"/><circle cx="1180.0" cy="420.0" r="23.0" fill="url(#go)"/><circle cx="1082.3" cy="653.2" r="13.0" fill="url(#gh)"/><circle cx="1079.2" cy="767.0" r="13.0" fill="url(#gh)"/><circle cx="1040.0" cy="690.0" r="23.0" fill="url(#go)"/><circle cx="1158.9" cy="819.1" r="13.0" fill="url(#gh)"/><circle cx="1050.1" cy="879.9" r="13.0" fill="url(#gh)"/><circle cx="1100.0" cy="800.0" r="23.0" fill="url(#go)"/><circle cx="1156.8" cy="736.3" r="13.0" fill="url(#gh)"/><circle cx="1247.3" cy="838.1" r="13.0" fill="url(#gh)"/><circle cx="1170.0" cy="830.0" r="23.0" fill="url(#go)"/><circle cx="977.7" cy="892.7" r="13.0" fill="url(#gh)"/><circle cx="1128.5" cy="849.5" r="13.0" fill="url(#gh)"/><circle cx="1070.0" cy="930.0" r="23.0" fill="url(#go)"/><circle cx="826.7" cy="773.9" r="13.0" fill="url(#gh)"/><circle cx="756.4" cy="885.6" r="13.0" fill="url(#gh)"/><circle cx="740.0" cy="820.0" r="23.0" fill="url(#go)"/><circle cx="382.0" cy="652.3" r="13.0" fill="url(#gh)"/><circle cx="479.9" cy="603.6" r="13.0" fill="url(#gh)"/><circle cx="440.0" cy="670.0" r="23.0" fill="url(#go)"/><circle cx="510.6" cy="1052.2" r="13.0" fill="url(#gh)"/><circle cx="366.5" cy="1076.0" r="13.0" fill="url(#gh)"/><circle cx="420.0" cy="1010.0" r="23.0" fill="url(#go)"/><circle cx="935.3" cy="1089.6" r="13.0" fill="url(#gh)"/><circle cx="870.4" cy="1194.3" r="13.0" fill="url(#gh)"/><circle cx="860.0" cy="1120.0" r="23.0" fill="url(#go)"/><circle cx="172.9" cy="1307.5" r="13.0" fill="url(#gh)"/><circle cx="111.0" cy="1223.5" r="13.0" fill="url(#gh)"/><circle cx="180.0" cy="1250.0" r="23.0" fill="url(#go)"/><circle cx="148.0" cy="1337.7" r="13.0" fill="url(#gh)"/><circle cx="50.1" cy="1386.4" r="13.0" fill="url(#gh)"/><circle cx="90.0" cy="1320.0" r="23.0" fill="url(#go)"/><circle cx="933.7" cy="1453.9" r="13.0" fill="url(#gh)"/><circle cx="808.3" cy="1429.8" r="13.0" fill="url(#gh)"/><circle cx="900.0" cy="1400.0" r="23.0" fill="url(#go)"/><circle cx="81.5" cy="89.3" r="13.0" fill="url(#gh)"/><circle cx="195.6" cy="82.3" r="13.0" fill="url(#gh)"/><circle cx="130.0" cy="130.0" r="23.0" fill="url(#go)"/><circle cx="1206.8" cy="59.8" r="13.0" fill="url(#gh)"/><circle cx="1246.6" cy="172.0" r="13.0" fill="url(#gh)"/><circle cx="1180.0" cy="120.0" r="23.0" fill="url(#go)"/><circle cx="1074.0" cy="305.7" r="13.0" fill="url(#gh)"/><circle cx="1120.8" cy="164.4" r="13.0" fill="url(#gh)"/><circle cx="1150.0" cy="260.0" r="23.0" fill="url(#go)"/><circle cx="1079.4" cy="811.2" r="13.0" fill="url(#gh)"/><circle cx="978.0" cy="854.4" r="13.0" fill="url(#gh)"/><circle cx="1000.0" cy="800.0" r="23.0" fill="url(#go)"/><circle cx="697.1" cy="1052.0" r="13.0" fill="url(#gh)"/><circle cx="814.5" cy="1010.2" r="13.0" fill="url(#gh)"/><circle cx="760.0" cy="1080.0" r="23.0" fill="url(#go)"/><circle cx="677.7" cy="88.1" r="13.0" fill="url(#gh)"/><circle cx="647.0" cy="-7.1" r="13.0" fill="url(#gh)"/><circle cx="700.0" cy="30.0" r="23.0" fill="url(#go)"/><path d="M570.0,775.0L640.0,577.5" stroke="#189c9c" stroke-width="14.0"/><path d="M640.0,577.5L710.0,380.0" stroke="#d40000" stroke-width="14.0"/><path d="M570.0,775.0L462.5,645.0" stroke="#189c9c" stroke-width="16.0"/><path d="M462.5,645.0L355.0,515.0" stroke="#9a0a8a" stroke-width="16.0"/><path d="M570.0,775.0L612.5,865.0" stroke="#189c9c" stroke-width="16.0"/><path d="M612.5,865.0L655.0,955.0" stroke="#9a0a8a" stroke-width="16.0"/><path d="M570.0,775.0L447.5,917.5" stroke="#189c9c" stroke-width="16.0"/><path d="M447.5,917.5L325.0,1060.0" stroke="#9a0a8a" stroke-width="16.0"/><path d="M570.0,775.0L422.5,720.0" stroke="#189c9c" stroke-width="14.0"/><path d="M422.5,720.0L275.0,665.0" stroke="#d40000" stroke-width="14.0"/><path d="M570.0,775.0L697.5,752.5" stroke="#189c9c" stroke-width="14.0"/><path d="M697.5,752.5L825.0,730.0" stroke="#d40000" stroke-width="14.0"/><path d="M710.0,380.0L692.5,335.0" stroke="#d40000" stroke-width="12.0"/><path d="M692.5,335.0L675.0,290.0" stroke="#e8e000" stroke-width="12.0"/><path d="M710.0,380.0L780.0,392.5" stroke="#d40000" stroke-width="12.0"/><path d="M780.0,392.5L850.0,405.0" stroke="#e8e000" stroke-width="12.0"/><path d="M275.0,665.0L280.0,645.0" stroke="#d40000" stroke-width="12.0"/><path d="M280.0,645.0L285.0,625.0" stroke="#e8e000" stroke-width="12.0"/><path d="M275.0,665.0L230.0,615.0" stroke="#d40000" stroke-width="12.0"/><path d="M230.0,615.0L185.0,565.0" stroke="#e8e000" stroke-width="12.0"/><path d="M825.0,730.0L850.0,680.0" stroke="#d40000" stroke-width="12.0"/><path d="M850.0,680.0L875.0,630.0" stroke="#e8e000" stroke-width="12.0"/><path d="M825.0,730.0L812.5,710.0" stroke="#d40000" stroke-width="12.0"/><path d="M812.5,710.0L800.0,690.0" stroke="#e8e000" stroke-width="12.0"/><circle cx="675.0" cy="290.0" r="28.0" fill="url(#gH)"/><circle cx="710.0" cy="380.0" r="40.0" fill="url(#gO)"/><circle cx="850.0" cy="405.0" r="27.0" fill="url(#gH)"/><circle cx="185.0" cy="565.0" r="27.0" fill="url(#gH)"/><circle cx="275.0" cy="665.0" r="40.0" fill="url(#gO)"/><circle cx="285.0" cy="625.0" r="26.0" fill="url(#gH)"/><circle cx="875.0" cy="630.0" r="27.0" fill="url(#gH)"/><circle cx="800.0" cy="690.0" r="24.0" fill="url(#gH)"/><circle cx="825.0" cy="730.0" r="40.0" fill="url(#gO)"/><circle cx="355.0" cy="515.0" r="50.0" fill="url(#gI)"/><circle cx="570.0" cy="775.0" r="48.0" fill="url(#gPb)"/><circle cx="655.0" cy="955.0" r="50.0" fill="url(#gI)"/><circle cx="325.0" cy="1060.0" r="50.0" fill="url(#gI)"/></g></g></g>
<rect x="480" y="513.5" width="333" height="411.5" fill="none" stroke="#2a2a2a" stroke-width="2.4"/>
<rect x="708.9" y="526.4" width="92.2" height="43.7" fill="#ffff00" stroke="#111" stroke-width="2.8"/>
<text x="755.0" y="558.5" class="ps" text-anchor="middle">3.0 ps</text>
<clipPath id="cp5"><rect x="830.5" y="513.5" width="336.5" height="411.5"/></clipPath>
<g clip-path="url(#cp5)"><g filter="url(#blur)"><g transform="translate(830,513) scale(0.27555)" stroke-linecap="round"><path d="M0.0,1200.0L145.0,1200.0" stroke="#c08ab8" stroke-width="18.0"/><path d="M145.0,1200.0L290.0,1200.0" stroke="#98d4d2" stroke-width="18.0"/><path d="M290.0,1200.0L322.5,1215.0" stroke="#98d4d2" stroke-width="18.0"/><path d="M322.5,1215.0L355.0,1230.0" stroke="#c08ab8" stroke-width="18.0"/><path d="M355.0,1230.0L497.5,1250.0" stroke="#c08ab8" stroke-width="18.0"/><path d="M497.5,1250.0L640.0,1270.0" stroke="#c08ab8" stroke-width="18.0"/><path d="M640.0,1270.0L680.0,1280.0" stroke="#c08ab8" stroke-width="18.0"/><path d="M680.0,1280.0L720.0,1290.0" stroke="#c08ab8" stroke-width="18.0"/><path d="M290.0,1200.0L275.0,1347.5" stroke="#98d4d2" stroke-width="18.0"/><path d="M275.0,1347.5L260.0,1495.0" stroke="#c08ab8" stroke-width="18.0"/><path d="M355.0,1230.0L352.5,1362.5" stroke="#c08ab8" stroke-width="18.0"/><path d="M352.5,1362.5L350.0,1495.0" stroke="#c08ab8" stroke-width="18.0"/><path d="M640.0,1270.0L630.0,1345.0" stroke="#c08ab8" stroke-width="18.0"/><path d="M630.0,1345.0L620.0,1420.0" stroke="#c08ab8" stroke-width="18.0"/><path d="M50.0,1300.0L25.0,1275.0" stroke="#98d4d2" stroke-width="18.0"/><path d="M25.0,1275.0L0.0,1250.0" stroke="#98d4d2" stroke-width="18.0"/><path d="M50.0,1300.0L85.0,1330.0" stroke="#98d4d2" stroke-width="18.0"/><path d="M85.0,1330.0L120.0,1360.0" stroke="#98d4d2" stroke-width="18.0"/><path d="M40.0,1130.0L70.0,1110.0" stroke="#a0a0cc" stroke-width="18.0"/><path d="M70.0,1110.0L100.0,1090.0" stroke="#b0cccc" stroke-width="18.0"/><path d="M100.0,1090.0L120.0,1075.0" stroke="#b0cccc" stroke-width="18.0"/><path d="M120.0,1075.0L140.0,1060.0" stroke="#c8c8c8" stroke-width="18.0"/><path d="M40.0,1130.0L50.0,1165.0" stroke="#a0a0cc" stroke-width="18.0"/><path d="M50.0,1165.0L60.0,1200.0" stroke="#c8c8c8" stroke-width="18.0"/><path d="M40.0,1130.0L25.0,1105.0" stroke="#a0a0cc" stroke-width="18.0"/><path d="M25.0,1105.0L10.0,1080.0" stroke="#c8c8c8" stroke-width="18.0"/><path d="M60.0,90.0L86.0,53.0" stroke="#e2a0a0" stroke-width="23.0"/><path d="M86.0,53.0L111.9,15.9" stroke="#c8c8c8" stroke-width="23.0"/><path d="M60.0,90.0L88.7,123.0" stroke="#e2a0a0" stroke-width="23.0"/><path d="M88.7,123.0L117.3,155.9" stroke="#c8c8c8" stroke-width="23.0"/><path d="M100.0,180.0L61.3,197.2" stroke="#e2a0a0" stroke-width="23.0"/><path d="M61.3,197.2L22.6,214.5" stroke="#c8c8c8" stroke-width="23.0"/><path d="M100.0,180.0L91.8,133.4" stroke="#e2a0a0" stroke-width="23.0"/><path d="M91.8,133.4L83.6,86.8" stroke="#c8c8c8" stroke-width="23.0"/><path d="M220.0,270.0L199.8,245.1" stroke="#e2a0a0" stroke-width="23.0"/><path d="M199.8,245.1L179.6,220.1" stroke="#c8c8c8" stroke-width="23.0"/><path d="M220.0,270.0L250.5,255.8" stroke="#e2a0a0" stroke-width="23.0"/><path d="M250.5,255.8L281.0,241.6" stroke="#c8c8c8" stroke-width="23.0"/><path d="M150.0,380.0L172.8,421.1" stroke="#e2a0a0" stroke-width="23.0"/><path d="M172.8,421.1L195.5,462.1" stroke="#c8c8c8" stroke-width="23.0"/><path d="M150.0,380.0L105.7,391.9" stroke="#e2a0a0" stroke-width="23.0"/><path d="M105.7,391.9L61.3,403.8" stroke="#c8c8c8" stroke-width="23.0"/><path d="M270.0,420.0L297.2,410.6" stroke="#e2a0a0" stroke-width="23.0"/><path d="M297.2,410.6L324.4,401.3" stroke="#c8c8c8" stroke-width="23.0"/><path d="M270.0,420.0L272.6,449.1" stroke="#e2a0a0" stroke-width="23.0"/><path d="M272.6,449.1L275.1,478.2" stroke="#c8c8c8" stroke-width="23.0"/><path d="M260.0,480.0L257.9,510.1" stroke="#e2a0a0" stroke-width="23.0"/><path d="M257.9,510.1L255.8,540.3" stroke="#c8c8c8" stroke-width="23.0"/><path d="M260.0,480.0L230.4,470.4" stroke="#e2a0a0" stroke-width="23.0"/><path d="M230.4,470.4L200.8,460.8" stroke="#c8c8c8" stroke-width="23.0"/><path d="M130.0,540.0L156.8,573.1" stroke="#e2a0a0" stroke-width="23.0"/><path d="M156.8,573.1L183.6,606.2" stroke="#c8c8c8" stroke-width="23.0"/><path d="M130.0,540.0L86.8,560.1" stroke="#e2a0a0" stroke-width="23.0"/><path d="M86.8,560.1L43.7,580.3" stroke="#c8c8c8" stroke-width="23.0"/><path d="M240.0,580.0L230.1,533.2" stroke="#e2a0a0" stroke-width="23.0"/><path d="M230.1,533.2L220.1,486.4" stroke="#c8c8c8" stroke-width="23.0"/><path d="M240.0,580.0L287.1,581.6" stroke="#e2a0a0" stroke-width="23.0"/><path d="M287.1,581.6L334.3,583.3" stroke="#c8c8c8" stroke-width="23.0"/><path d="M30.0,440.0L29.4,475.9" stroke="#e2a0a0" stroke-width="23.0"/><path d="M29.4,475.9L28.7,511.9" stroke="#c8c8c8" stroke-width="23.0"/><path d="M30.0,440.0L-14.6,428.1" stroke="#e2a0a0" stroke-width="23.0"/><path d="M-14.6,428.1L-59.3,416.1" stroke="#c8c8c8" stroke-width="23.0"/><path d="M280.0,700.0L238.1,683.0" stroke="#e2a0a0" stroke-width="23.0"/><path d="M238.1,683.0L196.2,666.1" stroke="#c8c8c8" stroke-width="23.0"/><path d="M280.0,700.0L305.6,664.7" stroke="#e2a0a0" stroke-width="23.0"/><path d="M305.6,664.7L331.3,629.4" stroke="#c8c8c8" stroke-width="23.0"/><path d="M150.0,790.0L139.1,756.4" stroke="#e2a0a0" stroke-width="23.0"/><path d="M139.1,756.4L128.1,722.7" stroke="#c8c8c8" stroke-width="23.0"/><path d="M150.0,790.0L180.4,787.9" stroke="#e2a0a0" stroke-width="23.0"/><path d="M180.4,787.9L210.8,785.7" stroke="#c8c8c8" stroke-width="23.0"/><path d="M220.0,820.0L199.0,840.3" stroke="#e2a0a0" stroke-width="23.0"/><path d="M199.0,840.3L178.0,860.6" stroke="#c8c8c8" stroke-width="23.0"/><path d="M220.0,820.0L197.6,781.2" stroke="#e2a0a0" stroke-width="23.0"/><path d="M197.6,781.2L175.2,742.4" stroke="#c8c8c8" stroke-width="23.0"/><path d="M130.0,900.0L132.4,945.5" stroke="#e2a0a0" stroke-width="23.0"/><path d="M132.4,945.5L134.8,991.1" stroke="#c8c8c8" stroke-width="23.0"/><path d="M130.0,900.0L101.3,894.5" stroke="#e2a0a0" stroke-width="23.0"/><path d="M101.3,894.5L72.7,888.9" stroke="#c8c8c8" stroke-width="23.0"/><path d="M40.0,910.0L-6.4,909.2" stroke="#e2a0a0" stroke-width="23.0"/><path d="M-6.4,909.2L-52.9,908.4" stroke="#c8c8c8" stroke-width="23.0"/><path d="M40.0,910.0L51.7,866.2" stroke="#e2a0a0" stroke-width="23.0"/><path d="M51.7,866.2L63.4,822.5" stroke="#c8c8c8" stroke-width="23.0"/><path d="M180.0,1030.0L155.5,1054.5" stroke="#e2a0a0" stroke-width="23.0"/><path d="M155.5,1054.5L131.0,1079.0" stroke="#c8c8c8" stroke-width="23.0"/><path d="M180.0,1030.0L160.9,998.2" stroke="#e2a0a0" stroke-width="23.0"/><path d="M160.9,998.2L141.9,966.5" stroke="#c8c8c8" stroke-width="23.0"/><path d="M380.0,1050.0L342.9,1022.0" stroke="#e2a0a0" stroke-width="23.0"/><path d="M342.9,1022.0L305.7,994.0" stroke="#c8c8c8" stroke-width="23.0"/><path d="M380.0,1050.0L409.4,1026.2" stroke="#e2a0a0" stroke-width="23.0"/><path d="M409.4,1026.2L438.8,1002.4" stroke="#c8c8c8" stroke-width="23.0"/><path d="M590.0,130.0L622.0,117.0" stroke="#e2a0a0" stroke-width="23.0"/><path d="M622.0,117.0L654.1,104.1" stroke="#c8c8c8" stroke-width="23.0"/><path d="M590.0,130.0L595.1,166.6" stroke="#e2a0a0" stroke-width="23.0"/><path d="M595.1,166.6L600.3,203.1" stroke="#c8c8c8" stroke-width="23.0"/><path d="M600.0,240.0L635.6,262.3" stroke="#e2a0a0" stroke-width="23.0"/><path d="M635.6,262.3L671.3,284.6" stroke="#c8c8c8" stroke-width="23.0"/><path d="M600.0,240.0L577.0,262.1" stroke="#e2a0a0" stroke-width="23.0"/><path d="M577.0,262.1L554.1,284.3" stroke="#c8c8c8" stroke-width="23.0"/><path d="M720.0,330.0L710.7,360.4" stroke="#e2a0a0" stroke-width="23.0"/><path d="M710.7,360.4L701.4,390.9" stroke="#c8c8c8" stroke-width="23.0"/><path d="M720.0,330.0L685.0,309.0" stroke="#e2a0a0" stroke-width="23.0"/><path d="M685.0,309.0L650.1,288.0" stroke="#c8c8c8" stroke-width="23.0"/><path d="M640.0,300.0L606.3,319.4" stroke="#e2a0a0" stroke-width="23.0"/><path d="M606.3,319.4L572.6,338.9" stroke="#c8c8c8" stroke-width="23.0"/><path d="M640.0,300.0L628.2,258.9" stroke="#e2a0a0" stroke-width="23.0"/><path d="M628.2,258.9L616.5,217.9" stroke="#c8c8c8" stroke-width="23.0"/><path d="M470.0,390.0L468.9,357.3" stroke="#e2a0a0" stroke-width="23.0"/><path d="M468.9,357.3L467.7,324.6" stroke="#c8c8c8" stroke-width="23.0"/><path d="M470.0,390.0L518.4,400.3" stroke="#e2a0a0" stroke-width="23.0"/><path d="M518.4,400.3L566.8,410.6" stroke="#c8c8c8" stroke-width="23.0"/><path d="M920.0,230.0L877.4,232.2" stroke="#e2a0a0" stroke-width="23.0"/><path d="M877.4,232.2L834.8,234.5" stroke="#c8c8c8" stroke-width="23.0"/><path d="M920.0,230.0L929.1,183.2" stroke="#e2a0a0" stroke-width="23.0"/><path d="M929.1,183.2L938.2,136.3" stroke="#c8c8c8" stroke-width="23.0"/><path d="M1020.0,380.0L1033.0,347.8" stroke="#e2a0a0" stroke-width="23.0"/><path d="M1033.0,347.8L1046.0,315.5" stroke="#c8c8c8" stroke-width="23.0"/><path d="M1020.0,380.0L1044.0,397.4" stroke="#e2a0a0" stroke-width="23.0"/><path d="M1044.0,397.4L1068.0,414.9" stroke="#c8c8c8" stroke-width="23.0"/><path d="M830.0,520.0L849.8,552.9" stroke="#e2a0a0" stroke-width="23.0"/><path d="M849.8,552.9L869.5,585.7" stroke="#c8c8c8" stroke-width="23.0"/><path d="M830.0,520.0L782.7,534.5" stroke="#e2a0a0" stroke-width="23.0"/><path d="M782.7,534.5L735.4,548.9" stroke="#c8c8c8" stroke-width="23.0"/><path d="M1040.0,530.0L1005.9,528.2" stroke="#e2a0a0" stroke-width="23.0"/><path d="M1005.9,528.2L971.7,526.4" stroke="#c8c8c8" stroke-width="23.0"/><path d="M1040.0,530.0L1048.5,502.4" stroke="#e2a0a0" stroke-width="23.0"/><path d="M1048.5,502.4L1056.9,474.7" stroke="#c8c8c8" stroke-width="23.0"/><path d="M1060.0,880.0L1098.5,861.2" stroke="#e2a0a0" stroke-width="23.0"/><path d="M1098.5,861.2L1136.9,842.5" stroke="#c8c8c8" stroke-width="23.0"/><path d="M1060.0,880.0L1068.4,919.5" stroke="#e2a0a0" stroke-width="23.0"/><path d="M1068.4,919.5L1076.8,959.0" stroke="#c8c8c8" stroke-width="23.0"/><path d="M660.0,990.0L663.8,947.3" stroke="#e2a0a0" stroke-width="23.0"/><path d="M663.8,947.3L667.5,904.6" stroke="#c8c8c8" stroke-width="23.0"/><path d="M660.0,990.0L705.4,1005.6" stroke="#e2a0a0" stroke-width="23.0"/><path d="M705.4,1005.6L750.7,1021.2" stroke="#c8c8c8" stroke-width="23.0"/><path d="M930.0,1000.0L915.0,1029.5" stroke="#e2a0a0" stroke-width="23.0"/><path d="M915.0,1029.5L899.9,1059.1" stroke="#c8c8c8" stroke-width="23.0"/><path d="M930.0,1000.0L897.9,972.0" stroke="#e2a0a0" stroke-width="23.0"/><path d="M897.9,972.0L865.7,944.1" stroke="#c8c8c8" stroke-width="23.0"/><path d="M700.0,1080.0L676.5,1112.3" stroke="#e2a0a0" stroke-width="23.0"/><path d="M676.5,1112.3L653.1,1144.6" stroke="#c8c8c8" stroke-width="23.0"/><path d="M700.0,1080.0L681.3,1057.8" stroke="#e2a0a0" stroke-width="23.0"/><path d="M681.3,1057.8L662.6,1035.5" stroke="#c8c8c8" stroke-width="23.0"/><path d="M1040.0,1140.0L1042.2,1108.3" stroke="#e2a0a0" stroke-width="23.0"/><path d="M1042.2,1108.3L1044.4,1076.6" stroke="#c8c8c8" stroke-width="23.0"/><path d="M1040.0,1140.0L1085.8,1154.9" stroke="#e2a0a0" stroke-width="23.0"/><path d="M1085.8,1154.9L1131.7,1169.8" stroke="#c8c8c8" stroke-width="23.0"/><path d="M1150.0,1220.0L1137.3,1192.9" stroke="#e2a0a0" stroke-width="23.0"/><path d="M1137.3,1192.9L1124.7,1165.8" stroke="#c8c8c8" stroke-width="23.0"/><path d="M1150.0,1220.0L1194.8,1211.3" stroke="#e2a0a0" stroke-width="23.0"/><path d="M1194.8,1211.3L1239.7,1202.6" stroke="#c8c8c8" stroke-width="23.0"/><path d="M870.0,1260.0L842.2,1299.7" stroke="#e2a0a0" stroke-width="23.0"/><path d="M842.2,1299.7L814.5,1339.3" stroke="#c8c8c8" stroke-width="23.0"/><path d="M870.0,1260.0L838.6,1223.9" stroke="#e2a0a0" stroke-width="23.0"/><path d="M838.6,1223.9L807.2,1187.8" stroke="#c8c8c8" stroke-width="23.0"/><path d="M1090.0,1260.0L1100.1,1233.7" stroke="#e2a0a0" stroke-width="23.0"/><path d="M1100.1,1233.7L1110.2,1207.3" stroke="#c8c8c8" stroke-width="23.0"/><path d="M1090.0,1260.0L1113.3,1276.3" stroke="#e2a0a0" stroke-width="23.0"/><path d="M1113.3,1276.3L1136.6,1292.7" stroke="#c8c8c8" stroke-width="23.0"/><path d="M770.0,1300.0L755.6,1276.1" stroke="#e2a0a0" stroke-width="23.0"/><path d="M755.6,1276.1L741.3,1252.2" stroke="#c8c8c8" stroke-width="23.0"/><path d="M770.0,1300.0L796.8,1291.8" stroke="#e2a0a0" stroke-width="23.0"/><path d="M796.8,1291.8L823.5,1283.6" stroke="#c8c8c8" stroke-width="23.0"/><path d="M420.0,1390.0L399.2,1422.0" stroke="#e2a0a0" stroke-width="23.0"/><path d="M399.2,1422.0L378.4,1454.0" stroke="#c8c8c8" stroke-width="23.0"/><path d="M420.0,1390.0L396.6,1365.0" stroke="#e2a0a0" stroke-width="23.0"/><path d="M396.6,1365.0L373.3,1339.9" stroke="#c8c8c8" stroke-width="23.0"/><path d="M560.0,1440.0L534.5,1418.6" stroke="#e2a0a0" stroke-width="23.0"/><path d="M534.5,1418.6L509.0,1397.2" stroke="#c8c8c8" stroke-width="23.0"/><path d="M560.0,1440.0L588.5,1419.3" stroke="#e2a0a0" stroke-width="23.0"/><path d="M588.5,1419.3L616.9,1398.6" stroke="#c8c8c8" stroke-width="23.0"/><path d="M900.0,1420.0L880.2,1454.2" stroke="#e2a0a0" stroke-width="23.0"/><path d="M880.2,1454.2L860.5,1488.4" stroke="#c8c8c8" stroke-width="23.0"/><path d="M900.0,1420.0L874.1,1395.0" stroke="#e2a0a0" stroke-width="23.0"/><path d="M874.1,1395.0L848.3,1370.0" stroke="#c8c8c8" stroke-width="23.0"/><path d="M1200.0,1470.0L1224.3,1435.2" stroke="#e2a0a0" stroke-width="23.0"/><path d="M1224.3,1435.2L1248.7,1400.5" stroke="#c8c8c8" stroke-width="23.0"/><path d="M1200.0,1470.0L1231.1,1505.8" stroke="#e2a0a0" stroke-width="23.0"/><path d="M1231.1,1505.8L1262.2,1541.5" stroke="#c8c8c8" stroke-width="23.0"/><path d="M1200.0,980.0L1168.2,947.0" stroke="#e2a0a0" stroke-width="23.0"/><path d="M1168.2,947.0L1136.4,914.1" stroke="#c8c8c8" stroke-width="23.0"/><path d="M1200.0,980.0L1238.5,957.8" stroke="#e2a0a0" stroke-width="23.0"/><path d="M1238.5,957.8L1276.9,935.6" stroke="#c8c8c8" stroke-width="23.0"/><path d="M1180.0,1160.0L1186.8,1111.3" stroke="#e2a0a0" stroke-width="23.0"/><path d="M1186.8,1111.3L1193.7,1062.7" stroke="#c8c8c8" stroke-width="23.0"/><path d="M1180.0,1160.0L1211.4,1172.7" stroke="#e2a0a0" stroke-width="23.0"/><path d="M1211.4,1172.7L1242.8,1185.4" stroke="#c8c8c8" stroke-width="23.0"/><path d="M30.0,1240.0L47.4,1261.5" stroke="#e2a0a0" stroke-width="23.0"/><path d="M47.4,1261.5L64.8,1283.0" stroke="#c8c8c8" stroke-width="23.0"/><path d="M30.0,1240.0L4.9,1251.7" stroke="#e2a0a0" stroke-width="23.0"/><path d="M4.9,1251.7L-20.2,1263.4" stroke="#c8c8c8" stroke-width="23.0"/><path d="M240.0,1420.0L270.8,1410.0" stroke="#e2a0a0" stroke-width="23.0"/><path d="M270.8,1410.0L301.6,1400.0" stroke="#c8c8c8" stroke-width="23.0"/><path d="M240.0,1420.0L243.4,1469.0" stroke="#e2a0a0" stroke-width="23.0"/><path d="M243.4,1469.0L246.8,1517.9" stroke="#c8c8c8" stroke-width="23.0"/><path d="M660.0,1400.0L651.4,1430.0" stroke="#e2a0a0" stroke-width="23.0"/><path d="M651.4,1430.0L642.8,1460.1" stroke="#c8c8c8" stroke-width="23.0"/><path d="M660.0,1400.0L631.8,1383.8" stroke="#e2a0a0" stroke-width="23.0"/><path d="M631.8,1383.8L603.6,1367.5" stroke="#c8c8c8" stroke-width="23.0"/><path d="M1160.0,280.0L1166.9,252.2" stroke="#e2a0a0" stroke-width="23.0"/><path d="M1166.9,252.2L1173.8,224.5" stroke="#c8c8c8" stroke-width="23.0"/><path d="M1160.0,280.0L1198.8,300.6" stroke="#e2a0a0" stroke-width="23.0"/><path d="M1198.8,300.6L1237.6,321.3" stroke="#c8c8c8" stroke-width="23.0"/><path d="M780.0,40.0L818.6,44.0" stroke="#e2a0a0" stroke-width="23.0"/><path d="M818.6,44.0L857.3,48.1" stroke="#c8c8c8" stroke-width="23.0"/><path d="M780.0,40.0L765.4,80.1" stroke="#e2a0a0" stroke-width="23.0"/><path d="M765.4,80.1L750.8,120.2" stroke="#c8c8c8" stroke-width="23.0"/><path d="M1100.0,30.0L1065.5,49.1" stroke="#e2a0a0" stroke-width="23.0"/><path d="M1065.5,49.1L1030.9,68.3" stroke="#c8c8c8" stroke-width="23.0"/><path d="M1100.0,30.0L1090.7,-4.8" stroke="#e2a0a0" stroke-width="23.0"/><path d="M1090.7,-4.8L1081.4,-39.6" stroke="#c8c8c8" stroke-width="23.0"/><path d="M860.0,820.0L836.5,850.0" stroke="#e2a0a0" stroke-width="23.0"/><path d="M836.5,850.0L813.1,880.0" stroke="#c8c8c8" stroke-width="23.0"/><path d="M860.0,820.0L834.4,787.2" stroke="#e2a0a0" stroke-width="23.0"/><path d="M834.4,787.2L808.7,754.4" stroke="#c8c8c8" stroke-width="23.0"/><path d="M520.0,700.0L478.9,720.0" stroke="#e2a0a0" stroke-width="23.0"/><path d="M478.9,720.0L437.8,740.1" stroke="#c8c8c8" stroke-width="23.0"/><path d="M520.0,700.0L512.4,664.0" stroke="#e2a0a0" stroke-width="23.0"/><path d="M512.4,664.0L504.7,628.0" stroke="#c8c8c8" stroke-width="23.0"/><path d="M30.0,650.0L65.0,664.1" stroke="#e2a0a0" stroke-width="23.0"/><path d="M65.0,664.1L99.9,678.2" stroke="#c8c8c8" stroke-width="23.0"/><path d="M30.0,650.0L5.8,683.2" stroke="#e2a0a0" stroke-width="23.0"/><path d="M5.8,683.2L-18.3,716.5" stroke="#c8c8c8" stroke-width="23.0"/><path d="M1190.0,600.0L1210.7,629.5" stroke="#e2a0a0" stroke-width="23.0"/><path d="M1210.7,629.5L1231.3,659.0" stroke="#c8c8c8" stroke-width="23.0"/><path d="M1190.0,600.0L1146.7,616.6" stroke="#e2a0a0" stroke-width="23.0"/><path d="M1146.7,616.6L1103.4,633.2" stroke="#c8c8c8" stroke-width="23.0"/><circle cx="290.0" cy="1200.0" r="31.0" fill="url(#gpb)"/><circle cx="355.0" cy="1230.0" r="30.0" fill="url(#gi)"/><circle cx="640.0" cy="1270.0" r="30.0" fill="url(#gi)"/><circle cx="50.0" cy="1300.0" r="31.0" fill="url(#gpb)"/><circle cx="1105.0" cy="955.0" r="30.0" fill="url(#gi)"/><circle cx="20.0" cy="250.0" r="30.0" fill="url(#gi)"/><circle cx="140.0" cy="1060.0" r="19.0" fill="url(#gh)"/><circle cx="60.0" cy="1200.0" r="19.0" fill="url(#gh)"/><circle cx="10.0" cy="1080.0" r="19.0" fill="url(#gh)"/><circle cx="40.0" cy="1130.0" r="24.0" fill="url(#gn)"/><circle cx="100.0" cy="1090.0" r="22.0" fill="url(#gc)"/><circle cx="111.9" cy="15.9" r="13.0" fill="url(#gh)"/><circle cx="117.3" cy="155.9" r="13.0" fill="url(#gh)"/><circle cx="60.0" cy="90.0" r="23.0" fill="url(#go)"/><circle cx="22.6" cy="214.5" r="13.0" fill="url(#gh)"/><circle cx="83.6" cy="86.8" r="13.0" fill="url(#gh)"/><circle cx="100.0" cy="180.0" r="23.0" fill="url(#go)"/><circle cx="179.6" cy="220.1" r="13.0" fill="url(#gh)"/><circle cx="281.0" cy="241.6" r="13.0" fill="url(#gh)"/><circle cx="220.0" cy="270.0" r="23.0" fill="url(#go)"/><circle cx="195.5" cy="462.1" r="13.0" fill="url(#gh)"/><circle cx="61.3" cy="403.8" r="13.0" fill="url(#gh)"/><circle cx="150.0" cy="380.0" r="23.0" fill="url(#go)"/><circle cx="324.4" cy="401.3" r="13.0" fill="url(#gh)"/><circle cx="275.1" cy="478.2" r="13.0" fill="url(#gh)"/><circle cx="270.0" cy="420.0" r="23.0" fill="url(#go)"/><circle cx="255.8" cy="540.3" r="13.0" fill="url(#gh)"/><circle cx="200.8" cy="460.8" r="13.0" fill="url(#gh)"/><circle cx="260.0" cy="480.0" r="23.0" fill="url(#go)"/><circle cx="183.6" cy="606.2" r="13.0" fill="url(#gh)"/><circle cx="43.7" cy="580.3" r="13.0" fill="url(#gh)"/><circle cx="130.0" cy="540.0" r="23.0" fill="url(#go)"/><circle cx="220.1" cy="486.4" r="13.0" fill="url(#gh)"/><circle cx="334.3" cy="583.3" r="13.0" fill="url(#gh)"/><circle cx="240.0" cy="580.0" r="23.0" fill="url(#go)"/><circle cx="28.7" cy="511.9" r="13.0" fill="url(#gh)"/><circle cx="-59.3" cy="416.1" r="13.0" fill="url(#gh)"/><circle cx="30.0" cy="440.0" r="23.0" fill="url(#go)"/><circle cx="196.2" cy="666.1" r="13.0" fill="url(#gh)"/><circle cx="331.3" cy="629.4" r="13.0" fill="url(#gh)"/><circle cx="280.0" cy="700.0" r="23.0" fill="url(#go)"/><circle cx="128.1" cy="722.7" r="13.0" fill="url(#gh)"/><circle cx="210.8" cy="785.7" r="13.0" fill="url(#gh)"/><circle cx="150.0" cy="790.0" r="23.0" fill="url(#go)"/><circle cx="178.0" cy="860.6" r="13.0" fill="url(#gh)"/><circle cx="175.2" cy="742.4" r="13.0" fill="url(#gh)"/><circle cx="220.0" cy="820.0" r="23.0" fill="url(#go)"/><circle cx="134.8" cy="991.1" r="13.0" fill="url(#gh)"/><circle cx="72.7" cy="888.9" r="13.0" fill="url(#gh)"/><circle cx="130.0" cy="900.0" r="23.0" fill="url(#go)"/><circle cx="-52.9" cy="908.4" r="13.0" fill="url(#gh)"/><circle cx="63.4" cy="822.5" r="13.0" fill="url(#gh)"/><circle cx="40.0" cy="910.0" r="23.0" fill="url(#go)"/><circle cx="131.0" cy="1079.0" r="13.0" fill="url(#gh)"/><circle cx="141.9" cy="966.5" r="13.0" fill="url(#gh)"/><circle cx="180.0" cy="1030.0" r="23.0" fill="url(#go)"/><circle cx="305.7" cy="994.0" r="13.0" fill="url(#gh)"/><circle cx="438.8" cy="1002.4" r="13.0" fill="url(#gh)"/><circle cx="380.0" cy="1050.0" r="23.0" fill="url(#go)"/><circle cx="654.1" cy="104.1" r="13.0" fill="url(#gh)"/><circle cx="600.3" cy="203.1" r="13.0" fill="url(#gh)"/><circle cx="590.0" cy="130.0" r="23.0" fill="url(#go)"/><circle cx="671.3" cy="284.6" r="13.0" fill="url(#gh)"/><circle cx="554.1" cy="284.3" r="13.0" fill="url(#gh)"/><circle cx="600.0" cy="240.0" r="23.0" fill="url(#go)"/><circle cx="701.4" cy="390.9" r="13.0" fill="url(#gh)"/><circle cx="650.1" cy="288.0" r="13.0" fill="url(#gh)"/><circle cx="720.0" cy="330.0" r="23.0" fill="url(#go)"/><circle cx="572.6" cy="338.9" r="13.0" fill="url(#gh)"/><circle cx="616.5" cy="217.9" r="13.0" fill="url(#gh)"/><circle cx="640.0" cy="300.0" r="23.0" fill="url(#go)"/><circle cx="467.7" cy="324.6" r="13.0" fill="url(#gh)"/><circle cx="566.8" cy="410.6" r="13.0" fill="url(#gh)"/><circle cx="470.0" cy="390.0" r="23.0" fill="url(#go)"/><circle cx="834.8" cy="234.5" r="13.0" fill="url(#gh)"/><circle cx="938.2" cy="136.3" r="13.0" fill="url(#gh)"/><circle cx="920.0" cy="230.0" r="23.0" fill="url(#go)"/><circle cx="1046.0" cy="315.5" r="13.0" fill="url(#gh)"/><circle cx="1068.0" cy="414.9" r="13.0" fill="url(#gh)"/><circle cx="1020.0" cy="380.0" r="23.0" fill="url(#go)"/><circle cx="869.5" cy="585.7" r="13.0" fill="url(#gh)"/><circle cx="735.4" cy="548.9" r="13.0" fill="url(#gh)"/><circle cx="830.0" cy="520.0" r="23.0" fill="url(#go)"/><circle cx="971.7" cy="526.4" r="13.0" fill="url(#gh)"/><circle cx="1056.9" cy="474.7" r="13.0" fill="url(#gh)"/><circle cx="1040.0" cy="530.0" r="23.0" fill="url(#go)"/><circle cx="1136.9" cy="842.5" r="13.0" fill="url(#gh)"/><circle cx="1076.8" cy="959.0" r="13.0" fill="url(#gh)"/><circle cx="1060.0" cy="880.0" r="23.0" fill="url(#go)"/><circle cx="667.5" cy="904.6" r="13.0" fill="url(#gh)"/><circle cx="750.7" cy="1021.2" r="13.0" fill="url(#gh)"/><circle cx="660.0" cy="990.0" r="23.0" fill="url(#go)"/><circle cx="899.9" cy="1059.1" r="13.0" fill="url(#gh)"/><circle cx="865.7" cy="944.1" r="13.0" fill="url(#gh)"/><circle cx="930.0" cy="1000.0" r="23.0" fill="url(#go)"/><circle cx="653.1" cy="1144.6" r="13.0" fill="url(#gh)"/><circle cx="662.6" cy="1035.5" r="13.0" fill="url(#gh)"/><circle cx="700.0" cy="1080.0" r="23.0" fill="url(#go)"/><circle cx="1044.4" cy="1076.6" r="13.0" fill="url(#gh)"/><circle cx="1131.7" cy="1169.8" r="13.0" fill="url(#gh)"/><circle cx="1040.0" cy="1140.0" r="23.0" fill="url(#go)"/><circle cx="1124.7" cy="1165.8" r="13.0" fill="url(#gh)"/><circle cx="1239.7" cy="1202.6" r="13.0" fill="url(#gh)"/><circle cx="1150.0" cy="1220.0" r="23.0" fill="url(#go)"/><circle cx="814.5" cy="1339.3" r="13.0" fill="url(#gh)"/><circle cx="807.2" cy="1187.8" r="13.0" fill="url(#gh)"/><circle cx="870.0" cy="1260.0" r="23.0" fill="url(#go)"/><circle cx="1110.2" cy="1207.3" r="13.0" fill="url(#gh)"/><circle cx="1136.6" cy="1292.7" r="13.0" fill="url(#gh)"/><circle cx="1090.0" cy="1260.0" r="23.0" fill="url(#go)"/><circle cx="741.3" cy="1252.2" r="13.0" fill="url(#gh)"/><circle cx="823.5" cy="1283.6" r="13.0" fill="url(#gh)"/><circle cx="770.0" cy="1300.0" r="23.0" fill="url(#go)"/><circle cx="378.4" cy="1454.0" r="13.0" fill="url(#gh)"/><circle cx="373.3" cy="1339.9" r="13.0" fill="url(#gh)"/><circle cx="420.0" cy="1390.0" r="23.0" fill="url(#go)"/><circle cx="509.0" cy="1397.2" r="13.0" fill="url(#gh)"/><circle cx="616.9" cy="1398.6" r="13.0" fill="url(#gh)"/><circle cx="560.0" cy="1440.0" r="23.0" fill="url(#go)"/><circle cx="860.5" cy="1488.4" r="13.0" fill="url(#gh)"/><circle cx="848.3" cy="1370.0" r="13.0" fill="url(#gh)"/><circle cx="900.0" cy="1420.0" r="23.0" fill="url(#go)"/><circle cx="1248.7" cy="1400.5" r="13.0" fill="url(#gh)"/><circle cx="1262.2" cy="1541.5" r="13.0" fill="url(#gh)"/><circle cx="1200.0" cy="1470.0" r="23.0" fill="url(#go)"/><circle cx="1136.4" cy="914.1" r="13.0" fill="url(#gh)"/><circle cx="1276.9" cy="935.6" r="13.0" fill="url(#gh)"/><circle cx="1200.0" cy="980.0" r="23.0" fill="url(#go)"/><circle cx="1193.7" cy="1062.7" r="13.0" fill="url(#gh)"/><circle cx="1242.8" cy="1185.4" r="13.0" fill="url(#gh)"/><circle cx="1180.0" cy="1160.0" r="23.0" fill="url(#go)"/><circle cx="64.8" cy="1283.0" r="13.0" fill="url(#gh)"/><circle cx="-20.2" cy="1263.4" r="13.0" fill="url(#gh)"/><circle cx="30.0" cy="1240.0" r="23.0" fill="url(#go)"/><circle cx="301.6" cy="1400.0" r="13.0" fill="url(#gh)"/><circle cx="246.8" cy="1517.9" r="13.0" fill="url(#gh)"/><circle cx="240.0" cy="1420.0" r="23.0" fill="url(#go)"/><circle cx="642.8" cy="1460.1" r="13.0" fill="url(#gh)"/><circle cx="603.6" cy="1367.5" r="13.0" fill="url(#gh)"/><circle cx="660.0" cy="1400.0" r="23.0" fill="url(#go)"/><circle cx="1173.8" cy="224.5" r="13.0" fill="url(#gh)"/><circle cx="1237.6" cy="321.3" r="13.0" fill="url(#gh)"/><circle cx="1160.0" cy="280.0" r="23.0" fill="url(#go)"/><circle cx="857.3" cy="48.1" r="13.0" fill="url(#gh)"/><circle cx="750.8" cy="120.2" r="13.0" fill="url(#gh)"/><circle cx="780.0" cy="40.0" r="23.0" fill="url(#go)"/><circle cx="1030.9" cy="68.3" r="13.0" fill="url(#gh)"/><circle cx="1081.4" cy="-39.6" r="13.0" fill="url(#gh)"/><circle cx="1100.0" cy="30.0" r="23.0" fill="url(#go)"/><circle cx="813.1" cy="880.0" r="13.0" fill="url(#gh)"/><circle cx="808.7" cy="754.4" r="13.0" fill="url(#gh)"/><circle cx="860.0" cy="820.0" r="23.0" fill="url(#go)"/><circle cx="437.8" cy="740.1" r="13.0" fill="url(#gh)"/><circle cx="504.7" cy="628.0" r="13.0" fill="url(#gh)"/><circle cx="520.0" cy="700.0" r="23.0" fill="url(#go)"/><circle cx="99.9" cy="678.2" r="13.0" fill="url(#gh)"/><circle cx="-18.3" cy="716.5" r="13.0" fill="url(#gh)"/><circle cx="30.0" cy="650.0" r="23.0" fill="url(#go)"/><circle cx="1231.3" cy="659.0" r="13.0" fill="url(#gh)"/><circle cx="1103.4" cy="633.2" r="13.0" fill="url(#gh)"/><circle cx="1190.0" cy="600.0" r="23.0" fill="url(#go)"/><circle cx="1190.0" cy="555.0" r="8.0" fill="url(#gx)"/><path d="M600.0,745.0L565.0,612.5" stroke="#189c9c" stroke-width="14.0"/><path d="M565.0,612.5L530.0,480.0" stroke="#d40000" stroke-width="14.0"/><path d="M600.0,745.0L765.0,660.0" stroke="#189c9c" stroke-width="14.0"/><path d="M765.0,660.0L930.0,575.0" stroke="#d40000" stroke-width="14.0"/><path d="M600.0,745.0L780.0,742.5" stroke="#189c9c" stroke-width="14.0"/><path d="M780.0,742.5L960.0,740.0" stroke="#d40000" stroke-width="14.0"/><path d="M600.0,745.0L672.5,807.5" stroke="#189c9c" stroke-width="14.0"/><path d="M672.5,807.5L745.0,870.0" stroke="#d40000" stroke-width="14.0"/><path d="M600.0,745.0L452.5,782.5" stroke="#189c9c" stroke-width="16.0"/><path d="M452.5,782.5L305.0,820.0" stroke="#9a0a8a" stroke-width="16.0"/><path d="M600.0,745.0L587.5,852.5" stroke="#189c9c" stroke-width="16.0"/><path d="M587.5,852.5L575.0,960.0" stroke="#9a0a8a" stroke-width="16.0"/><path d="M530.0,480.0L482.5,457.5" stroke="#d40000" stroke-width="10.0"/><path d="M482.5,457.5L435.0,435.0" stroke="#e8e000" stroke-width="10.0"/><path d="M530.0,480.0L547.5,437.5" stroke="#d40000" stroke-width="10.0"/><path d="M547.5,437.5L565.0,395.0" stroke="#e8e000" stroke-width="10.0"/><path d="M930.0,575.0L992.5,575.0" stroke="#d40000" stroke-width="10.0"/><path d="M992.5,575.0L1055.0,575.0" stroke="#e8e000" stroke-width="10.0"/><path d="M930.0,575.0L915.0,605.0" stroke="#d40000" stroke-width="10.0"/><path d="M915.0,605.0L900.0,635.0" stroke="#e8e000" stroke-width="10.0"/><path d="M960.0,740.0L955.0,702.5" stroke="#d40000" stroke-width="10.0"/><path d="M955.0,702.5L950.0,665.0" stroke="#e8e000" stroke-width="10.0"/><path d="M960.0,740.0L975.0,715.0" stroke="#d40000" stroke-width="10.0"/><path d="M975.0,715.0L990.0,690.0" stroke="#e8e000" stroke-width="10.0"/><path d="M745.0,870.0L800.0,860.0" stroke="#d40000" stroke-width="10.0"/><path d="M800.0,860.0L855.0,850.0" stroke="#e8e000" stroke-width="10.0"/><path d="M745.0,870.0L715.0,832.5" stroke="#d40000" stroke-width="10.0"/><path d="M715.0,832.5L685.0,795.0" stroke="#e8e000" stroke-width="10.0"/><circle cx="435.0" cy="435.0" r="22.0" fill="url(#gH)"/><circle cx="565.0" cy="395.0" r="22.0" fill="url(#gH)"/><circle cx="530.0" cy="480.0" r="38.0" fill="url(#gO)"/><circle cx="1055.0" cy="575.0" r="22.0" fill="url(#gH)"/><circle cx="930.0" cy="575.0" r="38.0" fill="url(#gO)"/><circle cx="900.0" cy="635.0" r="22.0" fill="url(#gH)"/><circle cx="950.0" cy="665.0" r="22.0" fill="url(#gH)"/><circle cx="990.0" cy="690.0" r="22.0" fill="url(#gH)"/><circle cx="960.0" cy="740.0" r="38.0" fill="url(#gO)"/><circle cx="685.0" cy="795.0" r="22.0" fill="url(#gH)"/><circle cx="600.0" cy="745.0" r="50.0" fill="url(#gPb)"/><circle cx="745.0" cy="870.0" r="38.0" fill="url(#gO)"/><circle cx="855.0" cy="850.0" r="22.0" fill="url(#gH)"/><circle cx="305.0" cy="820.0" r="48.0" fill="url(#gI)"/><circle cx="575.0" cy="960.0" r="48.0" fill="url(#gI)"/></g></g></g>
<rect x="830.5" y="513.5" width="336.5" height="411.5" fill="none" stroke="#2a2a2a" stroke-width="2.4"/>
<rect x="1051.4" y="526.4" width="92.7" height="43.7" fill="#ffff00" stroke="#111" stroke-width="2.8"/>
<text x="1097.8" y="558.5" class="ps" text-anchor="middle">8.0 ps</text>
<rect x="134.4" y="998" width="1034.3" height="700" fill="none" stroke="#333" stroke-width="2.2"/>
<path d="M249.3,1698v-11M249.3,998v11 M364.2,1698v-11M364.2,998v11 M479.2,1698v-11M479.2,998v11 M594.1,1698v-11M594.1,998v11 M709.0,1698v-11M709.0,998v11 M823.9,1698v-11M823.9,998v11 M938.8,1698v-11M938.8,998v11 M1053.8,1698v-11M1053.8,998v11 M134.4,1598.0h11M1168.7,1598.0h-11 M134.4,1498.0h11M1168.7,1498.0h-11 M134.4,1398.0h11M1168.7,1398.0h-11 M134.4,1298.0h11M1168.7,1298.0h-11 M134.4,1198.0h11M1168.7,1198.0h-11 M134.4,1098.0h11M1168.7,1098.0h-11" stroke="#333" stroke-width="2"/>
<path d="M134.4,1598.0 L137.9,1598.9 L141.3,1599.9 L144.8,1600.8 L148.2,1601.7 L151.7,1602.6 L155.2,1603.5 L158.6,1604.4 L162.1,1605.2 L165.5,1606.1 L169.0,1606.9 L172.5,1607.7 L175.9,1608.4 L179.4,1609.1 L182.8,1609.8 L186.3,1610.5 L189.8,1611.1 L193.2,1611.7 L196.7,1612.2 L200.1,1612.7 L203.6,1613.1 L207.0,1613.5 L210.5,1613.8 L214.0,1614.1 L217.4,1614.3 L220.9,1614.5 L224.3,1614.6 L227.8,1614.6 L231.3,1614.5 L234.7,1614.4 L238.2,1614.2 L241.6,1613.9 L245.1,1613.5 L248.6,1613.1 L252.0,1612.6 L255.5,1611.9 L258.9,1611.2 L262.4,1610.4 L265.9,1609.5 L269.3,1608.5 L272.8,1607.4 L276.2,1606.2 L279.7,1604.9 L283.2,1603.5 L286.6,1602.0 L290.1,1600.4 L293.5,1598.7 L297.0,1596.9 L300.5,1595.0 L303.9,1593.1 L307.4,1591.0 L310.8,1588.9 L314.3,1586.7 L317.8,1584.4 L321.2,1582.1 L324.7,1579.7 L328.1,1577.2 L331.6,1574.6 L335.1,1572.0 L338.5,1569.3 L342.0,1566.6 L345.4,1563.8 L348.9,1561.0 L352.3,1558.1 L355.8,1555.1 L359.3,1552.1 L362.7,1549.1 L366.2,1546.0 L369.6,1542.9 L373.1,1539.7 L376.6,1536.6 L380.0,1533.3 L383.5,1530.1 L386.9,1526.8 L390.4,1523.5 L393.9,1520.2 L397.3,1516.8 L400.8,1513.5 L404.2,1510.1 L407.7,1506.7 L411.2,1503.3 L414.6,1499.9 L418.1,1496.5 L421.5,1493.0 L425.0,1489.6 L428.5,1486.1 L431.9,1482.6 L435.4,1479.1 L438.8,1475.6 L442.3,1472.1 L445.8,1468.5 L449.2,1464.9 L452.7,1461.2 L456.1,1457.6 L459.6,1453.9 L463.1,1450.1 L466.5,1446.3 L470.0,1442.5 L473.4,1438.6 L476.9,1434.7 L480.3,1430.7 L483.8,1426.7 L487.3,1422.6 L490.7,1418.5 L494.2,1414.3 L497.6,1410.1 L501.1,1405.8 L504.6,1401.4 L508.0,1397.0 L511.5,1392.5 L514.9,1387.9 L518.4,1383.3 L521.9,1378.6 L525.3,1373.8 L528.8,1368.9 L532.2,1364.0 L535.7,1359.0 L539.2,1353.9 L542.6,1348.7 L546.1,1343.4 L549.5,1338.0 L553.0,1332.5 L556.5,1327.0 L559.9,1321.4 L563.4,1315.7 L566.8,1309.9 L570.3,1304.1 L573.8,1298.3 L577.2,1292.4 L580.7,1286.5 L584.1,1280.6 L587.6,1274.8 L591.1,1268.9 L594.5,1263.0 L598.0,1257.1 L601.4,1251.3 L604.9,1245.6 L608.4,1239.9 L611.8,1234.2 L615.3,1228.6 L618.7,1223.1 L622.2,1217.7 L625.6,1212.4 L629.1,1207.2 L632.6,1202.1 L636.0,1197.1 L639.5,1192.3 L642.9,1187.6 L646.4,1183.1 L649.9,1178.7 L653.3,1174.5 L656.8,1170.5 L660.2,1166.7 L663.7,1163.1 L667.2,1159.6 L670.6,1156.4 L674.1,1153.5 L677.5,1150.7 L681.0,1148.2 L684.5,1146.0 L687.9,1144.0 L691.4,1142.3 L694.8,1140.8 L698.3,1139.6 L701.8,1138.7 L705.2,1137.9 L708.7,1137.4 L712.1,1137.1 L715.6,1137.0 L719.1,1137.0 L722.5,1137.2 L726.0,1137.6 L729.4,1138.2 L732.9,1138.8 L736.4,1139.6 L739.8,1140.5 L743.3,1141.6 L746.7,1142.7 L750.2,1143.9 L753.6,1145.1 L757.1,1146.4 L760.6,1147.8 L764.0,1149.2 L767.5,1150.6 L770.9,1152.1 L774.4,1153.5 L777.9,1155.0 L781.3,1156.4 L784.8,1157.8 L788.2,1159.1 L791.7,1160.4 L795.2,1161.7 L798.6,1162.8 L802.1,1163.9 L805.5,1164.8 L809.0,1165.7 L812.5,1166.5 L815.9,1167.1 L819.4,1167.5 L822.8,1167.8 L826.3,1168.0 L829.8,1168.0 L833.2,1167.8 L836.7,1167.4 L840.1,1166.9 L843.6,1166.3 L847.1,1165.5 L850.5,1164.6 L854.0,1163.5 L857.4,1162.4 L860.9,1161.1 L864.4,1159.8 L867.8,1158.3 L871.3,1156.8 L874.7,1155.2 L878.2,1153.5 L881.7,1151.8 L885.1,1150.0 L888.6,1148.2 L892.0,1146.3 L895.5,1144.4 L898.9,1142.5 L902.4,1140.5 L905.9,1138.6 L909.3,1136.6 L912.8,1134.7 L916.2,1132.8 L919.7,1130.9 L923.2,1129.0 L926.6,1127.2 L930.1,1125.4 L933.5,1123.7 L937.0,1122.1 L940.5,1120.5 L943.9,1119.0 L947.4,1117.5 L950.8,1116.2 L954.3,1115.0 L957.8,1113.9 L961.2,1112.9 L964.7,1112.0 L968.2,1111.2 L971.8,1110.6 L975.3,1110.1 L978.9,1109.7 L982.4,1109.5 L986.0,1109.4 L989.5,1109.4 L993.1,1109.5 L996.6,1109.7 L1000.2,1110.0 L1003.7,1110.5 L1007.3,1111.0 L1010.8,1111.6 L1014.4,1112.3 L1017.9,1113.1 L1021.4,1114.0 L1025.0,1115.0 L1028.5,1116.1 L1032.1,1117.2 L1035.6,1118.4 L1039.2,1119.7 L1042.7,1121.0 L1046.3,1122.4 L1049.8,1123.8 L1053.4,1125.3 L1056.9,1126.9 L1060.5,1128.5 L1064.0,1130.1 L1067.6,1131.8 L1071.1,1133.5 L1074.7,1135.3 L1078.2,1137.1 L1081.8,1138.9 L1085.3,1140.7 L1088.9,1142.5 L1092.4,1144.4 L1096.0,1146.2 L1099.5,1148.1 L1103.1,1150.0" fill="none" stroke="#1418b8" stroke-width="2.6"/>
<path d="M128.4,1598.0h12M134.4,1592.0v12" stroke="#1418b8" stroke-width="3"/>
<path d="M266.8,1607.4h12M272.8,1601.4v12" stroke="#1418b8" stroke-width="3"/>
<path d="M405.2,1503.3h12M411.2,1497.3v12" stroke="#1418b8" stroke-width="3"/>
<path d="M543.5,1338.0h12M549.5,1332.0v12" stroke="#1418b8" stroke-width="3"/>
<path d="M681.9,1144.0h12M687.9,1138.0v12" stroke="#1418b8" stroke-width="3"/>
<path d="M820.3,1168.0h12M826.3,1162.0v12" stroke="#1418b8" stroke-width="3"/>
<path d="M958.7,1112.0h12M964.7,1106.0v12" stroke="#1418b8" stroke-width="3"/>
<path d="M1097.1,1150.0h12M1103.1,1144.0v12" stroke="#1418b8" stroke-width="3"/>
<path d="M134.4,1298.0 L137.9,1298.3 L141.3,1298.6 L144.8,1298.8 L148.2,1299.1 L151.7,1299.4 L155.2,1299.7 L158.6,1299.9 L162.1,1300.2 L165.5,1300.5 L169.0,1300.7 L172.5,1301.0 L175.9,1301.3 L179.4,1301.6 L182.8,1301.8 L186.3,1302.1 L189.8,1302.3 L193.2,1302.6 L196.7,1302.9 L200.1,1303.1 L203.6,1303.4 L207.0,1303.6 L210.5,1303.9 L214.0,1304.1 L217.4,1304.4 L220.9,1304.6 L224.3,1304.9 L227.8,1305.1 L231.3,1305.4 L234.7,1305.6 L238.2,1305.8 L241.6,1306.1 L245.1,1306.3 L248.6,1306.5 L252.0,1306.7 L255.5,1307.0 L258.9,1307.2 L262.4,1307.4 L265.9,1307.6 L269.3,1307.8 L272.8,1308.0 L276.2,1308.2 L279.7,1308.4 L283.2,1308.6 L286.6,1308.8 L290.1,1309.0 L293.5,1309.2 L297.0,1309.4 L300.5,1309.7 L303.9,1310.0 L307.4,1310.2 L310.8,1310.6 L314.3,1310.9 L317.8,1311.3 L321.2,1311.7 L324.7,1312.1 L328.1,1312.6 L331.6,1313.1 L335.1,1313.6 L338.5,1314.2 L342.0,1314.9 L345.4,1315.6 L348.9,1316.3 L352.3,1317.1 L355.8,1318.0 L359.3,1318.9 L362.7,1319.9 L366.2,1321.0 L369.6,1322.1 L373.1,1323.3 L376.6,1324.6 L380.0,1326.0 L383.5,1327.4 L386.9,1329.0 L390.4,1330.6 L393.9,1332.3 L397.3,1334.1 L400.8,1336.0 L404.2,1338.0 L407.7,1340.1 L411.2,1342.3 L414.6,1344.6 L418.1,1347.0 L421.5,1349.5 L425.0,1352.1 L428.5,1354.8 L431.9,1357.6 L435.4,1360.5 L438.8,1363.5 L442.3,1366.5 L445.8,1369.6 L449.2,1372.8 L452.7,1376.1 L456.1,1379.4 L459.6,1382.8 L463.1,1386.3 L466.5,1389.8 L470.0,1393.4 L473.4,1397.0 L476.9,1400.7 L480.3,1404.4 L483.8,1408.1 L487.3,1411.9 L490.7,1415.7 L494.2,1419.6 L497.6,1423.5 L501.1,1427.4 L504.6,1431.3 L508.0,1435.3 L511.5,1439.3 L514.9,1443.2 L518.4,1447.2 L521.9,1451.2 L525.3,1455.2 L528.8,1459.2 L532.2,1463.2 L535.7,1467.2 L539.2,1471.2 L542.6,1475.1 L546.1,1479.1 L549.5,1483.0 L553.0,1486.9 L556.5,1490.8 L559.9,1494.6 L563.4,1498.4 L566.8,1502.2 L570.3,1506.0 L573.8,1509.7 L577.2,1513.3 L580.7,1517.0 L584.1,1520.6 L587.6,1524.1 L591.1,1527.6 L594.5,1531.0 L598.0,1534.4 L601.4,1537.8 L604.9,1541.1 L608.4,1544.3 L611.8,1547.5 L615.3,1550.6 L618.7,1553.6 L622.2,1556.6 L625.6,1559.5 L629.1,1562.4 L632.6,1565.1 L636.0,1567.8 L639.5,1570.5 L642.9,1573.0 L646.4,1575.5 L649.9,1577.9 L653.3,1580.2 L656.8,1582.4 L660.2,1584.5 L663.7,1586.5 L667.2,1588.4 L670.6,1590.3 L674.1,1592.0 L677.5,1593.7 L681.0,1595.2 L684.5,1596.7 L687.9,1598.0 L691.4,1599.2 L694.8,1600.4 L698.3,1601.4 L701.8,1602.3 L705.2,1603.1 L708.7,1603.9 L712.1,1604.5 L715.6,1605.1 L719.1,1605.6 L722.5,1606.0 L726.0,1606.3 L729.4,1606.6 L732.9,1606.8 L736.4,1606.9 L739.8,1607.0 L743.3,1607.0 L746.7,1607.0 L750.2,1606.9 L753.6,1606.8 L757.1,1606.6 L760.6,1606.4 L764.0,1606.1 L767.5,1605.8 L770.9,1605.5 L774.4,1605.2 L777.9,1604.8 L781.3,1604.4 L784.8,1604.0 L788.2,1603.6 L791.7,1603.2 L795.2,1602.7 L798.6,1602.3 L802.1,1601.8 L805.5,1601.4 L809.0,1601.0 L812.5,1600.5 L815.9,1600.1 L819.4,1599.7 L822.8,1599.4 L826.3,1599.0 L829.8,1598.7 L833.2,1598.4 L836.7,1598.1 L840.1,1597.8 L843.6,1597.6 L847.1,1597.4 L850.5,1597.2 L854.0,1597.1 L857.4,1596.9 L860.9,1596.8 L864.4,1596.7 L867.8,1596.6 L871.3,1596.5 L874.7,1596.5 L878.2,1596.4 L881.7,1596.4 L885.1,1596.4 L888.6,1596.4 L892.0,1596.4 L895.5,1596.4 L898.9,1596.5 L902.4,1596.5 L905.9,1596.6 L909.3,1596.6 L912.8,1596.7 L916.2,1596.8 L919.7,1596.8 L923.2,1596.9 L926.6,1597.0 L930.1,1597.1 L933.5,1597.2 L937.0,1597.3 L940.5,1597.4 L943.9,1597.5 L947.4,1597.6 L950.8,1597.7 L954.3,1597.8 L957.8,1597.8 L961.2,1597.9 L964.7,1598.0 L968.2,1598.1 L971.8,1598.1 L975.3,1598.2 L978.9,1598.3 L982.4,1598.3 L986.0,1598.4 L989.5,1598.4 L993.1,1598.4 L996.6,1598.5 L1000.2,1598.5 L1003.7,1598.5 L1007.3,1598.5 L1010.8,1598.6 L1014.4,1598.6 L1017.9,1598.6 L1021.4,1598.6 L1025.0,1598.6 L1028.5,1598.6 L1032.1,1598.6 L1035.6,1598.6 L1039.2,1598.5 L1042.7,1598.5 L1046.3,1598.5 L1049.8,1598.5 L1053.4,1598.5 L1056.9,1598.4 L1060.5,1598.4 L1064.0,1598.4 L1067.6,1598.4 L1071.1,1598.3 L1074.7,1598.3 L1078.2,1598.3 L1081.8,1598.2 L1085.3,1598.2 L1088.9,1598.2 L1092.4,1598.1 L1096.0,1598.1 L1099.5,1598.0 L1103.1,1598.0" fill="none" stroke="#dc1c1c" stroke-width="2.6"/>
<path d="M128.4,1298.0h12M134.4,1292.0v12" stroke="#dc1c1c" stroke-width="3"/>
<path d="M266.8,1308.0h12M272.8,1302.0v12" stroke="#dc1c1c" stroke-width="3"/>
<path d="M405.2,1342.3h12M411.2,1336.3v12" stroke="#dc1c1c" stroke-width="3"/>
<path d="M543.5,1483.0h12M549.5,1477.0v12" stroke="#dc1c1c" stroke-width="3"/>
<path d="M681.9,1598.0h12M687.9,1592.0v12" stroke="#dc1c1c" stroke-width="3"/>
<path d="M820.3,1599.0h12M826.3,1593.0v12" stroke="#dc1c1c" stroke-width="3"/>
<path d="M958.7,1598.0h12M964.7,1592.0v12" stroke="#dc1c1c" stroke-width="3"/>
<path d="M1097.1,1598.0h12M1103.1,1592.0v12" stroke="#dc1c1c" stroke-width="3"/>
<path d="M134.4,1498.0 L137.9,1497.6 L141.3,1497.3 L144.8,1496.9 L148.2,1496.5 L151.7,1496.2 L155.2,1495.8 L158.6,1495.4 L162.1,1495.0 L165.5,1494.7 L169.0,1494.3 L172.5,1493.9 L175.9,1493.5 L179.4,1493.1 L182.8,1492.7 L186.3,1492.3 L189.8,1491.8 L193.2,1491.4 L196.7,1491.0 L200.1,1490.5 L203.6,1490.1 L207.0,1489.6 L210.5,1489.1 L214.0,1488.7 L217.4,1488.2 L220.9,1487.7 L224.3,1487.1 L227.8,1486.6 L231.3,1486.1 L234.7,1485.5 L238.2,1484.9 L241.6,1484.4 L245.1,1483.8 L248.6,1483.2 L252.0,1482.5 L255.5,1481.9 L258.9,1481.2 L262.4,1480.5 L265.9,1479.8 L269.3,1479.1 L272.8,1478.4 L276.2,1477.7 L279.7,1476.9 L283.2,1476.1 L286.6,1475.3 L290.1,1474.5 L293.5,1473.6 L297.0,1472.7 L300.5,1471.9 L303.9,1471.0 L307.4,1470.0 L310.8,1469.1 L314.3,1468.1 L317.8,1467.1 L321.2,1466.1 L324.7,1465.1 L328.1,1464.0 L331.6,1463.0 L335.1,1461.9 L338.5,1460.8 L342.0,1459.6 L345.4,1458.5 L348.9,1457.3 L352.3,1456.1 L355.8,1454.8 L359.3,1453.6 L362.7,1452.3 L366.2,1451.0 L369.6,1449.7 L373.1,1448.4 L376.6,1447.0 L380.0,1445.6 L383.5,1444.2 L386.9,1442.8 L390.4,1441.3 L393.9,1439.8 L397.3,1438.3 L400.8,1436.8 L404.2,1435.2 L407.7,1433.6 L411.2,1432.0 L414.6,1430.4 L418.1,1428.7 L421.5,1427.0 L425.0,1425.3 L428.5,1423.6 L431.9,1421.9 L435.4,1420.2 L438.8,1418.5 L442.3,1416.7 L445.8,1415.0 L449.2,1413.3 L452.7,1411.6 L456.1,1409.9 L459.6,1408.2 L463.1,1406.6 L466.5,1404.9 L470.0,1403.3 L473.4,1401.7 L476.9,1400.1 L480.3,1398.6 L483.8,1397.1 L487.3,1395.7 L490.7,1394.3 L494.2,1392.9 L497.6,1391.6 L501.1,1390.4 L504.6,1389.1 L508.0,1388.0 L511.5,1386.9 L514.9,1385.9 L518.4,1385.0 L521.9,1384.1 L525.3,1383.3 L528.8,1382.6 L532.2,1381.9 L535.7,1381.3 L539.2,1380.9 L542.6,1380.5 L546.1,1380.2 L549.5,1380.0 L553.0,1379.9 L556.5,1379.9 L559.9,1380.0 L563.4,1380.1 L566.8,1380.4 L570.3,1380.7 L573.8,1381.0 L577.2,1381.4 L580.7,1381.9 L584.1,1382.3 L587.6,1382.9 L591.1,1383.4 L594.5,1383.9 L598.0,1384.5 L601.4,1385.1 L604.9,1385.6 L608.4,1386.2 L611.8,1386.7 L615.3,1387.2 L618.7,1387.7 L622.2,1388.1 L625.6,1388.5 L629.1,1388.9 L632.6,1389.2 L636.0,1389.4 L639.5,1389.5 L642.9,1389.6 L646.4,1389.6 L649.9,1389.4 L653.3,1389.2 L656.8,1388.9 L660.2,1388.5 L663.7,1387.9 L667.2,1387.2 L670.6,1386.4 L674.1,1385.4 L677.5,1384.3 L681.0,1383.0 L684.5,1381.6 L687.9,1380.0 L691.4,1378.2 L694.8,1376.3 L698.3,1374.2 L701.8,1371.9 L705.2,1369.5 L708.7,1367.0 L712.1,1364.4 L715.6,1361.6 L719.1,1358.7 L722.5,1355.8 L726.0,1352.7 L729.4,1349.6 L732.9,1346.4 L736.4,1343.2 L739.8,1339.9 L743.3,1336.5 L746.7,1333.1 L750.2,1329.7 L753.6,1326.3 L757.1,1322.8 L760.6,1319.4 L764.0,1316.0 L767.5,1312.6 L770.9,1309.2 L774.4,1305.9 L777.9,1302.6 L781.3,1299.3 L784.8,1296.2 L788.2,1293.1 L791.7,1290.0 L795.2,1287.1 L798.6,1284.3 L802.1,1281.6 L805.5,1279.0 L809.0,1276.5 L812.5,1274.1 L815.9,1271.9 L819.4,1269.9 L822.8,1268.0 L826.3,1266.3 L829.8,1264.8 L833.2,1263.4 L836.7,1262.2 L840.1,1261.2 L843.6,1260.3 L847.1,1259.5 L850.5,1258.9 L854.0,1258.5 L857.4,1258.1 L860.9,1257.9 L864.4,1257.8 L867.8,1257.8 L871.3,1258.0 L874.7,1258.2 L878.2,1258.5 L881.7,1258.9 L885.1,1259.3 L888.6,1259.8 L892.0,1260.4 L895.5,1261.1 L898.9,1261.8 L902.4,1262.5 L905.9,1263.3 L909.3,1264.1 L912.8,1265.0 L916.2,1265.9 L919.7,1266.7 L923.2,1267.6 L926.6,1268.5 L930.1,1269.4 L933.5,1270.2 L937.0,1271.1 L940.5,1271.9 L943.9,1272.7 L947.4,1273.4 L950.8,1274.2 L954.3,1274.8 L957.8,1275.4 L961.2,1275.9 L964.7,1276.4 L968.2,1276.8 L971.8,1277.1 L975.3,1277.4 L978.9,1277.5 L982.4,1277.6 L986.0,1277.6 L989.5,1277.6 L993.1,1277.5 L996.6,1277.3 L1000.2,1277.1 L1003.7,1276.8 L1007.3,1276.4 L1010.8,1276.0 L1014.4,1275.5 L1017.9,1275.0 L1021.4,1274.5 L1025.0,1273.8 L1028.5,1273.2 L1032.1,1272.5 L1035.6,1271.7 L1039.2,1271.0 L1042.7,1270.1 L1046.3,1269.3 L1049.8,1268.4 L1053.4,1267.5 L1056.9,1266.5 L1060.5,1265.6 L1064.0,1264.6 L1067.6,1263.5 L1071.1,1262.5 L1074.7,1261.4 L1078.2,1260.3 L1081.8,1259.2 L1085.3,1258.1 L1088.9,1257.0 L1092.4,1255.9 L1096.0,1254.8 L1099.5,1253.6 L1103.1,1252.5" fill="none" stroke="#1418b8" stroke-width="2.6" stroke-dasharray="9.5 4 1.5 4"/>
<path d="M128.4,1498.0h12M134.4,1492.0v12" stroke="#1418b8" stroke-width="3"/>
<path d="M266.8,1478.4h12M272.8,1472.4v12" stroke="#1418b8" stroke-width="3"/>
<path d="M405.2,1432.0h12M411.2,1426.0v12" stroke="#1418b8" stroke-width="3"/>
<path d="M543.5,1380.0h12M549.5,1374.0v12" stroke="#1418b8" stroke-width="3"/>
<path d="M681.9,1380.0h12M687.9,1374.0v12" stroke="#1418b8" stroke-width="3"/>
<path d="M820.3,1266.3h12M826.3,1260.3v12" stroke="#1418b8" stroke-width="3"/>
<path d="M958.7,1276.4h12M964.7,1270.4v12" stroke="#1418b8" stroke-width="3"/>
<path d="M1097.1,1252.5h12M1103.1,1246.5v12" stroke="#1418b8" stroke-width="3"/>
<path d="M134.4,1398.0 L137.9,1398.9 L141.3,1399.8 L144.8,1400.7 L148.2,1401.6 L151.7,1402.5 L155.2,1403.4 L158.6,1404.3 L162.1,1405.1 L165.5,1406.0 L169.0,1406.8 L172.5,1407.7 L175.9,1408.5 L179.4,1409.3 L182.8,1410.0 L186.3,1410.8 L189.8,1411.5 L193.2,1412.2 L196.7,1412.9 L200.1,1413.5 L203.6,1414.1 L207.0,1414.7 L210.5,1415.3 L214.0,1415.8 L217.4,1416.3 L220.9,1416.7 L224.3,1417.1 L227.8,1417.5 L231.3,1417.8 L234.7,1418.1 L238.2,1418.4 L241.6,1418.6 L245.1,1418.7 L248.6,1418.8 L252.0,1418.9 L255.5,1418.9 L258.9,1418.8 L262.4,1418.7 L265.9,1418.5 L269.3,1418.3 L272.8,1418.0 L276.2,1417.7 L279.7,1417.2 L283.2,1416.8 L286.6,1416.3 L290.1,1415.7 L293.5,1415.1 L297.0,1414.5 L300.5,1413.8 L303.9,1413.0 L307.4,1412.3 L310.8,1411.5 L314.3,1410.7 L317.8,1409.9 L321.2,1409.0 L324.7,1408.1 L328.1,1407.2 L331.6,1406.4 L335.1,1405.5 L338.5,1404.5 L342.0,1403.6 L345.4,1402.7 L348.9,1401.9 L352.3,1401.0 L355.8,1400.1 L359.3,1399.2 L362.7,1398.4 L366.2,1397.6 L369.6,1396.8 L373.1,1396.0 L376.6,1395.3 L380.0,1394.6 L383.5,1394.0 L386.9,1393.4 L390.4,1392.8 L393.9,1392.3 L397.3,1391.8 L400.8,1391.4 L404.2,1391.0 L407.7,1390.7 L411.2,1390.5 L414.6,1390.3 L418.1,1390.2 L421.5,1390.2 L425.0,1390.2 L428.5,1390.3 L431.9,1390.4 L435.4,1390.6 L438.8,1390.8 L442.3,1391.1 L445.8,1391.4 L449.2,1391.7 L452.7,1392.0 L456.1,1392.4 L459.6,1392.9 L463.1,1393.3 L466.5,1393.8 L470.0,1394.2 L473.4,1394.7 L476.9,1395.2 L480.3,1395.7 L483.8,1396.2 L487.3,1396.7 L490.7,1397.2 L494.2,1397.7 L497.6,1398.2 L501.1,1398.7 L504.6,1399.1 L508.0,1399.5 L511.5,1400.0 L514.9,1400.3 L518.4,1400.7 L521.9,1401.0 L525.3,1401.3 L528.8,1401.5 L532.2,1401.7 L535.7,1401.9 L539.2,1402.0 L542.6,1402.1 L546.1,1402.1 L549.5,1402.0 L553.0,1401.9 L556.5,1401.7 L559.9,1401.5 L563.4,1401.2 L566.8,1400.9 L570.3,1400.5 L573.8,1400.2 L577.2,1399.7 L580.7,1399.3 L584.1,1398.9 L587.6,1398.4 L591.1,1398.0 L594.5,1397.5 L598.0,1397.1 L601.4,1396.7 L604.9,1396.3 L608.4,1395.9 L611.8,1395.5 L615.3,1395.2 L618.7,1394.9 L622.2,1394.7 L625.6,1394.5 L629.1,1394.4 L632.6,1394.3 L636.0,1394.3 L639.5,1394.4 L642.9,1394.5 L646.4,1394.8 L649.9,1395.1 L653.3,1395.5 L656.8,1396.0 L660.2,1396.7 L663.7,1397.4 L667.2,1398.2 L670.6,1399.2 L674.1,1400.3 L677.5,1401.5 L681.0,1402.9 L684.5,1404.4 L687.9,1406.0 L691.4,1407.8 L694.8,1409.7 L698.3,1411.8 L701.8,1414.0 L705.2,1416.4 L708.7,1418.8 L712.1,1421.3 L715.6,1424.0 L719.1,1426.7 L722.5,1429.5 L726.0,1432.4 L729.4,1435.4 L732.9,1438.4 L736.4,1441.4 L739.8,1444.5 L743.3,1447.7 L746.7,1450.8 L750.2,1454.0 L753.6,1457.2 L757.1,1460.4 L760.6,1463.5 L764.0,1466.7 L767.5,1469.8 L770.9,1472.9 L774.4,1476.0 L777.9,1479.0 L781.3,1482.0 L784.8,1484.9 L788.2,1487.7 L791.7,1490.5 L795.2,1493.2 L798.6,1495.7 L802.1,1498.2 L805.5,1500.6 L809.0,1502.8 L812.5,1504.9 L815.9,1506.9 L819.4,1508.8 L822.8,1510.5 L826.3,1512.0 L829.8,1513.4 L833.2,1514.6 L836.7,1515.6 L840.1,1516.5 L843.6,1517.3 L847.1,1517.9 L850.5,1518.4 L854.0,1518.8 L857.4,1519.0 L860.9,1519.2 L864.4,1519.2 L867.8,1519.1 L871.3,1518.9 L874.7,1518.6 L878.2,1518.3 L881.7,1517.8 L885.1,1517.3 L888.6,1516.8 L892.0,1516.1 L895.5,1515.4 L898.9,1514.6 L902.4,1513.8 L905.9,1513.0 L909.3,1512.1 L912.8,1511.2 L916.2,1510.3 L919.7,1509.3 L923.2,1508.4 L926.6,1507.4 L930.1,1506.4 L933.5,1505.5 L937.0,1504.5 L940.5,1503.6 L943.9,1502.7 L947.4,1501.8 L950.8,1501.0 L954.3,1500.1 L957.8,1499.4 L961.2,1498.7 L964.7,1498.0 L968.2,1497.4 L971.8,1496.8 L975.3,1496.4 L978.9,1495.9 L982.4,1495.6 L986.0,1495.2 L989.5,1495.0 L993.1,1494.8 L996.6,1494.6 L1000.2,1494.5 L1003.7,1494.5 L1007.3,1494.5 L1010.8,1494.5 L1014.4,1494.6 L1017.9,1494.7 L1021.4,1494.9 L1025.0,1495.1 L1028.5,1495.4 L1032.1,1495.6 L1035.6,1495.9 L1039.2,1496.3 L1042.7,1496.7 L1046.3,1497.1 L1049.8,1497.5 L1053.4,1497.9 L1056.9,1498.4 L1060.5,1498.9 L1064.0,1499.4 L1067.6,1500.0 L1071.1,1500.5 L1074.7,1501.1 L1078.2,1501.7 L1081.8,1502.3 L1085.3,1502.9 L1088.9,1503.5 L1092.4,1504.1 L1096.0,1504.7 L1099.5,1505.4 L1103.1,1506.0" fill="none" stroke="#dc1c1c" stroke-width="2.6" stroke-dasharray="9.5 4 1.5 4"/>
<path d="M128.4,1398.0h12M134.4,1392.0v12" stroke="#dc1c1c" stroke-width="3"/>
<path d="M266.8,1418.0h12M272.8,1412.0v12" stroke="#dc1c1c" stroke-width="3"/>
<path d="M405.2,1390.5h12M411.2,1384.5v12" stroke="#dc1c1c" stroke-width="3"/>
<path d="M543.5,1402.0h12M549.5,1396.0v12" stroke="#dc1c1c" stroke-width="3"/>
<path d="M681.9,1406.0h12M687.9,1400.0v12" stroke="#dc1c1c" stroke-width="3"/>
<path d="M820.3,1512.0h12M826.3,1506.0v12" stroke="#dc1c1c" stroke-width="3"/>
<path d="M958.7,1498.0h12M964.7,1492.0v12" stroke="#dc1c1c" stroke-width="3"/>
<path d="M1097.1,1506.0h12M1103.1,1500.0v12" stroke="#dc1c1c" stroke-width="3"/>
<text x="140.4" y="1754.5" class="tl" text-anchor="middle">0</text>
<text x="255.3" y="1754.5" class="tl" text-anchor="middle">1</text>
<text x="370.2" y="1754.5" class="tl" text-anchor="middle">2</text>
<text x="485.2" y="1754.5" class="tl" text-anchor="middle">3</text>
<text x="600.1" y="1754.5" class="tl" text-anchor="middle">4</text>
<text x="715.0" y="1754.5" class="tl" text-anchor="middle">5</text>
<text x="829.9" y="1754.5" class="tl" text-anchor="middle">6</text>
<text x="944.8" y="1754.5" class="tl" text-anchor="middle">7</text>
<text x="1059.8" y="1754.5" class="tl" text-anchor="middle">8</text>
<text x="1174.7" y="1754.5" class="tl" text-anchor="middle">9</text>
<text x="98" y="1712.5" class="tl" text-anchor="middle">0</text>
<text x="98" y="1612.5" class="tl" text-anchor="middle">1</text>
<text x="98" y="1512.5" class="tl" text-anchor="middle">2</text>
<text x="98" y="1412.5" class="tl" text-anchor="middle">3</text>
<text x="98" y="1312.5" class="tl" text-anchor="middle">4</text>
<text x="98" y="1212.5" class="tl" text-anchor="middle">5</text>
<text x="98" y="1112.5" class="tl" text-anchor="middle">6</text>
<text x="650.5" y="1818" class="tl" text-anchor="middle">Time [ps]</text>
<text transform="translate(66.5,1359) rotate(-90)" class="tl" text-anchor="middle">Coordination Number</text>
<text x="164.5" y="1056" class="lg" fill="#1010b0">Water</text>
<text x="169" y="1101" class="lg" fill="#d01414">Iodine</text>
<path d="M286,1048H385" stroke="#1418b8" stroke-width="5"/>
<path d="M286,1093.5H385" stroke="#dc1c1c" stroke-width="5"/>
<text x="906" y="1059" class="fm"><tspan fill="#111">[Pb</tspan><tspan fill="#d01414">I</tspan><tspan fill="#1010b0">(H<tspan font-size="28" dy="10">2</tspan><tspan dy="-10">O)</tspan><tspan font-size="28" dy="10" dx="3">5</tspan></tspan><tspan fill="#111" dy="-10" dx="1">]</tspan><tspan fill="#111" font-size="28" dy="-14" dx="3">+</tspan></text>
<text x="904" y="1231" class="fm"><tspan fill="#111">[Pb</tspan><tspan fill="#d01414">I<tspan font-size="28" dy="10">2</tspan></tspan><tspan fill="#1010b0" dy="-10">(H<tspan font-size="28" dy="10">2</tspan><tspan dy="-10">O)</tspan><tspan font-size="28" dy="10" dx="3">4</tspan></tspan><tspan fill="#111" dy="-10" dx="2">]</tspan></text>
<text x="66" y="70" class="pl">a)</text>
<text x="66" y="550" class="pl">b)</text>
<text x="67" y="1013" class="pl">c)</text>
</svg>
</body></html>
